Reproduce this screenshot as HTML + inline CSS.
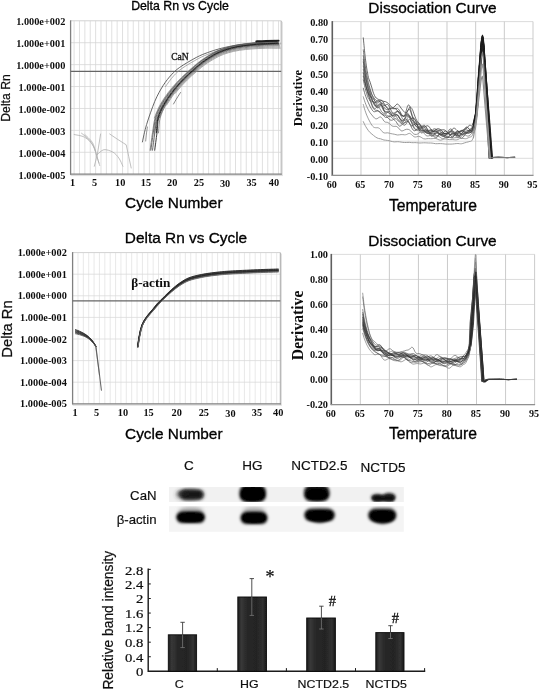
<!DOCTYPE html>
<html lang="en"><head><meta charset="utf-8"><title>Figure</title>
<style>
html,body{margin:0;padding:0;background:#fff;}
body{width:544px;height:689px;overflow:hidden;}
svg{display:block;}
.sa{font-family:"Liberation Sans", Arial, sans-serif;}
.se{font-family:"Liberation Serif", "Times New Roman", serif;}
</style></head><body>
<svg width="544" height="689" viewBox="0 0 544 689">
<defs>
<filter id="b1" x="-30%" y="-50%" width="160%" height="200%"><feGaussianBlur stdDeviation="1.2"/></filter>
<filter id="b2" x="-30%" y="-50%" width="160%" height="200%"><feGaussianBlur stdDeviation="1.6"/></filter>
<filter id="b3" x="-30%" y="-50%" width="160%" height="200%"><feGaussianBlur stdDeviation="2.2"/></filter>
<filter id="soft" x="0" y="0" width="100%" height="100%"><feGaussianBlur stdDeviation="0.35"/></filter>
</defs>
<rect width="544" height="689" fill="#fff"/>
<g filter="url(#soft)">
<line x1="74.10" y1="20.80" x2="74.10" y2="174.20" stroke="#d2d2d2" stroke-width="0.7"/>
<line x1="79.48" y1="20.80" x2="79.48" y2="174.20" stroke="#d2d2d2" stroke-width="0.7"/>
<line x1="84.86" y1="20.80" x2="84.86" y2="174.20" stroke="#d2d2d2" stroke-width="0.7"/>
<line x1="90.24" y1="20.80" x2="90.24" y2="174.20" stroke="#d2d2d2" stroke-width="0.7"/>
<line x1="95.62" y1="20.80" x2="95.62" y2="174.20" stroke="#d2d2d2" stroke-width="0.7"/>
<line x1="101.00" y1="20.80" x2="101.00" y2="174.20" stroke="#d2d2d2" stroke-width="0.7"/>
<line x1="106.38" y1="20.80" x2="106.38" y2="174.20" stroke="#d2d2d2" stroke-width="0.7"/>
<line x1="111.76" y1="20.80" x2="111.76" y2="174.20" stroke="#d2d2d2" stroke-width="0.7"/>
<line x1="117.14" y1="20.80" x2="117.14" y2="174.20" stroke="#d2d2d2" stroke-width="0.7"/>
<line x1="122.52" y1="20.80" x2="122.52" y2="174.20" stroke="#d2d2d2" stroke-width="0.7"/>
<line x1="127.90" y1="20.80" x2="127.90" y2="174.20" stroke="#d2d2d2" stroke-width="0.7"/>
<line x1="133.28" y1="20.80" x2="133.28" y2="174.20" stroke="#d2d2d2" stroke-width="0.7"/>
<line x1="138.66" y1="20.80" x2="138.66" y2="174.20" stroke="#d2d2d2" stroke-width="0.7"/>
<line x1="144.04" y1="20.80" x2="144.04" y2="174.20" stroke="#d2d2d2" stroke-width="0.7"/>
<line x1="149.42" y1="20.80" x2="149.42" y2="174.20" stroke="#d2d2d2" stroke-width="0.7"/>
<line x1="154.80" y1="20.80" x2="154.80" y2="174.20" stroke="#d2d2d2" stroke-width="0.7"/>
<line x1="160.18" y1="20.80" x2="160.18" y2="174.20" stroke="#d2d2d2" stroke-width="0.7"/>
<line x1="165.56" y1="20.80" x2="165.56" y2="174.20" stroke="#d2d2d2" stroke-width="0.7"/>
<line x1="170.94" y1="20.80" x2="170.94" y2="174.20" stroke="#d2d2d2" stroke-width="0.7"/>
<line x1="176.32" y1="20.80" x2="176.32" y2="174.20" stroke="#d2d2d2" stroke-width="0.7"/>
<line x1="181.70" y1="20.80" x2="181.70" y2="174.20" stroke="#d2d2d2" stroke-width="0.7"/>
<line x1="187.08" y1="20.80" x2="187.08" y2="174.20" stroke="#d2d2d2" stroke-width="0.7"/>
<line x1="192.46" y1="20.80" x2="192.46" y2="174.20" stroke="#d2d2d2" stroke-width="0.7"/>
<line x1="197.84" y1="20.80" x2="197.84" y2="174.20" stroke="#d2d2d2" stroke-width="0.7"/>
<line x1="203.22" y1="20.80" x2="203.22" y2="174.20" stroke="#d2d2d2" stroke-width="0.7"/>
<line x1="208.60" y1="20.80" x2="208.60" y2="174.20" stroke="#d2d2d2" stroke-width="0.7"/>
<line x1="213.98" y1="20.80" x2="213.98" y2="174.20" stroke="#d2d2d2" stroke-width="0.7"/>
<line x1="219.36" y1="20.80" x2="219.36" y2="174.20" stroke="#d2d2d2" stroke-width="0.7"/>
<line x1="224.74" y1="20.80" x2="224.74" y2="174.20" stroke="#d2d2d2" stroke-width="0.7"/>
<line x1="230.12" y1="20.80" x2="230.12" y2="174.20" stroke="#d2d2d2" stroke-width="0.7"/>
<line x1="235.50" y1="20.80" x2="235.50" y2="174.20" stroke="#d2d2d2" stroke-width="0.7"/>
<line x1="240.88" y1="20.80" x2="240.88" y2="174.20" stroke="#d2d2d2" stroke-width="0.7"/>
<line x1="246.26" y1="20.80" x2="246.26" y2="174.20" stroke="#d2d2d2" stroke-width="0.7"/>
<line x1="251.64" y1="20.80" x2="251.64" y2="174.20" stroke="#d2d2d2" stroke-width="0.7"/>
<line x1="257.02" y1="20.80" x2="257.02" y2="174.20" stroke="#d2d2d2" stroke-width="0.7"/>
<line x1="262.40" y1="20.80" x2="262.40" y2="174.20" stroke="#d2d2d2" stroke-width="0.7"/>
<line x1="267.78" y1="20.80" x2="267.78" y2="174.20" stroke="#d2d2d2" stroke-width="0.7"/>
<line x1="273.16" y1="20.80" x2="273.16" y2="174.20" stroke="#d2d2d2" stroke-width="0.7"/>
<line x1="278.54" y1="20.80" x2="278.54" y2="174.20" stroke="#d2d2d2" stroke-width="0.7"/>
<line x1="70.60" y1="42.71" x2="281.20" y2="42.71" stroke="#d4d4d4" stroke-width="0.75"/>
<line x1="70.60" y1="64.63" x2="281.20" y2="64.63" stroke="#d4d4d4" stroke-width="0.75"/>
<line x1="70.60" y1="86.54" x2="281.20" y2="86.54" stroke="#d4d4d4" stroke-width="0.75"/>
<line x1="70.60" y1="108.46" x2="281.20" y2="108.46" stroke="#d4d4d4" stroke-width="0.75"/>
<line x1="70.60" y1="130.37" x2="281.20" y2="130.37" stroke="#d4d4d4" stroke-width="0.75"/>
<line x1="70.60" y1="152.29" x2="281.20" y2="152.29" stroke="#d4d4d4" stroke-width="0.75"/>
<line x1="70.60" y1="20.80" x2="281.20" y2="20.80" stroke="#d2d2d2" stroke-width="1"/>
<line x1="281.20" y1="20.80" x2="281.20" y2="175.20" stroke="#a8a8a8" stroke-width="1"/>
<line x1="282.40" y1="21.80" x2="282.40" y2="175.70" stroke="#e2e2e2" stroke-width="1"/>
<line x1="70.60" y1="175.60" x2="282.70" y2="175.60" stroke="#dcdcdc" stroke-width="1"/>
<line x1="70.60" y1="20.30" x2="70.60" y2="174.70" stroke="#808080" stroke-width="1.3"/>
<line x1="70.10" y1="174.20" x2="281.70" y2="174.20" stroke="#808080" stroke-width="1.3"/>
<line x1="70.60" y1="71.30" x2="281.20" y2="71.30" stroke="#666" stroke-width="1.2"/>
<text class="se" x="0" y="0" font-size="10.6" font-weight="bold" text-anchor="end" fill="#111" transform="translate(65.30 25.20) scale(0.975 1)">1.000e+002</text>
<text class="se" x="0" y="0" font-size="10.6" font-weight="bold" text-anchor="end" fill="#111" transform="translate(65.30 47.11) scale(0.975 1)">1.000e+001</text>
<text class="se" x="0" y="0" font-size="10.6" font-weight="bold" text-anchor="end" fill="#111" transform="translate(65.30 69.03) scale(0.975 1)">1.000e+000</text>
<text class="se" x="0" y="0" font-size="10.6" font-weight="bold" text-anchor="end" fill="#111" transform="translate(65.30 90.94) scale(0.975 1)">1.000e-001</text>
<text class="se" x="0" y="0" font-size="10.6" font-weight="bold" text-anchor="end" fill="#111" transform="translate(65.30 112.86) scale(0.975 1)">1.000e-002</text>
<text class="se" x="0" y="0" font-size="10.6" font-weight="bold" text-anchor="end" fill="#111" transform="translate(65.30 134.77) scale(0.975 1)">1.000e-003</text>
<text class="se" x="0" y="0" font-size="10.6" font-weight="bold" text-anchor="end" fill="#111" transform="translate(65.30 156.69) scale(0.975 1)">1.000e-004</text>
<text class="se" x="0" y="0" font-size="10.6" font-weight="bold" text-anchor="end" fill="#111" transform="translate(65.30 178.60) scale(0.975 1)">1.000e-005</text>
<text class="se" x="72.70" y="186.20" font-size="10.3" font-weight="bold" text-anchor="middle" fill="#111">1</text>
<text class="se" x="94.70" y="186.20" font-size="10.3" font-weight="bold" text-anchor="middle" fill="#111">5</text>
<text class="se" x="120.20" y="186.20" font-size="10.3" font-weight="bold" text-anchor="middle" fill="#111">10</text>
<text class="se" x="146.00" y="186.20" font-size="10.3" font-weight="bold" text-anchor="middle" fill="#111">15</text>
<text class="se" x="172.20" y="186.20" font-size="10.3" font-weight="bold" text-anchor="middle" fill="#111">20</text>
<text class="se" x="198.90" y="186.20" font-size="10.3" font-weight="bold" text-anchor="middle" fill="#111">25</text>
<text class="se" x="225.10" y="187.10" font-size="10.3" font-weight="bold" text-anchor="middle" fill="#111">30</text>
<text class="se" x="251.60" y="186.20" font-size="10.3" font-weight="bold" text-anchor="middle" fill="#111">35</text>
<text class="se" x="274.00" y="186.20" font-size="10.3" font-weight="bold" text-anchor="middle" fill="#111">40</text>
<text class="sa" x="180.00" y="9.70" font-size="12.3" text-anchor="middle" fill="#000" stroke="#000" stroke-width="0.32">Delta Rn vs Cycle</text>
<text class="sa" x="173.80" y="208.20" font-size="15.4" text-anchor="middle" fill="#000" stroke="#000" stroke-width="0.32">Cycle Number</text>
<text class="sa" x="0" y="0" font-size="12.2" text-anchor="middle" fill="#111" stroke="#111" stroke-width="0.25" transform="translate(10.40 98.00) rotate(-90)">Delta Rn</text>
<path d="M142.4,141.9 C143.1,139.0 144.5,131.3 146.6,124.5 C148.7,117.7 152.1,107.8 154.8,101.3 C157.6,94.8 160.3,90.0 163.1,85.6 C165.9,81.2 168.6,77.8 171.4,74.8 C174.2,71.8 175.6,70.3 179.7,67.4 C183.8,64.5 191.5,60.0 196.2,57.5 C200.9,55.0 203.8,54.0 207.8,52.5 C211.8,51.0 215.6,49.8 220.0,48.6 C224.4,47.5 229.0,46.4 234.0,45.6 C239.0,44.8 242.6,44.3 250.0,43.8 C257.4,43.3 273.8,43.0 278.5,42.8" fill="none" stroke="#555" stroke-width="0.9" stroke-linejoin="round" stroke-linecap="round"/>
<path d="M145.7,141.0 C145.8,139.8 146.1,136.3 146.4,134.0 C146.7,131.7 147.2,128.2 147.4,127.0" fill="none" stroke="#777" stroke-width="0.8" stroke-linejoin="round" stroke-linecap="round"/>
<path d="M165.4,86.6 C166.8,84.8 170.9,78.8 173.7,75.8 C176.5,72.8 177.9,71.3 182.0,68.4 C186.1,65.5 193.8,61.0 198.5,58.5 C203.2,56.0 206.1,55.0 210.1,53.5 C214.1,52.0 217.9,50.8 222.3,49.6 C226.7,48.5 231.3,47.4 236.3,46.6 C241.3,45.8 244.9,45.3 252.3,44.8 C259.7,44.3 276.1,44.0 280.8,43.8" fill="none" stroke="#8a8a8a" stroke-width="0.7" stroke-linejoin="round" stroke-linecap="round"/>
<path d="M154.3,117.9 C155.3,115.7 157.8,108.9 160.2,104.6 C162.5,100.3 165.7,95.9 168.5,92.1 C171.3,88.4 174.1,85.3 176.9,82.2 C179.7,79.2 182.5,76.5 185.2,73.9 C188.0,71.3 190.7,68.8 193.5,66.5 C196.3,64.1 198.5,62.1 201.9,59.8 C205.2,57.5 209.8,54.5 213.4,52.6 C217.0,50.7 220.0,49.6 223.5,48.4 C227.0,47.2 230.5,46.2 234.5,45.4 C238.5,44.5 243.1,43.9 247.6,43.4 C252.1,42.8 256.9,42.4 261.6,42.0 C266.4,41.7 273.9,41.4 276.3,41.3" fill="none" stroke="#808080" stroke-width="0.7" stroke-linejoin="round" stroke-linecap="round"/>
<path d="M150.1,150.2 C150.5,147.3 151.7,138.2 152.5,132.8 C153.4,127.4 153.7,122.6 155.1,117.9 C156.5,113.2 158.5,108.9 160.9,104.6 C163.2,100.3 166.4,95.9 169.2,92.2 C172.0,88.5 174.8,85.4 177.5,82.3 C180.3,79.3 183.1,76.7 185.9,74.1 C188.6,71.4 191.3,69.0 194.1,66.7 C196.9,64.3 199.1,62.3 202.4,60.0 C205.7,57.7 210.4,54.8 214.0,52.9 C217.6,51.0 220.5,49.9 224.0,48.7 C227.5,47.5 231.0,46.6 235.0,45.7 C239.0,44.9 243.5,44.3 248.0,43.8 C252.6,43.2 257.3,42.8 262.1,42.5 C266.8,42.2 274.3,41.9 276.7,41.8" fill="none" stroke="#666" stroke-width="0.75" stroke-linejoin="round" stroke-linecap="round"/>
<path d="M150.9,150.2 C151.3,147.3 152.5,138.2 153.3,132.8 C154.1,127.4 154.4,122.6 155.8,117.9 C157.2,113.2 159.2,108.9 161.6,104.6 C163.9,100.3 167.1,95.9 169.9,92.2 C172.7,88.5 175.4,85.3 178.2,82.3 C181.0,79.3 183.8,76.6 186.5,74.0 C189.2,71.4 191.9,68.9 194.7,66.6 C197.4,64.2 199.7,62.2 203.0,59.9 C206.3,57.6 210.9,54.7 214.5,52.8 C218.1,50.9 221.0,49.8 224.5,48.6 C228.0,47.4 231.5,46.4 235.5,45.6 C239.5,44.8 244.0,44.2 248.5,43.6 C253.0,43.0 257.7,42.6 262.5,42.3 C267.3,42.0 274.7,41.7 277.1,41.6" fill="none" stroke="#505050" stroke-width="0.8" stroke-linejoin="round" stroke-linecap="round"/>
<path d="M154.1,132.8 C154.5,130.3 155.2,122.6 156.5,117.9 C157.9,113.3 160.0,109.0 162.3,104.7 C164.7,100.4 167.8,96.0 170.6,92.3 C173.3,88.6 176.1,85.5 178.9,82.5 C181.6,79.4 184.4,76.8 187.1,74.2 C189.9,71.6 192.6,69.2 195.3,66.9 C198.0,64.5 200.3,62.5 203.6,60.2 C206.9,57.9 211.5,55.0 215.0,53.2 C218.6,51.3 221.5,50.2 225.0,49.0 C228.5,47.9 232.0,46.9 236.0,46.1 C240.0,45.3 244.5,44.7 249.0,44.2 C253.4,43.6 258.2,43.2 262.9,42.9 C267.7,42.6 275.1,42.4 277.5,42.3" fill="none" stroke="#707070" stroke-width="0.7" stroke-linejoin="round" stroke-linecap="round"/>
<path d="M152.5,150.2 C152.9,147.3 154.0,138.2 154.8,132.8 C155.6,127.5 155.9,122.7 157.3,118.0 C158.7,113.3 160.7,109.0 163.0,104.7 C165.4,100.5 168.5,96.1 171.3,92.4 C174.0,88.7 176.8,85.6 179.5,82.6 C182.3,79.6 185.0,77.0 187.8,74.4 C190.5,71.8 193.2,69.4 195.9,67.1 C198.6,64.7 200.9,62.7 204.1,60.4 C207.4,58.2 212.0,55.3 215.6,53.4 C219.2,51.6 222.0,50.5 225.5,49.3 C229.0,48.2 232.5,47.3 236.5,46.5 C240.5,45.7 244.9,45.1 249.4,44.6 C253.9,44.1 258.6,43.7 263.4,43.4 C268.1,43.1 275.5,42.9 277.9,42.8" fill="none" stroke="#444" stroke-width="0.8" stroke-linejoin="round" stroke-linecap="round"/>
<path d="M156.4,132.8 C156.7,130.4 156.8,122.7 158.0,118.0 C159.2,113.3 161.4,109.0 163.7,104.8 C166.1,100.5 169.2,96.2 172.0,92.5 C174.7,88.8 177.4,85.7 180.2,82.7 C182.9,79.7 185.7,77.1 188.4,74.5 C191.1,71.9 193.8,69.6 196.5,67.2 C199.2,64.9 201.4,62.9 204.7,60.7 C208.0,58.4 212.6,55.6 216.1,53.7 C219.7,51.9 222.6,50.8 226.0,49.7 C229.5,48.5 233.0,47.6 237.0,46.8 C240.9,46.0 245.4,45.5 249.9,45.0 C254.3,44.5 259.0,44.1 263.8,43.8 C268.5,43.6 275.9,43.4 278.3,43.3" fill="none" stroke="#1c1c1c" stroke-width="1.0" stroke-linejoin="round" stroke-linecap="round"/>
<path d="M154.7,150.2 C155.1,147.3 156.3,138.2 157.0,132.9 C157.6,127.5 157.4,122.7 158.6,118.1 C159.8,113.4 162.0,109.1 164.3,104.9 C166.6,100.6 169.7,96.3 172.5,92.6 C175.2,88.9 177.9,85.8 180.7,82.9 C183.4,79.9 186.1,77.3 188.9,74.7 C191.6,72.2 194.2,69.8 196.9,67.5 C199.7,65.2 201.9,63.2 205.1,61.0 C208.4,58.8 213.0,55.9 216.5,54.1 C220.1,52.3 223.0,51.2 226.4,50.1 C229.9,49.0 233.4,48.1 237.3,47.3 C241.3,46.6 245.8,46.0 250.2,45.5 C254.7,45.1 259.4,44.7 264.1,44.5 C268.8,44.2 276.2,44.1 278.6,44.0" fill="none" stroke="#2a2a2a" stroke-width="0.9" stroke-linejoin="round" stroke-linecap="round"/>
<path d="M159.2,118.1 C160.2,115.9 162.6,109.2 164.9,105.0 C167.2,100.7 170.3,96.4 173.1,92.8 C175.8,89.1 178.5,86.0 181.2,83.1 C184.0,80.1 186.7,77.5 189.4,75.0 C192.1,72.4 194.8,70.1 197.5,67.8 C200.2,65.5 202.4,63.6 205.6,61.4 C208.9,59.1 213.5,56.3 217.0,54.5 C220.6,52.7 223.4,51.7 226.9,50.6 C230.3,49.5 233.8,48.6 237.7,47.9 C241.7,47.1 246.2,46.6 250.6,46.2 C255.1,45.7 259.8,45.4 264.5,45.2 C269.2,45.0 276.5,44.9 279.0,44.8" fill="none" stroke="#555" stroke-width="0.8" stroke-linejoin="round" stroke-linecap="round"/>
<path d="M158.5,132.9 C158.8,130.4 158.9,122.8 160.1,118.2 C161.3,113.5 163.4,109.3 165.7,105.1 C168.0,100.9 171.1,96.6 173.8,92.9 C176.6,89.3 179.3,86.2 182.0,83.3 C184.7,80.4 187.4,77.8 190.1,75.3 C192.8,72.8 195.5,70.4 198.1,68.2 C200.8,65.9 203.0,64.0 206.3,61.8 C209.5,59.6 214.1,56.8 217.6,55.1 C221.2,53.3 224.0,52.3 227.5,51.2 C230.9,50.1 234.3,49.3 238.3,48.6 C242.2,47.9 246.7,47.4 251.1,47.0 C255.6,46.6 260.3,46.3 265.0,46.1 C269.7,45.9 277.0,45.8 279.4,45.8" fill="none" stroke="#6a6a6a" stroke-width="0.75" stroke-linejoin="round" stroke-linecap="round"/>
<path d="M166.5,105.2 C167.9,103.2 171.9,96.7 174.6,93.1 C177.3,89.5 180.0,86.5 182.7,83.6 C185.4,80.7 188.1,78.1 190.8,75.6 C193.5,73.2 196.1,70.9 198.8,68.6 C201.5,66.4 203.7,64.5 206.9,62.4 C210.2,60.2 214.7,57.4 218.2,55.7 C221.8,54.0 224.6,53.0 228.0,52.0 C231.5,50.9 234.9,50.1 238.8,49.5 C242.8,48.8 247.2,48.3 251.6,48.0 C256.1,47.6 260.7,47.3 265.4,47.2 C270.1,47.0 277.4,47.0 279.9,47.0" fill="none" stroke="#808080" stroke-width="0.75" stroke-linejoin="round" stroke-linecap="round"/>
<path d="M175.3,93.3 C176.6,91.8 180.7,86.7 183.4,83.9 C186.1,81.0 188.8,78.5 191.4,76.0 C194.1,73.6 196.7,71.3 199.4,69.1 C202.1,66.9 204.3,65.0 207.5,62.9 C210.7,60.8 215.3,58.1 218.8,56.4 C222.3,54.7 225.1,53.7 228.6,52.7 C232.0,51.7 235.4,50.9 239.3,50.3 C243.2,49.7 247.7,49.3 252.1,48.9 C256.5,48.6 261.2,48.4 265.9,48.2 C270.6,48.1 277.9,48.2 280.2,48.2" fill="none" stroke="#8c8c8c" stroke-width="0.75" stroke-linejoin="round" stroke-linecap="round"/>
<path d="M256.3,41.4 C257.9,41.3 262.3,41.0 266.0,40.9 C269.7,40.8 276.5,40.8 278.6,40.8" fill="none" stroke="#1c1c1c" stroke-width="2.0" stroke-linejoin="round" stroke-linecap="round"/>
<path d="M173.5,104.0 C174.1,103.0 175.8,99.9 177.0,98.0 C178.2,96.1 179.9,93.4 180.5,92.5" fill="none" stroke="#666" stroke-width="0.8" stroke-linejoin="round" stroke-linecap="round"/>
<path d="M74.1,134.5 C75.9,135.0 81.6,135.5 84.8,137.3 C88.0,139.2 91.0,142.2 93.1,145.6 C95.2,149.0 96.2,154.7 97.3,158.0 C98.4,161.3 99.3,164.2 99.7,165.5" fill="none" stroke="#b0b0b0" stroke-width="0.8" stroke-linejoin="round" stroke-linecap="round"/>
<path d="M81.5,133.2 C82.9,134.4 87.6,137.8 89.8,140.6 C92.0,143.3 93.3,146.0 94.8,149.7 C96.3,153.4 98.2,160.8 98.9,163.0" fill="none" stroke="#b0b0b0" stroke-width="0.8" stroke-linejoin="round" stroke-linecap="round"/>
<path d="M84.8,134.5 C86.0,135.8 90.5,139.5 92.3,142.3 C94.1,145.1 95.0,149.9 95.6,151.4" fill="none" stroke="#b0b0b0" stroke-width="0.8" stroke-linejoin="round" stroke-linecap="round"/>
<path d="M94.3,166.3 L97.3,154.7 L100.6,134.0" fill="none" stroke="#b0b0b0" stroke-width="0.8" stroke-linejoin="round" stroke-linecap="round"/>
<path d="M97.3,154.7 C98.4,153.9 101.3,150.1 103.9,149.7 C106.5,149.3 110.5,150.8 113.0,152.2 C115.5,153.6 117.1,155.7 118.8,158.0 C120.5,160.3 122.2,164.9 122.9,166.3" fill="none" stroke="#b0b0b0" stroke-width="0.8" stroke-linejoin="round" stroke-linecap="round"/>
<path d="M109.7,134.0 L117.1,139.0 L126.2,144.8 L128.7,156.4 L131.2,168.0" fill="none" stroke="#b0b0b0" stroke-width="0.8" stroke-linejoin="round" stroke-linecap="round"/>
<text class="se" x="0" y="0" font-size="11" text-anchor="start" fill="#1a1a1a" stroke="#1a1a1a" stroke-width="0.4" transform="translate(171.20 59.80) scale(0.87 1)">CaN</text>
<line x1="77.97" y1="252.60" x2="77.97" y2="403.80" stroke="#e0e0e0" stroke-width="0.7"/>
<line x1="83.34" y1="252.60" x2="83.34" y2="403.80" stroke="#e0e0e0" stroke-width="0.7"/>
<line x1="88.71" y1="252.60" x2="88.71" y2="403.80" stroke="#e0e0e0" stroke-width="0.7"/>
<line x1="94.08" y1="252.60" x2="94.08" y2="403.80" stroke="#e0e0e0" stroke-width="0.7"/>
<line x1="99.45" y1="252.60" x2="99.45" y2="403.80" stroke="#e0e0e0" stroke-width="0.7"/>
<line x1="104.82" y1="252.60" x2="104.82" y2="403.80" stroke="#e0e0e0" stroke-width="0.7"/>
<line x1="110.19" y1="252.60" x2="110.19" y2="403.80" stroke="#e0e0e0" stroke-width="0.7"/>
<line x1="115.56" y1="252.60" x2="115.56" y2="403.80" stroke="#e0e0e0" stroke-width="0.7"/>
<line x1="120.93" y1="252.60" x2="120.93" y2="403.80" stroke="#e0e0e0" stroke-width="0.7"/>
<line x1="126.30" y1="252.60" x2="126.30" y2="403.80" stroke="#e0e0e0" stroke-width="0.7"/>
<line x1="131.67" y1="252.60" x2="131.67" y2="403.80" stroke="#e0e0e0" stroke-width="0.7"/>
<line x1="137.04" y1="252.60" x2="137.04" y2="403.80" stroke="#e0e0e0" stroke-width="0.7"/>
<line x1="142.41" y1="252.60" x2="142.41" y2="403.80" stroke="#e0e0e0" stroke-width="0.7"/>
<line x1="147.78" y1="252.60" x2="147.78" y2="403.80" stroke="#e0e0e0" stroke-width="0.7"/>
<line x1="153.15" y1="252.60" x2="153.15" y2="403.80" stroke="#e0e0e0" stroke-width="0.7"/>
<line x1="158.52" y1="252.60" x2="158.52" y2="403.80" stroke="#e0e0e0" stroke-width="0.7"/>
<line x1="163.89" y1="252.60" x2="163.89" y2="403.80" stroke="#e0e0e0" stroke-width="0.7"/>
<line x1="169.26" y1="252.60" x2="169.26" y2="403.80" stroke="#e0e0e0" stroke-width="0.7"/>
<line x1="174.63" y1="252.60" x2="174.63" y2="403.80" stroke="#e0e0e0" stroke-width="0.7"/>
<line x1="180.00" y1="252.60" x2="180.00" y2="403.80" stroke="#e0e0e0" stroke-width="0.7"/>
<line x1="185.37" y1="252.60" x2="185.37" y2="403.80" stroke="#e0e0e0" stroke-width="0.7"/>
<line x1="190.74" y1="252.60" x2="190.74" y2="403.80" stroke="#e0e0e0" stroke-width="0.7"/>
<line x1="196.11" y1="252.60" x2="196.11" y2="403.80" stroke="#e0e0e0" stroke-width="0.7"/>
<line x1="201.48" y1="252.60" x2="201.48" y2="403.80" stroke="#e0e0e0" stroke-width="0.7"/>
<line x1="206.85" y1="252.60" x2="206.85" y2="403.80" stroke="#e0e0e0" stroke-width="0.7"/>
<line x1="212.22" y1="252.60" x2="212.22" y2="403.80" stroke="#e0e0e0" stroke-width="0.7"/>
<line x1="217.59" y1="252.60" x2="217.59" y2="403.80" stroke="#e0e0e0" stroke-width="0.7"/>
<line x1="222.96" y1="252.60" x2="222.96" y2="403.80" stroke="#e0e0e0" stroke-width="0.7"/>
<line x1="228.33" y1="252.60" x2="228.33" y2="403.80" stroke="#e0e0e0" stroke-width="0.7"/>
<line x1="233.70" y1="252.60" x2="233.70" y2="403.80" stroke="#e0e0e0" stroke-width="0.7"/>
<line x1="239.07" y1="252.60" x2="239.07" y2="403.80" stroke="#e0e0e0" stroke-width="0.7"/>
<line x1="244.44" y1="252.60" x2="244.44" y2="403.80" stroke="#e0e0e0" stroke-width="0.7"/>
<line x1="249.81" y1="252.60" x2="249.81" y2="403.80" stroke="#e0e0e0" stroke-width="0.7"/>
<line x1="255.18" y1="252.60" x2="255.18" y2="403.80" stroke="#e0e0e0" stroke-width="0.7"/>
<line x1="260.55" y1="252.60" x2="260.55" y2="403.80" stroke="#e0e0e0" stroke-width="0.7"/>
<line x1="265.92" y1="252.60" x2="265.92" y2="403.80" stroke="#e0e0e0" stroke-width="0.7"/>
<line x1="271.29" y1="252.60" x2="271.29" y2="403.80" stroke="#e0e0e0" stroke-width="0.7"/>
<line x1="276.66" y1="252.60" x2="276.66" y2="403.80" stroke="#e0e0e0" stroke-width="0.7"/>
<line x1="72.60" y1="274.20" x2="280.30" y2="274.20" stroke="#dadada" stroke-width="0.75"/>
<line x1="72.60" y1="295.80" x2="280.30" y2="295.80" stroke="#dadada" stroke-width="0.75"/>
<line x1="72.60" y1="317.40" x2="280.30" y2="317.40" stroke="#dadada" stroke-width="0.75"/>
<line x1="72.60" y1="339.00" x2="280.30" y2="339.00" stroke="#dadada" stroke-width="0.75"/>
<line x1="72.60" y1="360.60" x2="280.30" y2="360.60" stroke="#dadada" stroke-width="0.75"/>
<line x1="72.60" y1="382.20" x2="280.30" y2="382.20" stroke="#dadada" stroke-width="0.75"/>
<line x1="72.60" y1="252.60" x2="280.30" y2="252.60" stroke="#d2d2d2" stroke-width="1"/>
<line x1="280.30" y1="252.60" x2="280.30" y2="404.80" stroke="#a8a8a8" stroke-width="1"/>
<line x1="281.50" y1="253.60" x2="281.50" y2="405.30" stroke="#e2e2e2" stroke-width="1"/>
<line x1="72.60" y1="405.20" x2="281.80" y2="405.20" stroke="#dcdcdc" stroke-width="1"/>
<line x1="72.60" y1="252.10" x2="72.60" y2="404.30" stroke="#808080" stroke-width="1.3"/>
<line x1="72.10" y1="403.80" x2="280.80" y2="403.80" stroke="#808080" stroke-width="1.3"/>
<line x1="72.60" y1="300.90" x2="280.30" y2="300.90" stroke="#666" stroke-width="1.2"/>
<text class="se" x="0" y="0" font-size="10.6" font-weight="bold" text-anchor="end" fill="#111" transform="translate(66.80 256.10) scale(0.975 1)">1.000e+002</text>
<text class="se" x="0" y="0" font-size="10.6" font-weight="bold" text-anchor="end" fill="#111" transform="translate(66.80 277.70) scale(0.975 1)">1.000e+001</text>
<text class="se" x="0" y="0" font-size="10.6" font-weight="bold" text-anchor="end" fill="#111" transform="translate(66.80 299.30) scale(0.975 1)">1.000e+000</text>
<text class="se" x="0" y="0" font-size="10.6" font-weight="bold" text-anchor="end" fill="#111" transform="translate(66.80 320.90) scale(0.975 1)">1.000e-001</text>
<text class="se" x="0" y="0" font-size="10.6" font-weight="bold" text-anchor="end" fill="#111" transform="translate(66.80 342.50) scale(0.975 1)">1.000e-002</text>
<text class="se" x="0" y="0" font-size="10.6" font-weight="bold" text-anchor="end" fill="#111" transform="translate(66.80 364.10) scale(0.975 1)">1.000e-003</text>
<text class="se" x="0" y="0" font-size="10.6" font-weight="bold" text-anchor="end" fill="#111" transform="translate(66.80 385.70) scale(0.975 1)">1.000e-004</text>
<text class="se" x="0" y="0" font-size="10.6" font-weight="bold" text-anchor="end" fill="#111" transform="translate(66.80 407.30) scale(0.975 1)">1.000e-005</text>
<text class="se" x="75.00" y="416.30" font-size="10.3" font-weight="bold" text-anchor="middle" fill="#111">1</text>
<text class="se" x="96.50" y="416.30" font-size="10.3" font-weight="bold" text-anchor="middle" fill="#111">5</text>
<text class="se" x="123.00" y="416.30" font-size="10.3" font-weight="bold" text-anchor="middle" fill="#111">10</text>
<text class="se" x="148.60" y="416.30" font-size="10.3" font-weight="bold" text-anchor="middle" fill="#111">15</text>
<text class="se" x="176.70" y="416.30" font-size="10.3" font-weight="bold" text-anchor="middle" fill="#111">20</text>
<text class="se" x="203.80" y="416.30" font-size="10.3" font-weight="bold" text-anchor="middle" fill="#111">25</text>
<text class="se" x="230.50" y="417.20" font-size="10.3" font-weight="bold" text-anchor="middle" fill="#111">30</text>
<text class="se" x="257.00" y="416.30" font-size="10.3" font-weight="bold" text-anchor="middle" fill="#111">35</text>
<text class="se" x="278.20" y="416.30" font-size="10.3" font-weight="bold" text-anchor="middle" fill="#111">40</text>
<text class="sa" x="186.00" y="242.90" font-size="15.4" text-anchor="middle" fill="#000" stroke="#000" stroke-width="0.32">Delta Rn vs Cycle</text>
<text class="sa" x="173.80" y="438.60" font-size="15.4" text-anchor="middle" fill="#000" stroke="#000" stroke-width="0.32">Cycle Number</text>
<text class="sa" x="0" y="0" font-size="14.8" text-anchor="middle" fill="#111" stroke="#111" stroke-width="0.25" transform="translate(12.20 329.00) rotate(-90)">Delta Rn</text>
<path d="M137.5,346.6 C137.8,344.8 138.5,339.3 139.2,335.7 C139.9,332.0 140.6,328.0 141.9,324.7 C143.1,321.5 144.9,319.0 146.7,316.4 C148.5,313.8 151.1,311.1 152.9,309.0 C154.6,306.8 155.7,305.3 157.2,303.6 C158.7,301.9 160.3,300.6 162.1,298.8 C163.9,297.0 165.8,294.9 168.0,292.9 C170.2,290.8 172.8,288.3 175.3,286.3 C177.8,284.3 180.3,282.4 183.0,280.8 C185.7,279.2 187.7,278.1 191.4,276.9 C195.1,275.7 200.7,274.6 205.1,273.8 C209.5,273.0 213.4,272.6 218.0,272.1 C222.6,271.6 225.6,271.3 232.7,270.9 C239.8,270.5 252.7,269.9 260.3,269.6 C267.9,269.3 275.2,269.1 278.2,269.0" fill="none" stroke="#1a1a1a" stroke-width="1.0" stroke-opacity="0.85" stroke-linejoin="round" stroke-linecap="round"/>
<path d="M137.6,346.7 C137.9,344.9 138.5,339.4 139.3,335.8 C140.0,332.1 140.7,328.1 142.0,324.9 C143.2,321.7 144.9,319.2 146.8,316.6 C148.6,314.0 151.2,311.3 153.0,309.2 C154.7,307.1 155.8,305.6 157.3,303.9 C158.8,302.2 160.3,300.9 162.1,299.1 C163.9,297.3 165.8,295.2 168.0,293.2 C170.2,291.1 172.8,288.7 175.3,286.7 C177.8,284.7 180.3,282.7 183.0,281.2 C185.7,279.6 187.7,278.5 191.4,277.3 C195.1,276.1 200.7,275.0 205.1,274.2 C209.5,273.4 213.4,273.0 218.0,272.5 C222.6,272.0 225.6,271.7 232.7,271.3 C239.8,270.9 252.7,270.3 260.3,270.0 C267.9,269.7 275.2,269.5 278.2,269.4" fill="none" stroke="#333" stroke-width="1.0" stroke-opacity="0.85" stroke-linejoin="round" stroke-linecap="round"/>
<path d="M137.7,346.7 C137.9,344.9 138.6,339.5 139.4,335.9 C140.1,332.2 140.8,328.2 142.1,325.0 C143.3,321.8 145.0,319.3 146.9,316.7 C148.7,314.1 151.3,311.5 153.1,309.4 C154.8,307.3 155.9,305.8 157.4,304.1 C158.9,302.4 160.3,301.1 162.1,299.3 C163.9,297.6 165.8,295.5 168.0,293.5 C170.2,291.4 172.8,289.0 175.3,287.0 C177.8,285.0 180.3,283.1 183.0,281.5 C185.7,280.0 187.7,278.9 191.4,277.7 C195.1,276.5 200.7,275.4 205.1,274.6 C209.5,273.8 213.4,273.4 218.0,272.9 C222.6,272.4 225.6,272.1 232.7,271.7 C239.8,271.3 252.7,270.7 260.3,270.4 C267.9,270.1 275.2,269.9 278.2,269.8" fill="none" stroke="#222" stroke-width="1.0" stroke-opacity="0.85" stroke-linejoin="round" stroke-linecap="round"/>
<path d="M137.7,346.8 C138.0,345.0 138.7,339.5 139.4,335.9 C140.2,332.3 140.9,328.3 142.1,325.1 C143.4,321.9 145.1,319.5 146.9,316.9 C148.8,314.3 151.4,311.6 153.1,309.6 C154.9,307.5 155.9,306.0 157.4,304.3 C158.9,302.7 160.3,301.4 162.1,299.6 C163.9,297.8 165.8,295.8 168.0,293.8 C170.2,291.7 172.8,289.3 175.3,287.3 C177.8,285.4 180.3,283.5 183.0,281.9 C185.7,280.4 187.7,279.3 191.4,278.1 C195.1,276.9 200.7,275.8 205.1,275.0 C209.5,274.2 213.4,273.8 218.0,273.3 C222.6,272.8 225.6,272.5 232.7,272.1 C239.8,271.7 252.7,271.1 260.3,270.8 C267.9,270.5 275.2,270.3 278.2,270.2" fill="none" stroke="#444" stroke-width="1.0" stroke-opacity="0.85" stroke-linejoin="round" stroke-linecap="round"/>
<path d="M137.8,346.8 C138.1,345.0 138.8,339.6 139.5,336.0 C140.2,332.4 140.9,328.4 142.2,325.2 C143.4,322.0 145.2,319.6 147.0,317.0 C148.8,314.4 151.4,311.8 153.2,309.7 C154.9,307.6 156.0,306.1 157.5,304.5 C159.0,302.9 160.3,301.6 162.1,299.8 C163.8,298.1 165.8,296.0 168.0,294.0 C170.2,292.0 172.8,289.6 175.3,287.6 C177.8,285.6 180.3,283.7 183.0,282.2 C185.7,280.7 187.7,279.5 191.4,278.4 C195.1,277.2 200.7,276.1 205.1,275.3 C209.5,274.5 213.4,274.1 218.0,273.6 C222.6,273.1 225.6,272.8 232.7,272.4 C239.8,272.0 252.7,271.4 260.3,271.1 C267.9,270.8 275.2,270.6 278.2,270.5" fill="none" stroke="#111" stroke-width="1.0" stroke-opacity="0.85" stroke-linejoin="round" stroke-linecap="round"/>
<path d="M137.9,346.8 C138.1,345.0 138.8,339.7 139.6,336.1 C140.3,332.5 141.0,328.4 142.3,325.3 C143.5,322.1 145.2,319.7 147.1,317.1 C148.9,314.5 151.5,311.9 153.3,309.8 C155.0,307.8 156.1,306.3 157.6,304.7 C159.0,303.0 160.4,301.7 162.1,300.0 C163.8,298.3 165.8,296.3 168.0,294.2 C170.2,292.2 172.8,289.8 175.3,287.9 C177.8,285.9 180.3,284.0 183.0,282.5 C185.7,281.0 187.7,279.8 191.4,278.7 C195.1,277.6 200.7,276.4 205.1,275.6 C209.5,274.8 213.4,274.4 218.0,273.9 C222.6,273.4 225.6,273.1 232.7,272.7 C239.8,272.3 252.7,271.7 260.3,271.4 C267.9,271.1 275.2,270.9 278.2,270.8" fill="none" stroke="#333" stroke-width="1.0" stroke-opacity="0.85" stroke-linejoin="round" stroke-linecap="round"/>
<path d="M137.9,346.9 C138.2,345.1 138.9,339.7 139.6,336.1 C140.4,332.6 141.1,328.6 142.3,325.4 C143.6,322.3 145.3,319.8 147.1,317.3 C149.0,314.7 151.6,312.1 153.3,310.0 C155.1,308.0 156.2,306.5 157.6,304.9 C159.1,303.3 160.4,302.0 162.1,300.3 C163.8,298.5 165.8,296.5 168.0,294.5 C170.2,292.5 172.8,290.1 175.3,288.2 C177.8,286.2 180.3,284.4 183.0,282.9 C185.7,281.3 187.7,280.2 191.4,279.1 C195.1,278.0 200.7,276.8 205.1,276.0 C209.5,275.2 213.4,274.8 218.0,274.3 C222.6,273.8 225.6,273.5 232.7,273.1 C239.8,272.7 252.7,272.1 260.3,271.8 C267.9,271.5 275.2,271.3 278.2,271.2" fill="none" stroke="#222" stroke-width="1.0" stroke-opacity="0.85" stroke-linejoin="round" stroke-linecap="round"/>
<path d="M138.0,346.9 C138.3,345.1 139.0,339.8 139.7,336.2 C140.5,332.7 141.2,328.7 142.4,325.5 C143.7,322.4 145.4,320.0 147.2,317.4 C149.1,314.9 151.7,312.3 153.4,310.2 C155.2,308.2 156.3,306.7 157.7,305.1 C159.2,303.5 160.4,302.2 162.1,300.5 C163.8,298.8 165.8,296.8 168.0,294.8 C170.2,292.8 172.8,290.5 175.3,288.5 C177.8,286.6 180.3,284.7 183.0,283.2 C185.7,281.7 187.7,280.6 191.4,279.5 C195.1,278.4 200.7,277.2 205.1,276.4 C209.5,275.6 213.4,275.2 218.0,274.7 C222.6,274.2 225.6,273.9 232.7,273.5 C239.8,273.1 252.7,272.5 260.3,272.2 C267.9,271.9 275.2,271.7 278.2,271.6" fill="none" stroke="#555" stroke-width="1.0" stroke-opacity="0.85" stroke-linejoin="round" stroke-linecap="round"/>
<path d="M138.1,347.0 C138.4,345.2 139.1,339.9 139.8,336.3 C140.5,332.8 141.2,328.8 142.5,325.7 C143.8,322.5 145.5,320.1 147.3,317.6 C149.1,315.1 151.8,312.5 153.5,310.4 C155.2,308.4 156.4,307.0 157.8,305.4 C159.2,303.8 160.4,302.5 162.1,300.8 C163.8,299.1 165.8,297.1 168.0,295.1 C170.2,293.1 172.8,290.8 175.3,288.9 C177.8,286.9 180.3,285.1 183.0,283.6 C185.7,282.1 187.7,281.0 191.4,279.9 C195.1,278.8 200.7,277.6 205.1,276.8 C209.5,276.0 213.4,275.6 218.0,275.1 C222.6,274.6 225.6,274.3 232.7,273.9 C239.8,273.5 252.7,272.9 260.3,272.6 C267.9,272.3 275.2,272.1 278.2,272.0" fill="none" stroke="#666" stroke-width="1.0" stroke-opacity="0.85" stroke-linejoin="round" stroke-linecap="round"/>
<path d="M75.6,329.6 C76.5,330.0 79.1,330.9 81.0,331.9 C82.9,332.8 85.2,334.0 87.0,335.4 C88.8,336.7 90.5,338.5 92.0,340.2 C93.5,342.0 95.2,345.1 95.9,346.0" fill="none" stroke="#222" stroke-width="1.0" stroke-opacity="0.85" stroke-linejoin="round" stroke-linecap="round"/>
<path d="M75.6,330.3 C76.5,330.7 79.1,331.5 81.0,332.4 C82.9,333.3 85.2,334.4 87.0,335.8 C88.8,337.1 90.5,338.8 92.0,340.5 C93.5,342.2 95.2,345.2 95.9,346.1" fill="none" stroke="#333" stroke-width="1.0" stroke-opacity="0.85" stroke-linejoin="round" stroke-linecap="round"/>
<path d="M75.6,331.0 C76.5,331.3 79.1,332.1 81.0,333.0 C82.9,333.8 85.2,334.9 87.0,336.1 C88.8,337.4 90.5,339.0 92.0,340.7 C93.5,342.4 95.2,345.3 95.9,346.2" fill="none" stroke="#1a1a1a" stroke-width="1.0" stroke-opacity="0.85" stroke-linejoin="round" stroke-linecap="round"/>
<path d="M75.6,331.6 C76.5,331.9 79.1,332.6 81.0,333.4 C82.9,334.3 85.2,335.2 87.0,336.5 C88.8,337.7 90.5,339.3 92.0,340.9 C93.5,342.6 95.2,345.4 95.9,346.3" fill="none" stroke="#444" stroke-width="1.0" stroke-opacity="0.85" stroke-linejoin="round" stroke-linecap="round"/>
<path d="M75.6,332.3 C76.5,332.6 79.1,333.2 81.0,334.0 C82.9,334.8 85.2,335.7 87.0,336.9 C88.8,338.1 90.5,339.6 92.0,341.2 C93.5,342.8 95.2,345.5 95.9,346.4" fill="none" stroke="#222" stroke-width="1.0" stroke-opacity="0.85" stroke-linejoin="round" stroke-linecap="round"/>
<path d="M75.6,333.0 C76.5,333.3 79.1,333.8 81.0,334.5 C82.9,335.3 85.2,336.1 87.0,337.3 C88.8,338.4 90.5,339.9 92.0,341.4 C93.5,342.9 95.2,345.6 95.9,346.5" fill="none" stroke="#333" stroke-width="1.0" stroke-opacity="0.85" stroke-linejoin="round" stroke-linecap="round"/>
<path d="M75.6,333.8 C76.5,334.0 79.1,334.5 81.0,335.2 C82.9,335.8 85.2,336.6 87.0,337.7 C88.8,338.8 90.5,340.2 92.0,341.7 C93.5,343.2 95.2,345.8 95.9,346.6" fill="none" stroke="#555" stroke-width="1.0" stroke-opacity="0.85" stroke-linejoin="round" stroke-linecap="round"/>
<path d="M95.9,346.3 L101.4,390.2" fill="none" stroke="#6a6a6a" stroke-width="1.1" stroke-linejoin="round" stroke-linecap="round"/>
<path d="M95.5,345.5 L99.5,375.0" fill="none" stroke="#555" stroke-width="0.8" stroke-opacity="0.7" stroke-linejoin="round" stroke-linecap="round"/>
<text class="se" x="131.20" y="287.40" font-size="13.2" font-weight="bold" text-anchor="start" fill="#111">β-actin</text>
<line x1="332.30" y1="21.60" x2="533.00" y2="21.60" stroke="#d8d8d8" stroke-width="0.9"/>
<line x1="332.30" y1="38.69" x2="533.00" y2="38.69" stroke="#d8d8d8" stroke-width="0.9"/>
<line x1="332.30" y1="55.78" x2="533.00" y2="55.78" stroke="#d8d8d8" stroke-width="0.9"/>
<line x1="332.30" y1="72.87" x2="533.00" y2="72.87" stroke="#d8d8d8" stroke-width="0.9"/>
<line x1="332.30" y1="89.96" x2="533.00" y2="89.96" stroke="#d8d8d8" stroke-width="0.9"/>
<line x1="332.30" y1="107.04" x2="533.00" y2="107.04" stroke="#d8d8d8" stroke-width="0.9"/>
<line x1="332.30" y1="124.13" x2="533.00" y2="124.13" stroke="#d8d8d8" stroke-width="0.9"/>
<line x1="332.30" y1="141.22" x2="533.00" y2="141.22" stroke="#d8d8d8" stroke-width="0.9"/>
<line x1="332.30" y1="158.31" x2="533.00" y2="158.31" stroke="#d8d8d8" stroke-width="0.9"/>
<line x1="332.30" y1="175.40" x2="533.00" y2="175.40" stroke="#d8d8d8" stroke-width="0.9"/>
<line x1="360.97" y1="21.60" x2="360.97" y2="175.40" stroke="#c8c8c8" stroke-width="0.95"/>
<line x1="389.64" y1="21.60" x2="389.64" y2="175.40" stroke="#c8c8c8" stroke-width="0.95"/>
<line x1="418.31" y1="21.60" x2="418.31" y2="175.40" stroke="#c8c8c8" stroke-width="0.95"/>
<line x1="446.99" y1="21.60" x2="446.99" y2="175.40" stroke="#c8c8c8" stroke-width="0.95"/>
<line x1="475.66" y1="21.60" x2="475.66" y2="175.40" stroke="#c8c8c8" stroke-width="0.95"/>
<line x1="504.33" y1="21.60" x2="504.33" y2="175.40" stroke="#c8c8c8" stroke-width="0.95"/>
<line x1="533.00" y1="21.60" x2="533.00" y2="175.40" stroke="#c8c8c8" stroke-width="0.95"/>
<line x1="332.30" y1="21.10" x2="332.30" y2="175.90" stroke="#5e5e5e" stroke-width="1.6"/>
<line x1="331.80" y1="175.40" x2="533.50" y2="175.40" stroke="#909090" stroke-width="1.3"/>
<text class="se" x="328.20" y="26.40" font-size="10.3" font-weight="bold" text-anchor="end" fill="#111">0.80</text>
<text class="se" x="328.20" y="43.49" font-size="10.3" font-weight="bold" text-anchor="end" fill="#111">0.70</text>
<text class="se" x="328.20" y="60.58" font-size="10.3" font-weight="bold" text-anchor="end" fill="#111">0.60</text>
<text class="se" x="328.20" y="77.67" font-size="10.3" font-weight="bold" text-anchor="end" fill="#111">0.50</text>
<text class="se" x="328.20" y="94.76" font-size="10.3" font-weight="bold" text-anchor="end" fill="#111">0.40</text>
<text class="se" x="328.20" y="111.84" font-size="10.3" font-weight="bold" text-anchor="end" fill="#111">0.30</text>
<text class="se" x="328.20" y="128.93" font-size="10.3" font-weight="bold" text-anchor="end" fill="#111">0.20</text>
<text class="se" x="328.20" y="146.02" font-size="10.3" font-weight="bold" text-anchor="end" fill="#111">0.10</text>
<text class="se" x="328.20" y="163.11" font-size="10.3" font-weight="bold" text-anchor="end" fill="#111">0.00</text>
<text class="se" x="328.20" y="180.20" font-size="10.3" font-weight="bold" text-anchor="end" fill="#111">-0.10</text>
<text class="se" x="331.70" y="187.70" font-size="10.1" font-weight="bold" text-anchor="middle" fill="#111">60</text>
<text class="se" x="360.37" y="187.70" font-size="10.1" font-weight="bold" text-anchor="middle" fill="#111">65</text>
<text class="se" x="389.04" y="187.70" font-size="10.1" font-weight="bold" text-anchor="middle" fill="#111">70</text>
<text class="se" x="417.71" y="187.70" font-size="10.1" font-weight="bold" text-anchor="middle" fill="#111">75</text>
<text class="se" x="446.39" y="187.70" font-size="10.1" font-weight="bold" text-anchor="middle" fill="#111">80</text>
<text class="se" x="475.06" y="187.70" font-size="10.1" font-weight="bold" text-anchor="middle" fill="#111">85</text>
<text class="se" x="503.73" y="187.70" font-size="10.1" font-weight="bold" text-anchor="middle" fill="#111">90</text>
<text class="se" x="532.40" y="187.70" font-size="10.1" font-weight="bold" text-anchor="middle" fill="#111">95</text>
<text class="sa" x="432.50" y="13.00" font-size="15.4" text-anchor="middle" fill="#000" stroke="#000" stroke-width="0.32">Dissociation Curve</text>
<text class="sa" x="433.00" y="210.60" font-size="15.7" text-anchor="middle" fill="#000" stroke="#000" stroke-width="0.32">Temperature</text>
<text class="se" x="0" y="0" font-size="12.7" font-weight="bold" text-anchor="middle" fill="#111" transform="translate(302.00 98.00) rotate(-90)">Derivative</text>
<path d="M363.3,37.8 C363.6,40.7 364.4,50.2 365.0,55.3 C365.6,60.3 366.1,64.3 366.7,68.0 C367.3,71.7 367.9,75.1 368.4,77.4 C369.0,79.8 369.6,80.4 370.1,82.1 C370.7,83.9 371.3,86.1 371.9,87.9 C372.4,89.8 373.0,91.9 373.6,93.4 C374.2,94.9 374.7,96.1 375.3,97.0 C375.9,97.9 376.5,98.2 377.0,98.6 C377.6,99.1 378.2,99.2 378.7,99.5 C379.3,99.7 379.9,99.9 380.5,100.2 C381.0,100.4 381.6,100.7 382.2,100.9 C382.8,101.1 383.3,101.2 383.9,101.4 C384.5,101.5 385.1,101.5 385.6,101.7 C386.2,101.9 386.8,102.2 387.3,102.6 C387.9,103.0 388.5,103.5 389.1,104.2 C389.6,104.8 390.2,105.6 390.8,106.2 C391.4,106.8 391.9,107.5 392.5,107.6 C393.1,107.8 393.7,107.4 394.2,106.9 C394.8,106.5 395.4,105.4 396.0,104.9 C396.5,104.4 397.1,103.9 397.7,104.1 C398.2,104.2 398.8,105.0 399.4,105.7 C400.0,106.4 400.5,107.4 401.1,108.2 C401.7,109.0 402.3,109.6 402.8,110.3 C403.4,111.0 404.0,111.8 404.6,112.3 C405.1,112.7 405.7,113.2 406.3,112.9 C406.8,112.5 407.4,111.3 408.0,110.4 C408.6,109.5 409.1,107.8 409.7,107.4 C410.3,106.9 410.9,107.2 411.4,107.9 C412.0,108.6 412.6,110.1 413.2,111.5 C413.7,112.9 414.3,114.9 414.9,116.3 C415.4,117.8 416.0,119.2 416.6,120.2 C417.2,121.2 417.7,121.7 418.3,122.3 C418.9,123.0 419.5,123.5 420.0,124.2 C420.6,124.9 421.2,126.0 421.8,126.6 C422.3,127.1 422.9,127.2 423.5,127.3 C424.0,127.3 424.6,127.0 425.2,126.8 C425.8,126.5 426.3,125.9 426.9,125.8 C427.5,125.7 428.1,125.7 428.6,126.2 C429.2,126.7 429.8,127.8 430.4,128.6 C430.9,129.4 431.5,130.6 432.1,131.0 C432.6,131.5 433.2,131.7 433.8,131.5 C434.4,131.3 434.9,130.5 435.5,130.1 C436.1,129.6 436.7,129.0 437.2,128.8 C437.8,128.6 438.4,128.7 439.0,128.9 C439.5,129.0 440.1,129.4 440.7,129.6 C441.3,129.8 441.8,129.8 442.4,129.8 C443.0,129.8 443.5,129.7 444.1,129.8 C444.7,130.0 445.3,130.5 445.8,130.9 C446.4,131.4 447.0,132.3 447.6,132.6 C448.1,133.0 448.7,133.2 449.3,133.0 C449.9,132.8 450.4,131.9 451.0,131.2 C451.6,130.5 452.1,129.3 452.7,128.8 C453.3,128.3 453.9,128.0 454.4,128.2 C455.0,128.3 455.6,129.1 456.2,129.6 C456.7,130.1 457.3,130.9 457.9,131.2 C458.5,131.5 459.0,131.5 459.6,131.4 C460.2,131.4 460.7,131.0 461.3,130.8 C461.9,130.5 462.5,130.2 463.0,130.0 C463.6,129.8 464.2,129.9 464.8,129.6 C465.3,129.4 465.9,129.0 466.5,128.5 C467.1,127.9 467.6,126.9 468.2,126.4 C468.8,125.8 469.3,125.2 469.9,125.1 C470.5,125.0 471.1,126.2 471.6,125.9 C472.2,125.6 473.1,123.7 473.4,123.3" fill="none" stroke="#333" stroke-width="0.8" stroke-opacity="0.9" stroke-linejoin="round" stroke-linecap="round"/>
<path d="M473.4,123.3 L475.7,113.6 L477.1,98.1 L478.5,77.4 L480.0,58.5 L481.3,42.2 L482.0,37.1 L482.5,35.3 L483.2,40.2 L485.2,79.2 L487.3,118.2 L488.7,144.1 L489.4,158.0" fill="none" stroke="#1c1c1c" stroke-width="1.1" stroke-opacity="0.9" stroke-linejoin="round" stroke-linecap="round"/>
<path d="M489.4,158.0 L491.1,157.5 L498.6,157.3 L507.2,157.6 L514.7,157.3" fill="none" stroke="#333" stroke-width="0.6" stroke-opacity="0.6" stroke-linejoin="round" stroke-linecap="round"/>
<path d="M363.3,49.8 C363.6,52.2 364.4,59.9 365.0,64.0 C365.6,68.2 366.1,71.6 366.7,74.7 C367.3,77.8 367.9,80.3 368.4,82.6 C369.0,85.0 369.6,86.9 370.1,88.8 C370.7,90.8 371.3,92.8 371.9,94.3 C372.4,95.7 373.0,96.4 373.6,97.3 C374.2,98.2 374.7,98.8 375.3,99.4 C375.9,100.0 376.5,100.7 377.0,101.0 C377.6,101.3 378.2,101.2 378.7,101.0 C379.3,100.9 379.9,100.3 380.5,100.2 C381.0,100.2 381.6,100.2 382.2,100.7 C382.8,101.2 383.3,102.3 383.9,103.1 C384.5,104.0 385.1,105.2 385.6,106.0 C386.2,106.9 386.8,107.6 387.3,108.0 C387.9,108.5 388.5,108.8 389.1,108.9 C389.6,109.1 390.2,108.9 390.8,108.8 C391.4,108.8 391.9,108.6 392.5,108.6 C393.1,108.6 393.7,108.8 394.2,108.8 C394.8,108.8 395.4,108.6 396.0,108.5 C396.5,108.5 397.1,108.2 397.7,108.5 C398.2,108.8 398.8,109.5 399.4,110.3 C400.0,111.2 400.5,112.6 401.1,113.5 C401.7,114.5 402.3,115.8 402.8,116.1 C403.4,116.4 404.0,116.4 404.6,115.4 C405.1,114.5 405.7,112.1 406.3,110.4 C406.8,108.7 407.4,105.9 408.0,105.2 C408.6,104.5 409.1,105.0 409.7,106.3 C410.3,107.5 410.9,110.8 411.4,112.7 C412.0,114.7 412.6,116.7 413.2,117.9 C413.7,119.2 414.3,119.7 414.9,120.3 C415.4,121.0 416.0,121.2 416.6,121.7 C417.2,122.3 417.7,123.0 418.3,123.6 C418.9,124.3 419.5,125.1 420.0,125.5 C420.6,126.0 421.2,126.3 421.8,126.3 C422.3,126.3 422.9,125.4 423.5,125.3 C424.0,125.2 424.6,125.2 425.2,125.8 C425.8,126.3 426.3,127.5 426.9,128.5 C427.5,129.4 428.1,130.9 428.6,131.5 C429.2,132.1 429.8,132.3 430.4,132.2 C430.9,132.0 431.5,131.0 432.1,130.5 C432.6,129.9 433.2,129.1 433.8,128.9 C434.4,128.6 434.9,128.8 435.5,129.0 C436.1,129.2 436.7,129.7 437.2,129.9 C437.8,130.2 438.4,130.3 439.0,130.3 C439.5,130.4 440.1,130.2 440.7,130.4 C441.3,130.6 441.8,131.0 442.4,131.4 C443.0,131.9 443.5,132.8 444.1,133.3 C444.7,133.7 445.3,134.1 445.8,133.9 C446.4,133.8 447.0,133.0 447.6,132.2 C448.1,131.5 448.7,130.2 449.3,129.6 C449.9,129.1 450.4,128.8 451.0,128.9 C451.6,129.1 452.1,130.0 452.7,130.6 C453.3,131.2 453.9,132.2 454.4,132.5 C455.0,132.9 455.6,132.9 456.2,132.8 C456.7,132.7 457.3,132.2 457.9,131.9 C458.5,131.7 459.0,131.5 459.6,131.4 C460.2,131.3 460.7,131.6 461.3,131.4 C461.9,131.3 462.5,130.9 463.0,130.3 C463.6,129.8 464.2,128.8 464.8,128.3 C465.3,127.7 465.9,127.1 466.5,127.0 C467.1,126.9 467.6,127.4 468.2,127.9 C468.8,128.4 469.3,129.5 469.9,129.9 C470.5,130.3 471.1,131.3 471.6,130.3 C472.2,129.4 472.8,125.2 473.1,124.1" fill="none" stroke="#444" stroke-width="0.8" stroke-opacity="0.9" stroke-linejoin="round" stroke-linecap="round"/>
<path d="M473.1,124.1 L475.4,113.9 L476.8,98.5 L478.2,78.0 L479.7,59.2 L481.0,43.0 L481.7,38.0 L482.3,36.1 L482.9,41.0 L484.9,79.7 L487.0,118.4 L488.4,144.2 L489.1,158.0" fill="none" stroke="#1c1c1c" stroke-width="1.1" stroke-opacity="0.9" stroke-linejoin="round" stroke-linecap="round"/>
<path d="M489.1,158.0 L490.9,157.5 L498.6,157.3 L507.2,157.6 L514.7,157.3" fill="none" stroke="#444" stroke-width="0.6" stroke-opacity="0.6" stroke-linejoin="round" stroke-linecap="round"/>
<path d="M363.3,55.8 C363.6,57.9 364.4,64.6 365.0,68.3 C365.6,72.0 366.1,75.1 366.7,77.9 C367.3,80.8 367.9,83.2 368.4,85.3 C369.0,87.4 369.6,88.9 370.1,90.5 C370.7,92.2 371.3,93.7 371.9,95.0 C372.4,96.3 373.0,97.3 373.6,98.4 C374.2,99.6 374.7,100.8 375.3,101.9 C375.9,103.1 376.5,104.5 377.0,105.1 C377.6,105.8 378.2,106.2 378.7,106.0 C379.3,105.9 379.9,104.9 380.5,104.4 C381.0,104.0 381.6,103.2 382.2,103.1 C382.8,103.1 383.3,103.7 383.9,104.2 C384.5,104.6 385.1,105.3 385.6,106.0 C386.2,106.6 386.8,107.3 387.3,108.1 C387.9,108.9 388.5,109.9 389.1,110.7 C389.6,111.4 390.2,112.0 390.8,112.5 C391.4,113.0 391.9,113.3 392.5,113.5 C393.1,113.7 393.7,113.9 394.2,113.8 C394.8,113.7 395.4,113.1 396.0,112.7 C396.5,112.3 397.1,111.5 397.7,111.5 C398.2,111.5 398.8,111.8 399.4,112.6 C400.0,113.3 400.5,114.9 401.1,116.0 C401.7,117.1 402.3,118.6 402.8,119.1 C403.4,119.6 404.0,119.6 404.6,119.0 C405.1,118.5 405.7,116.9 406.3,116.0 C406.8,115.2 407.4,114.1 408.0,114.1 C408.6,114.0 409.1,115.0 409.7,115.8 C410.3,116.6 410.9,118.2 411.4,119.1 C412.0,119.9 412.6,120.5 413.2,121.0 C413.7,121.5 414.3,121.6 414.9,122.1 C415.4,122.6 416.0,123.2 416.6,123.9 C417.2,124.6 417.7,125.7 418.3,126.4 C418.9,127.1 419.5,127.9 420.0,128.2 C420.6,128.5 421.2,128.4 421.8,128.1 C422.3,127.8 422.9,126.7 423.5,126.4 C424.0,126.1 424.6,125.9 425.2,126.3 C425.8,126.6 426.3,127.6 426.9,128.5 C427.5,129.3 428.1,130.5 428.6,131.1 C429.2,131.8 429.8,132.1 430.4,132.2 C430.9,132.3 431.5,131.8 432.1,131.6 C432.6,131.4 433.2,131.1 433.8,131.1 C434.4,131.1 434.9,131.3 435.5,131.3 C436.1,131.4 436.7,131.5 437.2,131.3 C437.8,131.2 438.4,130.7 439.0,130.5 C439.5,130.2 440.1,129.8 440.7,130.0 C441.3,130.1 441.8,130.7 442.4,131.3 C443.0,131.9 443.5,133.2 444.1,133.8 C444.7,134.4 445.3,135.1 445.8,135.1 C446.4,135.1 447.0,134.5 447.6,133.9 C448.1,133.3 448.7,132.2 449.3,131.6 C449.9,131.1 450.4,130.7 451.0,130.7 C451.6,130.6 452.1,131.1 452.7,131.3 C453.3,131.6 453.9,132.0 454.4,132.1 C455.0,132.3 455.6,132.1 456.2,132.1 C456.7,132.1 457.3,132.0 457.9,132.1 C458.5,132.2 459.0,132.6 459.6,132.9 C460.2,133.1 460.7,133.7 461.3,133.6 C461.9,133.5 462.5,132.9 463.0,132.2 C463.6,131.6 464.2,130.3 464.8,129.5 C465.3,128.7 465.9,127.8 466.5,127.6 C467.1,127.3 467.6,127.6 468.2,128.0 C468.8,128.3 469.3,129.3 469.9,129.7 C470.5,130.1 471.0,131.1 471.6,130.3 C472.3,129.5 473.3,125.9 473.7,125.0" fill="none" stroke="#555" stroke-width="0.8" stroke-opacity="0.9" stroke-linejoin="round" stroke-linecap="round"/>
<path d="M473.7,125.0 L475.9,114.8 L477.4,99.8 L478.8,79.7 L480.2,61.3 L481.6,45.4 L482.3,40.5 L482.8,38.7 L483.5,43.5 L485.8,81.4 L488.1,119.3 L489.7,144.5 L490.6,158.0" fill="none" stroke="#1c1c1c" stroke-width="1.1" stroke-opacity="0.9" stroke-linejoin="round" stroke-linecap="round"/>
<path d="M490.6,158.0 L492.3,157.5 L498.6,157.3 L507.2,157.6 L514.7,157.3" fill="none" stroke="#555" stroke-width="0.6" stroke-opacity="0.6" stroke-linejoin="round" stroke-linecap="round"/>
<path d="M363.3,61.8 C363.6,63.7 364.4,70.0 365.0,73.3 C365.6,76.7 366.1,79.5 366.7,82.0 C367.3,84.5 367.9,86.7 368.4,88.5 C369.0,90.3 369.6,91.2 370.1,92.9 C370.7,94.6 371.3,97.1 371.9,98.7 C372.4,100.2 373.0,101.4 373.6,102.0 C374.2,102.7 374.7,102.5 375.3,102.4 C375.9,102.3 376.5,101.4 377.0,101.2 C377.6,100.9 378.2,100.5 378.7,100.7 C379.3,101.0 379.9,101.8 380.5,102.6 C381.0,103.4 381.6,104.7 382.2,105.5 C382.8,106.3 383.3,106.9 383.9,107.5 C384.5,108.0 385.1,108.5 385.6,108.9 C386.2,109.2 386.8,109.7 387.3,109.8 C387.9,109.8 388.5,109.4 389.1,109.1 C389.6,108.8 390.2,108.2 390.8,108.0 C391.4,107.8 391.9,107.9 392.5,108.0 C393.1,108.0 393.7,108.1 394.2,108.3 C394.8,108.5 395.4,108.6 396.0,109.0 C396.5,109.5 397.1,110.3 397.7,111.1 C398.2,111.9 398.8,113.0 399.4,113.7 C400.0,114.4 400.5,114.9 401.1,115.3 C401.7,115.7 402.3,115.8 402.8,115.9 C403.4,116.0 404.0,116.2 404.6,115.8 C405.1,115.5 405.7,114.7 406.3,113.7 C406.8,112.7 407.4,110.7 408.0,110.0 C408.6,109.3 409.1,108.8 409.7,109.4 C410.3,110.1 410.9,112.2 411.4,113.9 C412.0,115.6 412.6,117.9 413.2,119.4 C413.7,120.9 414.3,122.3 414.9,123.1 C415.4,123.9 416.0,124.1 416.6,124.3 C417.2,124.4 417.7,124.1 418.3,124.2 C418.9,124.3 419.5,124.5 420.0,125.1 C420.6,125.6 421.2,126.8 421.8,127.4 C422.3,128.1 422.9,128.5 423.5,128.8 C424.0,129.1 424.6,129.3 425.2,129.5 C425.8,129.7 426.3,129.8 426.9,130.2 C427.5,130.6 428.1,131.2 428.6,131.7 C429.2,132.2 429.8,132.9 430.4,133.1 C430.9,133.3 431.5,133.1 432.1,132.8 C432.6,132.4 433.2,131.5 433.8,131.0 C434.4,130.5 434.9,129.9 435.5,129.8 C436.1,129.7 436.7,130.1 437.2,130.6 C437.8,131.2 438.4,132.2 439.0,132.8 C439.5,133.4 440.1,134.0 440.7,134.2 C441.3,134.5 441.8,134.2 442.4,134.1 C443.0,133.9 443.5,133.5 444.1,133.4 C444.7,133.3 445.3,133.4 445.8,133.4 C446.4,133.4 447.0,133.7 447.6,133.6 C448.1,133.4 448.7,133.1 449.3,132.8 C449.9,132.5 450.4,131.9 451.0,131.7 C451.6,131.6 452.1,131.6 452.7,131.9 C453.3,132.2 453.9,133.1 454.4,133.6 C455.0,134.1 455.6,135.0 456.2,135.1 C456.7,135.3 457.3,135.1 457.9,134.7 C458.5,134.3 459.0,133.3 459.6,132.7 C460.2,132.1 460.7,131.5 461.3,131.1 C461.9,130.8 462.5,130.8 463.0,130.8 C463.6,130.8 464.2,131.1 464.8,131.2 C465.3,131.2 465.9,131.2 466.5,131.0 C467.1,130.9 467.6,130.5 468.2,130.4 C468.8,130.3 469.3,130.3 469.9,130.3 C470.5,130.3 471.1,131.4 471.6,130.7 C472.2,129.9 473.1,126.6 473.4,125.8" fill="none" stroke="#3a3a3a" stroke-width="0.8" stroke-opacity="0.9" stroke-linejoin="round" stroke-linecap="round"/>
<path d="M473.4,125.8 L475.7,113.6 L477.1,98.1 L478.5,77.4 L480.0,58.5 L481.3,42.2 L482.0,37.1 L482.5,35.3 L483.2,40.2 L485.4,79.2 L487.7,118.2 L489.2,144.1 L490.0,158.0" fill="none" stroke="#1c1c1c" stroke-width="1.1" stroke-opacity="0.9" stroke-linejoin="round" stroke-linecap="round"/>
<path d="M490.0,158.0 L491.7,157.5 L498.6,157.3 L507.2,157.6 L514.7,157.3" fill="none" stroke="#3a3a3a" stroke-width="0.6" stroke-opacity="0.6" stroke-linejoin="round" stroke-linecap="round"/>
<path d="M363.3,66.0 C363.6,67.8 364.4,73.6 365.0,76.7 C365.6,79.9 366.1,82.5 366.7,84.9 C367.3,87.4 367.9,89.4 368.4,91.3 C369.0,93.1 369.6,94.7 370.1,96.1 C370.7,97.6 371.3,98.7 371.9,99.9 C372.4,101.0 373.0,102.1 373.6,103.1 C374.2,104.2 374.7,105.4 375.3,106.1 C375.9,106.7 376.5,107.1 377.0,107.0 C377.6,106.9 378.2,105.7 378.7,105.2 C379.3,104.8 379.9,103.9 380.5,104.0 C381.0,104.2 381.6,105.1 382.2,106.0 C382.8,107.0 383.3,108.7 383.9,109.6 C384.5,110.5 385.1,111.1 385.6,111.6 C386.2,112.0 386.8,111.9 387.3,112.2 C387.9,112.4 388.5,112.8 389.1,113.2 C389.6,113.6 390.2,114.2 390.8,114.5 C391.4,114.9 391.9,115.2 392.5,115.3 C393.1,115.4 393.7,115.3 394.2,115.1 C394.8,115.0 395.4,114.5 396.0,114.6 C396.5,114.6 397.1,114.7 397.7,115.3 C398.2,115.8 398.8,116.9 399.4,117.9 C400.0,118.8 400.5,120.3 401.1,121.0 C401.7,121.7 402.3,122.3 402.8,122.0 C403.4,121.7 404.0,120.4 404.6,119.2 C405.1,117.9 405.7,115.5 406.3,114.5 C406.8,113.6 407.4,113.0 408.0,113.5 C408.6,114.0 409.1,116.1 409.7,117.5 C410.3,118.9 410.9,120.8 411.4,121.9 C412.0,122.9 412.6,123.3 413.2,123.8 C413.7,124.3 414.3,124.4 414.9,124.9 C415.4,125.4 416.0,126.1 416.6,126.6 C417.2,127.2 417.7,127.9 418.3,128.2 C418.9,128.5 419.5,128.5 420.0,128.3 C420.6,128.1 421.2,127.4 421.8,127.1 C422.3,126.8 422.9,126.3 423.5,126.5 C424.0,126.7 424.6,127.4 425.2,128.2 C425.8,129.0 426.3,130.4 426.9,131.1 C427.5,131.9 428.1,132.6 428.6,132.9 C429.2,133.1 429.8,132.8 430.4,132.6 C430.9,132.4 431.5,131.8 432.1,131.6 C432.6,131.4 433.2,131.5 433.8,131.5 C434.4,131.6 434.9,131.8 435.5,131.8 C436.1,131.8 436.7,131.6 437.2,131.5 C437.8,131.3 438.4,130.9 439.0,131.0 C439.5,131.0 440.1,131.2 440.7,131.7 C441.3,132.2 441.8,133.3 442.4,134.0 C443.0,134.6 443.5,135.5 444.1,135.7 C444.7,135.8 445.3,135.5 445.8,135.1 C446.4,134.6 447.0,133.5 447.6,132.9 C448.1,132.3 448.7,131.5 449.3,131.4 C449.9,131.2 450.4,131.6 451.0,131.8 C451.6,132.1 452.1,132.8 452.7,133.1 C453.3,133.4 453.9,133.5 454.4,133.5 C455.0,133.5 455.6,133.3 456.2,133.3 C456.7,133.3 457.3,133.4 457.9,133.5 C458.5,133.7 459.0,134.1 459.6,134.2 C460.2,134.2 460.7,134.2 461.3,133.8 C461.9,133.3 462.5,132.2 463.0,131.4 C463.6,130.6 464.2,129.5 464.8,129.2 C465.3,128.8 465.9,128.8 466.5,129.0 C467.1,129.3 467.6,130.2 468.2,130.7 C468.8,131.2 469.3,131.8 469.9,131.8 C470.5,131.9 471.0,131.9 471.6,130.9 C472.3,129.9 473.6,126.7 473.9,125.8" fill="none" stroke="#5a5a5a" stroke-width="0.8" stroke-opacity="0.9" stroke-linejoin="round" stroke-linecap="round"/>
<path d="M473.9,125.8 L476.2,115.4 L477.7,100.6 L479.1,80.8 L480.5,62.7 L481.9,47.0 L482.5,42.2 L483.1,40.4 L483.7,45.1 L486.2,82.5 L488.6,119.8 L490.3,144.7 L491.1,158.0" fill="none" stroke="#1c1c1c" stroke-width="1.1" stroke-opacity="0.9" stroke-linejoin="round" stroke-linecap="round"/>
<path d="M491.1,158.0 L492.9,157.5 L498.6,157.3 L507.2,157.6 L514.7,157.3" fill="none" stroke="#5a5a5a" stroke-width="0.6" stroke-opacity="0.6" stroke-linejoin="round" stroke-linecap="round"/>
<path d="M363.3,72.9 C363.6,74.3 364.4,79.0 365.0,81.7 C365.6,84.3 366.1,86.5 366.7,88.6 C367.3,90.6 367.9,92.1 368.4,94.0 C369.0,96.0 369.6,99.3 370.1,100.5 C370.7,101.7 371.3,100.9 371.9,101.1 C372.4,101.4 373.0,101.4 373.6,102.0 C374.2,102.5 374.7,103.7 375.3,104.7 C375.9,105.6 376.5,107.1 377.0,107.6 C377.6,108.1 378.2,108.1 378.7,107.7 C379.3,107.4 379.9,105.9 380.5,105.6 C381.0,105.4 381.6,105.2 382.2,106.0 C382.8,106.8 383.3,109.1 383.9,110.3 C384.5,111.5 385.1,113.0 385.6,113.3 C386.2,113.7 386.8,112.8 387.3,112.4 C387.9,112.1 388.5,111.1 389.1,111.3 C389.6,111.4 390.2,112.4 390.8,113.2 C391.4,114.1 391.9,115.7 392.5,116.4 C393.1,117.0 393.7,117.2 394.2,117.0 C394.8,116.8 395.4,115.6 396.0,115.3 C396.5,115.0 397.1,114.7 397.7,115.0 C398.2,115.3 398.8,116.5 399.4,117.3 C400.0,118.1 400.5,119.3 401.1,119.9 C401.7,120.5 402.3,120.9 402.8,121.0 C403.4,121.1 404.0,120.7 404.6,120.5 C405.1,120.3 405.7,119.6 406.3,119.6 C406.8,119.6 407.4,119.8 408.0,120.5 C408.6,121.1 409.1,122.7 409.7,123.6 C410.3,124.5 410.9,125.7 411.4,125.9 C412.0,126.2 412.6,125.6 413.2,125.3 C413.7,124.9 414.3,124.0 414.9,123.9 C415.4,123.8 416.0,124.0 416.6,124.6 C417.2,125.2 417.7,126.4 418.3,127.2 C418.9,128.0 419.5,128.9 420.0,129.4 C420.6,129.9 421.2,130.0 421.8,130.1 C422.3,130.3 422.9,130.2 423.5,130.5 C424.0,130.7 424.6,131.2 425.2,131.5 C425.8,131.9 426.3,132.4 426.9,132.4 C427.5,132.4 428.1,132.0 428.6,131.6 C429.2,131.2 429.8,130.3 430.4,130.0 C430.9,129.6 431.5,129.4 432.1,129.7 C432.6,130.1 433.2,131.3 433.8,132.2 C434.4,133.1 434.9,134.5 435.5,135.1 C436.1,135.7 436.7,135.9 437.2,135.8 C437.8,135.6 438.4,134.7 439.0,134.2 C439.5,133.7 440.1,133.0 440.7,132.7 C441.3,132.5 441.8,132.6 442.4,132.7 C443.0,132.8 443.5,133.3 444.1,133.4 C444.7,133.5 445.3,133.4 445.8,133.4 C446.4,133.3 447.0,133.1 447.6,133.2 C448.1,133.3 448.7,133.7 449.3,134.1 C449.9,134.6 450.4,135.7 451.0,136.1 C451.6,136.6 452.1,137.0 452.7,136.8 C453.3,136.6 453.9,135.7 454.4,134.8 C455.0,134.0 455.6,132.6 456.2,131.9 C456.7,131.3 457.3,130.8 457.9,130.9 C458.5,131.0 459.0,131.9 459.6,132.4 C460.2,133.0 460.7,134.0 461.3,134.3 C461.9,134.6 462.5,134.4 463.0,134.2 C463.6,134.0 464.2,133.4 464.8,133.1 C465.3,132.8 465.9,132.7 466.5,132.5 C467.1,132.4 467.6,132.6 468.2,132.3 C468.8,132.1 469.3,131.6 469.9,131.0 C470.5,130.3 471.0,129.1 471.6,128.4 C472.3,127.7 473.3,127.0 473.7,126.7" fill="none" stroke="#333" stroke-width="0.8" stroke-opacity="0.9" stroke-linejoin="round" stroke-linecap="round"/>
<path d="M473.7,126.7 L475.9,114.8 L477.4,99.8 L478.8,79.7 L480.2,61.3 L481.6,45.4 L482.3,40.5 L482.8,38.7 L483.5,43.5 L485.9,81.4 L488.3,119.3 L490.0,144.5 L490.9,158.0" fill="none" stroke="#1c1c1c" stroke-width="1.1" stroke-opacity="0.9" stroke-linejoin="round" stroke-linecap="round"/>
<path d="M490.9,158.0 L492.6,157.5 L498.6,157.3 L507.2,157.6 L514.7,157.3" fill="none" stroke="#333" stroke-width="0.6" stroke-opacity="0.6" stroke-linejoin="round" stroke-linecap="round"/>
<path d="M363.3,79.7 C363.6,81.0 364.4,85.2 365.0,87.6 C365.6,89.9 366.1,91.9 366.7,93.7 C367.3,95.6 367.9,97.5 368.4,98.6 C369.0,99.8 369.6,99.6 370.1,100.7 C370.7,101.8 371.3,103.9 371.9,105.3 C372.4,106.6 373.0,108.0 373.6,108.8 C374.2,109.6 374.7,110.0 375.3,110.2 C375.9,110.5 376.5,110.1 377.0,110.3 C377.6,110.4 378.2,110.6 378.7,111.1 C379.3,111.6 379.9,112.6 380.5,113.2 C381.0,113.8 381.6,114.3 382.2,114.6 C382.8,114.9 383.3,114.8 383.9,114.9 C384.5,115.1 385.1,115.2 385.6,115.5 C386.2,115.9 386.8,116.6 387.3,117.2 C387.9,117.8 388.5,118.6 389.1,119.1 C389.6,119.6 390.2,120.0 390.8,120.2 C391.4,120.4 391.9,120.2 392.5,120.0 C393.1,119.8 393.7,119.1 394.2,118.9 C394.8,118.7 395.4,118.6 396.0,118.8 C396.5,119.0 397.1,119.7 397.7,120.2 C398.2,120.8 398.8,121.5 399.4,122.0 C400.0,122.5 400.5,122.8 401.1,123.2 C401.7,123.6 402.3,124.0 402.8,124.4 C403.4,124.7 404.0,125.3 404.6,125.2 C405.1,125.1 405.7,124.5 406.3,123.7 C406.8,122.9 407.4,121.2 408.0,120.5 C408.6,119.7 409.1,119.1 409.7,119.4 C410.3,119.8 410.9,121.2 411.4,122.3 C412.0,123.5 412.6,125.3 413.2,126.5 C413.7,127.6 414.3,128.7 414.9,129.3 C415.4,129.9 416.0,130.1 416.6,130.2 C417.2,130.3 417.7,130.0 418.3,130.0 C418.9,129.9 419.5,129.9 420.0,129.9 C420.6,130.0 421.2,130.2 421.8,130.3 C422.3,130.5 422.9,130.7 423.5,130.7 C424.0,130.7 424.6,130.4 425.2,130.4 C425.8,130.3 426.3,130.1 426.9,130.4 C427.5,130.7 428.1,131.3 428.6,132.0 C429.2,132.6 429.8,133.7 430.4,134.3 C430.9,134.9 431.5,135.3 432.1,135.4 C432.6,135.4 433.2,134.9 433.8,134.5 C434.4,134.2 434.9,133.4 435.5,133.1 C436.1,132.7 436.7,132.6 437.2,132.6 C437.8,132.7 438.4,133.2 439.0,133.4 C439.5,133.7 440.1,134.1 440.7,134.3 C441.3,134.5 441.8,134.4 442.4,134.5 C443.0,134.6 443.5,134.6 444.1,134.9 C444.7,135.1 445.3,135.6 445.8,135.9 C446.4,136.2 447.0,136.7 447.6,136.7 C448.1,136.7 448.7,136.4 449.3,135.9 C449.9,135.5 450.4,134.6 451.0,134.0 C451.6,133.5 452.1,132.9 452.7,132.9 C453.3,132.8 453.9,133.2 454.4,133.6 C455.0,134.0 455.6,134.8 456.2,135.2 C456.7,135.6 457.3,136.0 457.9,136.0 C458.5,136.0 459.0,135.6 459.6,135.4 C460.2,135.2 460.7,134.8 461.3,134.5 C461.9,134.3 462.5,134.1 463.0,133.8 C463.6,133.6 464.2,133.5 464.8,133.2 C465.3,132.9 465.9,132.4 466.5,132.0 C467.1,131.6 467.6,130.9 468.2,130.7 C468.8,130.4 469.3,130.4 469.9,130.6 C470.5,130.7 470.9,132.2 471.6,131.7 C472.4,131.2 473.8,128.2 474.2,127.6" fill="none" stroke="#4a4a4a" stroke-width="0.8" stroke-opacity="0.9" stroke-linejoin="round" stroke-linecap="round"/>
<path d="M474.2,127.6 L476.5,116.1 L478.0,101.4 L479.4,81.9 L480.8,64.0 L482.1,48.6 L482.8,43.8 L483.4,42.1 L484.0,46.8 L486.7,83.6 L489.3,120.4 L491.0,144.9 L492.0,158.0" fill="none" stroke="#1c1c1c" stroke-width="1.1" stroke-opacity="0.9" stroke-linejoin="round" stroke-linecap="round"/>
<path d="M492.0,158.0 L493.7,157.5 L498.6,157.3 L507.2,157.6 L514.7,157.3" fill="none" stroke="#4a4a4a" stroke-width="0.6" stroke-opacity="0.6" stroke-linejoin="round" stroke-linecap="round"/>
<path d="M363.3,88.2 C363.6,89.2 364.4,92.4 365.0,94.2 C365.6,96.0 366.1,97.5 366.7,98.9 C367.3,100.4 367.9,101.5 368.4,102.8 C369.0,104.0 369.6,105.3 370.1,106.5 C370.7,107.6 371.3,108.7 371.9,109.6 C372.4,110.4 373.0,111.2 373.6,111.6 C374.2,111.9 374.7,111.7 375.3,111.6 C375.9,111.6 376.5,111.1 377.0,111.0 C377.6,111.0 378.2,111.0 378.7,111.2 C379.3,111.5 379.9,111.9 380.5,112.3 C381.0,112.7 381.6,113.3 382.2,113.9 C382.8,114.5 383.3,115.5 383.9,116.1 C384.5,116.6 385.1,117.2 385.6,117.4 C386.2,117.6 386.8,117.5 387.3,117.3 C387.9,117.1 388.5,116.5 389.1,116.4 C389.6,116.3 390.2,116.4 390.8,116.7 C391.4,117.1 391.9,117.9 392.5,118.4 C393.1,118.9 393.7,119.2 394.2,119.8 C394.8,120.3 395.4,120.7 396.0,121.5 C396.5,122.2 397.1,123.5 397.7,124.3 C398.2,125.0 398.8,125.9 399.4,126.1 C400.0,126.3 400.5,125.8 401.1,125.4 C401.7,125.0 402.3,124.2 402.8,123.8 C403.4,123.4 404.0,123.1 404.6,122.8 C405.1,122.5 405.7,122.1 406.3,121.9 C406.8,121.7 407.4,121.3 408.0,121.6 C408.6,121.9 409.1,122.7 409.7,123.7 C410.3,124.6 410.9,126.2 411.4,127.2 C412.0,128.3 412.6,129.5 413.2,130.1 C413.7,130.7 414.3,130.9 414.9,130.8 C415.4,130.7 416.0,130.0 416.6,129.4 C417.2,128.9 417.7,127.8 418.3,127.3 C418.9,126.8 419.5,126.4 420.0,126.5 C420.6,126.6 421.2,127.1 421.8,127.9 C422.3,128.6 422.9,130.1 423.5,130.8 C424.0,131.4 424.6,131.8 425.2,131.9 C425.8,132.0 426.3,131.4 426.9,131.1 C427.5,130.8 428.1,130.3 428.6,130.2 C429.2,130.1 429.8,130.3 430.4,130.5 C430.9,130.6 431.5,130.9 432.1,131.1 C432.6,131.2 433.2,131.1 433.8,131.1 C434.4,131.2 434.9,130.9 435.5,131.1 C436.1,131.3 436.7,131.6 437.2,132.1 C437.8,132.6 438.4,133.6 439.0,134.1 C439.5,134.6 440.1,135.1 440.7,135.0 C441.3,135.0 441.8,134.4 442.4,133.8 C443.0,133.2 443.5,132.1 444.1,131.6 C444.7,131.2 445.3,130.9 445.8,131.0 C446.4,131.1 447.0,131.9 447.6,132.4 C448.1,132.9 448.7,133.7 449.3,134.0 C449.9,134.3 450.4,134.4 451.0,134.4 C451.6,134.3 452.1,133.9 452.7,133.8 C453.3,133.7 453.9,133.6 454.4,133.6 C455.0,133.7 455.6,133.9 456.2,133.8 C456.7,133.8 457.3,133.6 457.9,133.2 C458.5,132.8 459.0,131.9 459.6,131.5 C460.2,131.0 460.7,130.5 461.3,130.4 C461.9,130.3 462.5,130.6 463.0,131.0 C463.6,131.4 464.2,132.4 464.8,132.8 C465.3,133.2 465.9,133.6 466.5,133.4 C467.1,133.2 467.6,132.4 468.2,131.8 C468.8,131.1 469.3,130.0 469.9,129.3 C470.5,128.7 471.0,128.6 471.6,128.1 C472.3,127.5 473.3,126.2 473.7,125.8" fill="none" stroke="#444" stroke-width="0.8" stroke-opacity="0.9" stroke-linejoin="round" stroke-linecap="round"/>
<path d="M473.7,125.8 L475.9,114.2 L477.4,98.9 L478.8,78.6 L480.2,59.9 L481.6,43.8 L482.3,38.8 L482.8,37.0 L483.5,41.8 L485.7,80.3 L488.0,118.7 L489.5,144.3 L490.3,158.0" fill="none" stroke="#1c1c1c" stroke-width="1.1" stroke-opacity="0.9" stroke-linejoin="round" stroke-linecap="round"/>
<path d="M490.3,158.0 L492.0,157.5 L498.6,157.3 L507.2,157.6 L514.7,157.3" fill="none" stroke="#444" stroke-width="0.6" stroke-opacity="0.6" stroke-linejoin="round" stroke-linecap="round"/>
<path d="M363.3,69.4 C363.6,71.3 364.4,77.5 365.0,80.8 C365.6,84.1 366.1,86.8 366.7,89.3 C367.3,91.8 367.9,94.1 368.4,95.7 C369.0,97.3 369.6,97.3 370.1,98.7 C370.7,100.1 371.3,102.6 371.9,104.2 C372.4,105.7 373.0,107.2 373.6,107.9 C374.2,108.6 374.7,108.6 375.3,108.5 C375.9,108.3 376.5,107.3 377.0,107.0 C377.6,106.7 378.2,106.5 378.7,107.0 C379.3,107.4 379.9,108.9 380.5,109.8 C381.0,110.7 381.6,111.8 382.2,112.4 C382.8,113.0 383.3,113.1 383.9,113.4 C384.5,113.7 385.1,113.9 385.6,114.3 C386.2,114.7 386.8,115.4 387.3,115.6 C387.9,115.9 388.5,116.1 389.1,116.1 C389.6,116.1 390.2,116.0 390.8,115.9 C391.4,115.9 391.9,115.8 392.5,115.7 C393.1,115.6 393.7,115.2 394.2,115.2 C394.8,115.3 395.4,115.5 396.0,116.1 C396.5,116.7 397.1,118.0 397.7,118.8 C398.2,119.6 398.8,120.5 399.4,121.0 C400.0,121.5 400.5,121.7 401.1,122.0 C401.7,122.3 402.3,122.6 402.8,122.8 C403.4,122.9 404.0,123.2 404.6,122.8 C405.1,122.4 405.7,121.4 406.3,120.5 C406.8,119.5 407.4,117.8 408.0,117.3 C408.6,116.9 409.1,116.9 409.7,117.6 C410.3,118.2 410.9,119.9 411.4,121.2 C412.0,122.5 412.6,124.2 413.2,125.4 C413.7,126.7 414.3,127.8 414.9,128.6 C415.4,129.3 416.0,129.6 416.6,129.8 C417.2,130.0 417.7,129.7 418.3,129.7 C418.9,129.8 419.5,129.8 420.0,130.0 C420.6,130.2 421.2,130.7 421.8,130.9 C422.3,131.1 422.9,131.3 423.5,131.3 C424.0,131.3 424.6,131.0 425.2,131.1 C425.8,131.1 426.3,131.0 426.9,131.3 C427.5,131.7 428.1,132.5 428.6,133.2 C429.2,133.9 429.8,135.1 430.4,135.6 C430.9,136.2 431.5,136.5 432.1,136.4 C432.6,136.3 433.2,135.6 433.8,135.1 C434.4,134.6 434.9,133.7 435.5,133.4 C436.1,133.1 436.7,133.0 437.2,133.1 C437.8,133.3 438.4,133.9 439.0,134.3 C439.5,134.7 440.1,135.2 440.7,135.4 C441.3,135.6 441.8,135.6 442.4,135.7 C443.0,135.8 443.5,135.8 444.1,136.0 C444.7,136.2 445.3,136.7 445.8,136.9 C446.4,137.2 447.0,137.6 447.6,137.5 C448.1,137.5 448.7,137.0 449.3,136.5 C449.9,135.9 450.4,134.9 451.0,134.4 C451.6,133.9 452.1,133.4 452.7,133.5 C453.3,133.5 453.9,134.1 454.4,134.6 C455.0,135.2 455.6,136.1 456.2,136.6 C456.7,137.0 457.3,137.3 457.9,137.2 C458.5,137.2 459.0,136.6 459.6,136.3 C460.2,135.9 460.7,135.5 461.3,135.1 C461.9,134.8 462.5,134.6 463.0,134.4 C463.6,134.2 464.2,134.1 464.8,133.9 C465.3,133.6 465.9,133.1 466.5,132.7 C467.1,132.3 467.6,131.7 468.2,131.6 C468.8,131.4 469.3,131.5 469.9,131.7 C470.5,131.9 470.9,133.5 471.6,133.0 C472.4,132.4 473.8,129.2 474.2,128.4" fill="none" stroke="#5a5a5a" stroke-width="0.8" stroke-opacity="0.9" stroke-linejoin="round" stroke-linecap="round"/>
<path d="M474.2,128.4 L476.5,117.3 L478.0,103.1 L479.4,84.2 L480.8,66.8 L482.1,51.8 L482.8,47.2 L483.4,45.5 L484.0,50.0 L486.8,85.8 L489.7,121.5 L491.5,145.3 L492.6,158.0" fill="none" stroke="#1c1c1c" stroke-width="1.1" stroke-opacity="0.9" stroke-linejoin="round" stroke-linecap="round"/>
<path d="M492.6,158.0 L494.3,157.5 L498.6,157.3 L507.2,157.6 L514.7,157.3" fill="none" stroke="#5a5a5a" stroke-width="0.6" stroke-opacity="0.6" stroke-linejoin="round" stroke-linecap="round"/>
<path d="M363.3,76.3 C363.6,77.5 364.4,81.4 365.0,83.5 C365.6,85.6 366.1,87.4 366.7,89.1 C367.3,90.7 367.9,92.1 368.4,93.4 C369.0,94.7 369.6,96.1 370.1,96.7 C370.7,97.4 371.3,97.0 371.9,97.4 C372.4,97.8 373.0,98.2 373.6,99.0 C374.2,99.7 374.7,101.0 375.3,101.7 C375.9,102.4 376.5,103.1 377.0,103.2 C377.6,103.2 378.2,102.3 378.7,102.1 C379.3,101.8 379.9,101.3 380.5,101.6 C381.0,101.8 381.6,103.0 382.2,103.6 C382.8,104.3 383.3,105.4 383.9,105.6 C384.5,105.9 385.1,105.3 385.6,105.1 C386.2,104.9 386.8,104.1 387.3,104.3 C387.9,104.4 388.5,105.3 389.1,106.2 C389.6,107.1 390.2,108.8 390.8,109.9 C391.4,110.9 391.9,112.1 392.5,112.6 C393.1,113.1 393.7,113.2 394.2,113.0 C394.8,112.9 395.4,112.2 396.0,111.9 C396.5,111.6 397.1,111.1 397.7,111.1 C398.2,111.1 398.8,111.5 399.4,112.0 C400.0,112.5 400.5,113.6 401.1,114.3 C401.7,114.9 402.3,115.8 402.8,116.1 C403.4,116.4 404.0,116.3 404.6,116.1 C405.1,115.9 405.7,115.1 406.3,115.0 C406.8,114.8 407.4,114.9 408.0,115.3 C408.6,115.7 409.1,116.8 409.7,117.4 C410.3,118.0 410.9,118.5 411.4,118.6 C412.0,118.7 412.6,117.9 413.2,118.0 C413.7,118.1 414.3,118.3 414.9,119.1 C415.4,119.9 416.0,121.5 416.6,123.0 C417.2,124.5 417.7,126.5 418.3,127.9 C418.9,129.4 419.5,130.7 420.0,131.5 C420.6,132.4 421.2,132.9 421.8,133.0 C422.3,133.1 422.9,132.2 423.5,132.1 C424.0,132.0 424.6,132.1 425.2,132.2 C425.8,132.4 426.3,132.9 426.9,133.2 C427.5,133.4 428.1,133.6 428.6,133.7 C429.2,133.7 429.8,133.6 430.4,133.7 C430.9,133.8 431.5,134.0 432.1,134.5 C432.6,134.9 433.2,135.9 433.8,136.4 C434.4,137.0 434.9,137.8 435.5,137.9 C436.1,138.0 436.7,137.6 437.2,137.1 C437.8,136.6 438.4,135.5 439.0,134.9 C439.5,134.4 440.1,133.8 440.7,133.8 C441.3,133.8 441.8,134.4 442.4,134.9 C443.0,135.4 443.5,136.3 444.1,136.8 C444.7,137.3 445.3,137.6 445.8,137.7 C446.4,137.9 447.0,137.6 447.6,137.6 C448.1,137.5 448.7,137.4 449.3,137.4 C449.9,137.4 450.4,137.7 451.0,137.7 C451.6,137.6 452.1,137.6 452.7,137.3 C453.3,136.9 453.9,136.1 454.4,135.6 C455.0,135.1 455.6,134.3 456.2,134.1 C456.7,133.9 457.3,134.2 457.9,134.6 C458.5,135.1 459.0,136.2 459.6,136.9 C460.2,137.5 460.7,138.3 461.3,138.4 C461.9,138.5 462.5,137.8 463.0,137.3 C463.6,136.7 464.2,135.6 464.8,134.9 C465.3,134.3 465.9,133.7 466.5,133.4 C467.1,133.0 467.6,133.1 468.2,133.0 C468.8,132.9 469.3,132.9 469.9,132.7 C470.5,132.5 471.1,132.4 471.6,131.9 C472.2,131.3 472.8,129.7 473.1,129.3" fill="none" stroke="#3a3a3a" stroke-width="0.8" stroke-opacity="0.9" stroke-linejoin="round" stroke-linecap="round"/>
<path d="M473.1,129.3 L475.4,114.8 L476.8,99.8 L478.2,79.7 L479.7,61.3 L481.0,45.4 L481.7,40.5 L482.3,38.7 L482.9,43.5 L485.1,81.4 L487.4,119.3 L488.9,144.5 L489.7,158.0" fill="none" stroke="#1c1c1c" stroke-width="1.1" stroke-opacity="0.9" stroke-linejoin="round" stroke-linecap="round"/>
<path d="M489.7,158.0 L491.4,157.5 L498.6,157.3 L507.2,157.6 L514.7,157.3" fill="none" stroke="#3a3a3a" stroke-width="0.6" stroke-opacity="0.6" stroke-linejoin="round" stroke-linecap="round"/>
<path d="M363.3,59.2 C363.6,61.4 364.4,68.5 365.0,72.3 C365.6,76.2 366.1,79.3 366.7,82.1 C367.3,85.0 367.9,87.4 368.4,89.5 C369.0,91.6 369.6,93.0 370.1,94.6 C370.7,96.3 371.3,97.8 371.9,99.2 C372.4,100.7 373.0,102.3 373.6,103.4 C374.2,104.5 374.7,105.5 375.3,105.9 C375.9,106.2 376.5,106.0 377.0,105.7 C377.6,105.4 378.2,104.2 378.7,104.0 C379.3,103.8 379.9,103.8 380.5,104.4 C381.0,105.0 381.6,106.6 382.2,107.7 C382.8,108.8 383.3,110.4 383.9,111.1 C384.5,111.8 385.1,111.9 385.6,112.0 C386.2,112.1 386.8,111.6 387.3,111.7 C387.9,111.8 388.5,112.2 389.1,112.7 C389.6,113.2 390.2,114.0 390.8,114.5 C391.4,114.9 391.9,115.2 392.5,115.2 C393.1,115.3 393.7,114.9 394.2,114.7 C394.8,114.6 395.4,114.1 396.0,114.2 C396.5,114.4 397.1,114.8 397.7,115.4 C398.2,116.1 398.8,117.4 399.4,118.2 C400.0,118.9 400.5,119.8 401.1,120.2 C401.7,120.5 402.3,120.3 402.8,120.1 C403.4,119.9 404.0,119.3 404.6,118.9 C405.1,118.4 405.7,117.8 406.3,117.3 C406.8,116.8 407.4,116.1 408.0,115.9 C408.6,115.7 409.1,115.6 409.7,116.1 C410.3,116.5 410.9,117.6 411.4,118.6 C412.0,119.5 412.6,120.7 413.2,121.7 C413.7,122.7 414.3,123.8 414.9,124.7 C415.4,125.6 416.0,126.5 416.6,127.1 C417.2,127.6 417.7,127.8 418.3,127.9 C418.9,128.1 419.5,127.8 420.0,127.8 C420.6,127.9 421.2,128.0 421.8,128.3 C422.3,128.6 422.9,129.1 423.5,129.7 C424.0,130.2 424.6,131.2 425.2,131.8 C425.8,132.4 426.3,132.9 426.9,133.1 C427.5,133.4 428.1,133.3 428.6,133.4 C429.2,133.4 429.8,133.3 430.4,133.3 C430.9,133.3 431.5,133.4 432.1,133.4 C432.6,133.5 433.2,133.6 433.8,133.6 C434.4,133.5 434.9,133.3 435.5,133.2 C436.1,133.0 436.7,132.7 437.2,132.7 C437.8,132.7 438.4,132.9 439.0,133.3 C439.5,133.7 440.1,134.5 440.7,135.0 C441.3,135.6 441.8,136.2 442.4,136.4 C443.0,136.6 443.5,136.4 444.1,136.1 C444.7,135.9 445.3,135.2 445.8,134.8 C446.4,134.5 447.0,134.1 447.6,134.0 C448.1,133.9 448.7,134.1 449.3,134.2 C449.9,134.3 450.4,134.7 451.0,134.8 C451.6,134.9 452.1,134.9 452.7,134.9 C453.3,134.9 453.9,134.7 454.4,134.8 C455.0,134.8 455.6,135.0 456.2,135.2 C456.7,135.3 457.3,135.7 457.9,135.8 C458.5,135.8 459.0,135.8 459.6,135.5 C460.2,135.2 460.7,134.6 461.3,134.0 C461.9,133.4 462.5,132.5 463.0,132.1 C463.6,131.8 464.2,131.7 464.8,131.8 C465.3,131.9 465.9,132.5 466.5,132.7 C467.1,133.0 467.6,133.3 468.2,133.3 C468.8,133.3 469.3,132.9 469.9,132.6 C470.5,132.2 471.0,132.1 471.6,131.2 C472.3,130.4 473.6,128.2 473.9,127.6" fill="none" stroke="#4a4a4a" stroke-width="0.8" stroke-opacity="0.9" stroke-linejoin="round" stroke-linecap="round"/>
<path d="M473.9,127.6 L476.2,114.2 L477.7,98.9 L479.1,78.6 L480.5,59.9 L481.9,43.8 L482.5,38.8 L483.1,37.0 L483.7,41.8 L486.4,80.3 L489.0,118.7 L490.8,144.3 L491.7,158.0" fill="none" stroke="#1c1c1c" stroke-width="1.1" stroke-opacity="0.9" stroke-linejoin="round" stroke-linecap="round"/>
<path d="M491.7,158.0 L493.4,157.5 L498.6,157.3 L507.2,157.6 L514.7,157.3" fill="none" stroke="#4a4a4a" stroke-width="0.6" stroke-opacity="0.6" stroke-linejoin="round" stroke-linecap="round"/>
<path d="M363.3,96.8 C363.6,97.7 364.4,100.6 365.0,102.2 C365.6,103.8 366.1,105.2 366.7,106.5 C367.3,107.7 367.9,108.8 368.4,109.9 C369.0,110.9 369.6,112.0 370.1,112.9 C370.7,113.7 371.3,114.3 371.9,115.0 C372.4,115.7 373.0,116.5 373.6,117.1 C374.2,117.7 374.7,118.4 375.3,118.6 C375.9,118.9 376.5,118.9 377.0,118.7 C377.6,118.6 378.2,117.9 378.7,117.6 C379.3,117.3 379.9,116.8 380.5,116.9 C381.0,117.0 381.6,117.6 382.2,118.3 C382.8,118.9 383.3,120.3 383.9,121.0 C384.5,121.7 385.1,122.0 385.6,122.2 C386.2,122.4 386.8,122.1 387.3,122.3 C387.9,122.5 388.5,122.9 389.1,123.3 C389.6,123.8 390.2,124.5 390.8,125.0 C391.4,125.5 391.9,125.9 392.5,126.1 C393.1,126.4 393.7,126.3 394.2,126.4 C394.8,126.4 395.4,126.2 396.0,126.3 C396.5,126.4 397.1,126.7 397.7,127.1 C398.2,127.6 398.8,128.5 399.4,129.1 C400.0,129.7 400.5,130.5 401.1,130.8 C401.7,131.0 402.3,130.9 402.8,130.8 C403.4,130.7 404.0,130.2 404.6,129.9 C405.1,129.7 405.7,129.4 406.3,129.3 C406.8,129.2 407.4,129.2 408.0,129.3 C408.6,129.4 409.1,129.6 409.7,130.0 C410.3,130.4 410.9,131.1 411.4,131.7 C412.0,132.2 412.6,133.1 413.2,133.5 C413.7,134.0 414.3,134.2 414.9,134.4 C415.4,134.5 416.0,134.5 416.6,134.4 C417.2,134.3 417.7,134.0 418.3,133.6 C418.9,133.2 419.5,132.6 420.0,132.2 C420.6,131.8 421.2,131.2 421.8,131.2 C422.3,131.3 422.9,132.1 423.5,132.6 C424.0,133.2 424.6,134.1 425.2,134.7 C425.8,135.2 426.3,135.7 426.9,135.9 C427.5,136.1 428.1,136.0 428.6,135.9 C429.2,135.8 429.8,135.5 430.4,135.4 C430.9,135.3 431.5,135.3 432.1,135.3 C432.6,135.4 433.2,135.6 433.8,135.7 C434.4,135.9 434.9,135.9 435.5,136.0 C436.1,136.0 436.7,135.9 437.2,135.9 C437.8,136.0 438.4,136.2 439.0,136.5 C439.5,136.8 440.1,137.3 440.7,137.7 C441.3,138.1 441.8,138.5 442.4,138.6 C443.0,138.7 443.5,138.5 444.1,138.3 C444.7,138.0 445.3,137.4 445.8,137.0 C446.4,136.7 447.0,136.4 447.6,136.3 C448.1,136.3 448.7,136.5 449.3,136.8 C449.9,137.0 450.4,137.5 451.0,137.7 C451.6,138.0 452.1,138.1 452.7,138.1 C453.3,138.1 453.9,137.9 454.4,137.8 C455.0,137.7 455.6,137.6 456.2,137.6 C456.7,137.6 457.3,137.7 457.9,137.7 C458.5,137.6 459.0,137.6 459.6,137.4 C460.2,137.2 460.7,136.8 461.3,136.4 C461.9,136.0 462.5,135.3 463.0,135.0 C463.6,134.8 464.2,134.7 464.8,134.8 C465.3,134.9 465.9,135.5 466.5,135.7 C467.1,135.9 467.6,136.2 468.2,136.1 C468.8,136.0 469.3,135.6 469.9,135.2 C470.5,134.7 471.1,134.3 471.6,133.5 C472.2,132.6 473.1,130.7 473.4,130.1" fill="none" stroke="#7a7a7a" stroke-width="0.8" stroke-linejoin="round" stroke-linecap="round"/>
<path d="M473.4,130.1 L475.7,119.8 L477.1,106.4 L478.5,88.7 L480.0,72.4 L481.3,58.3 L482.0,53.9 L482.5,52.4 L483.2,56.6 L485.4,90.2 L487.7,123.7 L489.2,146.1 L490.0,158.0" fill="none" stroke="#7a7a7a" stroke-width="1.1" stroke-linejoin="round" stroke-linecap="round"/>
<path d="M490.0,158.0 L491.7,157.5 L498.6,157.3 L507.2,157.6 L514.7,157.3" fill="none" stroke="#7a7a7a" stroke-width="0.6" stroke-opacity="0.6" stroke-linejoin="round" stroke-linecap="round"/>
<path d="M363.3,104.5 C363.6,105.5 364.4,108.6 365.0,110.4 C365.6,112.1 366.1,113.7 366.7,115.1 C367.3,116.5 367.9,117.7 368.4,118.9 C369.0,120.1 369.6,121.2 370.1,122.2 C370.7,123.3 371.3,124.4 371.9,125.2 C372.4,126.0 373.0,126.6 373.6,127.1 C374.2,127.5 374.7,127.6 375.3,127.7 C375.9,127.9 376.5,127.7 377.0,127.7 C377.6,127.8 378.2,127.7 378.7,128.0 C379.3,128.2 379.9,128.8 380.5,129.4 C381.0,130.0 381.6,131.0 382.2,131.6 C382.8,132.1 383.3,132.6 383.9,132.8 C384.5,133.1 385.1,133.0 385.6,133.0 C386.2,132.9 386.8,132.8 387.3,132.8 C387.9,132.8 388.5,133.0 389.1,133.1 C389.6,133.2 390.2,133.5 390.8,133.6 C391.4,133.7 391.9,133.8 392.5,133.9 C393.1,134.0 393.7,134.0 394.2,134.2 C394.8,134.3 395.4,134.6 396.0,134.7 C396.5,134.9 397.1,135.0 397.7,135.0 C398.2,135.0 398.8,134.9 399.4,134.8 C400.0,134.8 400.5,134.7 401.1,134.6 C401.7,134.6 402.3,134.6 402.8,134.6 C403.4,134.7 404.0,134.8 404.6,134.8 C405.1,134.8 405.7,134.8 406.3,134.6 C406.8,134.5 407.4,134.0 408.0,133.8 C408.6,133.6 409.1,133.3 409.7,133.4 C410.3,133.5 410.9,134.1 411.4,134.5 C412.0,135.0 412.6,135.7 413.2,136.1 C413.7,136.5 414.3,136.9 414.9,137.0 C415.4,137.1 416.0,136.9 416.6,136.8 C417.2,136.7 417.7,136.5 418.3,136.4 C418.9,136.4 419.5,136.5 420.0,136.7 C420.6,136.9 421.2,137.4 421.8,137.7 C422.3,138.1 422.9,138.5 423.5,138.7 C424.0,138.9 424.6,139.0 425.2,139.0 C425.8,139.0 426.3,138.8 426.9,138.7 C427.5,138.6 428.1,138.6 428.6,138.6 C429.2,138.6 429.8,138.7 430.4,138.7 C430.9,138.7 431.5,138.7 432.1,138.7 C432.6,138.6 433.2,138.5 433.8,138.4 C434.4,138.4 434.9,138.3 435.5,138.4 C436.1,138.5 436.7,138.8 437.2,139.0 C437.8,139.3 438.4,139.7 439.0,139.9 C439.5,140.1 440.1,140.2 440.7,140.2 C441.3,140.1 441.8,139.9 442.4,139.7 C443.0,139.5 443.5,139.1 444.1,139.0 C444.7,138.9 445.3,138.9 445.8,139.0 C446.4,139.0 447.0,139.3 447.6,139.4 C448.1,139.5 448.7,139.6 449.3,139.6 C449.9,139.7 450.4,139.6 451.0,139.6 C451.6,139.6 452.1,139.5 452.7,139.6 C453.3,139.6 453.9,139.8 454.4,139.8 C455.0,139.9 455.6,140.0 456.2,139.9 C456.7,139.9 457.3,139.7 457.9,139.5 C458.5,139.3 459.0,138.8 459.6,138.6 C460.2,138.5 460.7,138.3 461.3,138.3 C461.9,138.2 462.5,138.3 463.0,138.4 C463.6,138.5 464.2,138.7 464.8,138.7 C465.3,138.8 465.9,138.7 466.5,138.6 C467.1,138.4 467.6,138.1 468.2,137.8 C468.8,137.5 469.3,137.2 469.9,137.0 C470.5,136.8 471.1,137.2 471.6,136.5 C472.2,135.9 472.8,133.7 473.1,133.2" fill="none" stroke="#8c8c8c" stroke-width="0.85" stroke-linejoin="round" stroke-linecap="round"/>
<path d="M473.1,133.2 L475.4,128.5 L476.8,118.2 L478.2,104.4 L479.7,91.8 L481.0,80.9 L481.7,77.5 L482.3,76.3 L482.9,79.6 L485.0,105.6 L487.2,131.5 L488.6,148.9 L489.4,158.0" fill="none" stroke="#8c8c8c" stroke-width="1.15" stroke-linejoin="round" stroke-linecap="round"/>
<path d="M489.4,158.0 L491.1,157.5 L498.6,157.3 L507.2,157.6 L514.7,157.3" fill="none" stroke="#8c8c8c" stroke-width="0.6" stroke-opacity="0.6" stroke-linejoin="round" stroke-linecap="round"/>
<path d="M363.3,121.6 C363.6,122.2 364.4,124.1 365.0,125.2 C365.6,126.3 366.1,127.2 366.7,128.1 C367.3,129.0 367.9,129.8 368.4,130.6 C369.0,131.3 369.6,132.0 370.1,132.6 C370.7,133.2 371.3,133.7 371.9,134.1 C372.4,134.6 373.0,135.0 373.6,135.5 C374.2,135.9 374.7,136.4 375.3,136.8 C375.9,137.2 376.5,137.6 377.0,137.9 C377.6,138.2 378.2,138.4 378.7,138.5 C379.3,138.7 379.9,138.7 380.5,138.8 C381.0,139.0 381.6,139.2 382.2,139.4 C382.8,139.6 383.3,139.8 383.9,140.0 C384.5,140.1 385.1,140.2 385.6,140.2 C386.2,140.3 386.8,140.3 387.3,140.4 C387.9,140.5 388.5,140.6 389.1,140.7 C389.6,140.9 390.2,141.1 390.8,141.2 C391.4,141.4 391.9,141.5 392.5,141.6 C393.1,141.8 393.7,141.8 394.2,141.9 C394.8,141.9 395.4,141.8 396.0,141.8 C396.5,141.8 397.1,141.7 397.7,141.7 C398.2,141.7 398.8,141.8 399.4,141.8 C400.0,141.9 400.5,142.0 401.1,142.1 C401.7,142.2 402.3,142.3 402.8,142.4 C403.4,142.4 404.0,142.5 404.6,142.5 C405.1,142.5 405.7,142.5 406.3,142.5 C406.8,142.4 407.4,142.4 408.0,142.4 C408.6,142.4 409.1,142.4 409.7,142.4 C410.3,142.5 410.9,142.6 411.4,142.6 C412.0,142.6 412.6,142.7 413.2,142.7 C413.7,142.7 414.3,142.6 414.9,142.6 C415.4,142.6 416.0,142.6 416.6,142.7 C417.2,142.7 417.7,142.8 418.3,142.9 C418.9,143.0 419.5,143.0 420.0,143.0 C420.6,143.0 421.2,143.0 421.8,142.9 C422.3,142.9 422.9,142.8 423.5,142.8 C424.0,142.8 424.6,142.8 425.2,142.8 C425.8,142.8 426.3,142.9 426.9,142.9 C427.5,142.9 428.1,143.0 428.6,143.0 C429.2,143.0 429.8,143.0 430.4,143.0 C430.9,143.0 431.5,143.1 432.1,143.1 C432.6,143.2 433.2,143.3 433.8,143.4 C434.4,143.5 434.9,143.6 435.5,143.7 C436.1,143.7 436.7,143.8 437.2,143.7 C437.8,143.7 438.4,143.7 439.0,143.6 C439.5,143.6 440.1,143.5 440.7,143.6 C441.3,143.6 441.8,143.6 442.4,143.7 C443.0,143.8 443.5,143.9 444.1,143.9 C444.7,144.0 445.3,144.1 445.8,144.1 C446.4,144.1 447.0,144.1 447.6,144.1 C448.1,144.1 448.7,144.1 449.3,144.1 C449.9,144.1 450.4,144.1 451.0,144.1 C451.6,144.1 452.1,144.1 452.7,144.0 C453.3,144.0 453.9,143.9 454.4,143.8 C455.0,143.7 455.6,143.6 456.2,143.6 C456.7,143.5 457.3,143.5 457.9,143.5 C458.5,143.5 459.0,143.6 459.6,143.7 C460.2,143.7 460.7,143.9 461.3,143.8 C461.9,143.8 462.5,143.5 463.0,143.4 C463.6,143.2 464.2,143.0 464.8,142.8 C465.3,142.6 465.9,142.4 466.5,142.3 C467.1,142.1 467.6,142.0 468.2,141.9 C468.8,141.7 469.3,141.6 469.9,141.4 C470.5,141.3 471.1,141.6 471.6,140.9 C472.2,140.3 473.1,138.2 473.4,137.6" fill="none" stroke="#989898" stroke-width="0.95" stroke-linejoin="round" stroke-linecap="round"/>
<path d="M473.4,137.6 L475.7,124.1 L477.1,112.3 L478.5,96.5 L480.0,82.1 L481.3,69.6 L482.0,65.7 L482.5,64.3 L483.2,68.1 L485.5,97.9 L487.9,127.6 L489.4,147.5 L490.3,158.0" fill="none" stroke="#989898" stroke-width="1.25" stroke-linejoin="round" stroke-linecap="round"/>
<path d="M490.3,158.0 L492.0,157.5 L498.6,157.3 L507.2,157.6 L514.7,157.3" fill="none" stroke="#989898" stroke-width="0.6" stroke-opacity="0.6" stroke-linejoin="round" stroke-linecap="round"/>
<line x1="331.30" y1="254.40" x2="534.60" y2="254.40" stroke="#d8d8d8" stroke-width="0.9"/>
<line x1="331.30" y1="279.43" x2="534.60" y2="279.43" stroke="#d8d8d8" stroke-width="0.9"/>
<line x1="331.30" y1="304.47" x2="534.60" y2="304.47" stroke="#d8d8d8" stroke-width="0.9"/>
<line x1="331.30" y1="329.50" x2="534.60" y2="329.50" stroke="#d8d8d8" stroke-width="0.9"/>
<line x1="331.30" y1="354.53" x2="534.60" y2="354.53" stroke="#d8d8d8" stroke-width="0.9"/>
<line x1="331.30" y1="379.57" x2="534.60" y2="379.57" stroke="#d8d8d8" stroke-width="0.9"/>
<line x1="331.30" y1="404.60" x2="534.60" y2="404.60" stroke="#d8d8d8" stroke-width="0.9"/>
<line x1="360.34" y1="254.40" x2="360.34" y2="404.60" stroke="#c8c8c8" stroke-width="0.95"/>
<line x1="389.39" y1="254.40" x2="389.39" y2="404.60" stroke="#c8c8c8" stroke-width="0.95"/>
<line x1="418.43" y1="254.40" x2="418.43" y2="404.60" stroke="#c8c8c8" stroke-width="0.95"/>
<line x1="447.47" y1="254.40" x2="447.47" y2="404.60" stroke="#c8c8c8" stroke-width="0.95"/>
<line x1="476.51" y1="254.40" x2="476.51" y2="404.60" stroke="#c8c8c8" stroke-width="0.95"/>
<line x1="505.56" y1="254.40" x2="505.56" y2="404.60" stroke="#c8c8c8" stroke-width="0.95"/>
<line x1="534.60" y1="254.40" x2="534.60" y2="404.60" stroke="#c8c8c8" stroke-width="0.95"/>
<line x1="331.30" y1="253.90" x2="331.30" y2="405.10" stroke="#5e5e5e" stroke-width="1.6"/>
<line x1="330.80" y1="404.60" x2="535.10" y2="404.60" stroke="#909090" stroke-width="1.3"/>
<text class="se" x="328.00" y="258.00" font-size="10.3" font-weight="bold" text-anchor="end" fill="#111">1.00</text>
<text class="se" x="328.00" y="283.03" font-size="10.3" font-weight="bold" text-anchor="end" fill="#111">0.80</text>
<text class="se" x="328.00" y="308.07" font-size="10.3" font-weight="bold" text-anchor="end" fill="#111">0.60</text>
<text class="se" x="328.00" y="333.10" font-size="10.3" font-weight="bold" text-anchor="end" fill="#111">0.40</text>
<text class="se" x="328.00" y="358.13" font-size="10.3" font-weight="bold" text-anchor="end" fill="#111">0.20</text>
<text class="se" x="328.00" y="383.17" font-size="10.3" font-weight="bold" text-anchor="end" fill="#111">0.00</text>
<text class="se" x="328.00" y="408.20" font-size="10.3" font-weight="bold" text-anchor="end" fill="#111">-0.20</text>
<text class="se" x="330.70" y="416.50" font-size="10.1" font-weight="bold" text-anchor="middle" fill="#111">60</text>
<text class="se" x="359.74" y="416.50" font-size="10.1" font-weight="bold" text-anchor="middle" fill="#111">65</text>
<text class="se" x="388.79" y="416.50" font-size="10.1" font-weight="bold" text-anchor="middle" fill="#111">70</text>
<text class="se" x="417.83" y="416.50" font-size="10.1" font-weight="bold" text-anchor="middle" fill="#111">75</text>
<text class="se" x="446.87" y="416.50" font-size="10.1" font-weight="bold" text-anchor="middle" fill="#111">80</text>
<text class="se" x="475.91" y="416.50" font-size="10.1" font-weight="bold" text-anchor="middle" fill="#111">85</text>
<text class="se" x="504.96" y="416.50" font-size="10.1" font-weight="bold" text-anchor="middle" fill="#111">90</text>
<text class="se" x="534.00" y="416.50" font-size="10.1" font-weight="bold" text-anchor="middle" fill="#111">95</text>
<text class="sa" x="432.50" y="245.80" font-size="15.4" text-anchor="middle" fill="#000" stroke="#000" stroke-width="0.32">Dissociation Curve</text>
<text class="sa" x="433.00" y="438.80" font-size="15.7" text-anchor="middle" fill="#000" stroke="#000" stroke-width="0.32">Temperature</text>
<text class="se" x="0" y="0" font-size="17.3" font-weight="bold" text-anchor="middle" fill="#111" transform="translate(303.30 325.40) rotate(-90) scale(0.905 1)">Derivative</text>
<path d="M362.7,293.2 C363.0,295.6 363.8,303.2 364.4,307.3 C365.0,311.4 365.6,314.8 366.2,318.0 C366.7,321.1 367.3,323.4 367.9,326.1 C368.5,328.7 369.1,332.0 369.6,334.0 C370.2,336.0 370.8,337.0 371.4,338.1 C372.0,339.1 372.5,339.6 373.1,340.2 C373.7,340.9 374.3,341.4 374.9,341.9 C375.4,342.5 376.0,343.0 376.6,343.5 C377.2,344.0 377.8,344.6 378.3,345.1 C378.9,345.6 379.5,346.0 380.1,346.6 C380.7,347.1 381.3,347.6 381.8,348.1 C382.4,348.6 383.0,349.2 383.6,349.7 C384.2,350.2 384.7,350.7 385.3,351.2 C385.9,351.6 386.5,352.0 387.1,352.3 C387.6,352.5 388.2,352.6 388.8,352.5 C389.4,352.5 390.0,352.1 390.5,351.8 C391.1,351.6 391.7,351.1 392.3,351.0 C392.9,350.9 393.5,351.0 394.0,351.3 C394.6,351.6 395.2,352.3 395.8,352.9 C396.4,353.4 396.9,354.2 397.5,354.5 C398.1,354.8 398.7,355.0 399.3,354.8 C399.8,354.7 400.4,354.2 401.0,353.8 C401.6,353.4 402.2,352.8 402.7,352.5 C403.3,352.3 403.9,352.2 404.5,352.3 C405.1,352.4 405.6,352.8 406.2,353.0 C406.8,353.3 407.4,353.6 408.0,353.7 C408.6,353.9 409.1,353.8 409.7,353.9 C410.3,353.9 410.9,353.9 411.5,354.1 C412.0,354.3 412.6,354.8 413.2,355.2 C413.8,355.6 414.4,356.4 414.9,356.8 C415.5,357.2 416.1,357.6 416.7,357.6 C417.3,357.7 417.8,357.4 418.4,357.1 C419.0,356.8 419.6,356.1 420.2,355.8 C420.8,355.4 421.3,355.1 421.9,355.0 C422.5,354.9 423.1,355.2 423.7,355.4 C424.2,355.7 424.8,356.2 425.4,356.5 C426.0,356.8 426.6,357.1 427.1,357.3 C427.7,357.5 428.3,357.5 428.9,357.5 C429.5,357.6 430.0,357.6 430.6,357.7 C431.2,357.8 431.8,358.1 432.4,358.3 C432.9,358.5 433.5,358.9 434.1,359.0 C434.7,359.1 435.3,359.0 435.9,358.8 C436.4,358.6 437.0,358.1 437.6,357.7 C438.2,357.3 438.8,356.8 439.3,356.7 C439.9,356.5 440.5,356.6 441.1,356.8 C441.7,357.1 442.2,357.8 442.8,358.3 C443.4,358.8 444.0,359.5 444.6,359.8 C445.1,360.2 445.7,360.3 446.3,360.3 C446.9,360.4 447.5,360.0 448.1,359.9 C448.6,359.7 449.2,359.4 449.8,359.3 C450.4,359.2 451.0,359.1 451.5,359.1 C452.1,359.0 452.7,359.1 453.3,359.0 C453.9,358.8 454.4,358.7 455.0,358.4 C455.6,358.2 456.2,357.8 456.8,357.6 C457.3,357.4 457.9,357.2 458.5,357.3 C459.1,357.4 459.7,357.8 460.3,358.0 C460.8,358.3 461.4,358.7 462.0,358.7 C462.6,358.7 463.2,358.7 463.7,358.3 C464.3,357.9 464.7,357.9 465.5,356.4 C466.3,355.0 468.1,350.7 468.7,349.5" fill="none" stroke="#555" stroke-width="0.75" stroke-opacity="0.748" stroke-linejoin="round" stroke-linecap="round"/>
<path d="M468.7,349.5 L470.4,342.0 L472.0,312.5 L473.8,279.4 L474.9,258.2 L475.4,254.4 L475.9,261.9 L478.1,300.7 L480.3,339.6 L481.9,367.8 L482.6,381.4 L484.1,381.7 L485.8,380.3" fill="none" stroke="#777" stroke-width="0.65" stroke-opacity="0.88" stroke-linejoin="round" stroke-linecap="round"/>
<path d="M485.8,380.3 L487.8,379.4 L499.7,379.3 L508.5,379.6 L516.6,379.3" fill="none" stroke="#777" stroke-width="0.6" stroke-opacity="0.6" stroke-linejoin="round" stroke-linecap="round"/>
<path d="M362.7,297.0 C363.0,299.2 363.8,306.4 364.4,310.3 C365.0,314.1 365.6,317.4 366.2,320.3 C366.7,323.3 367.3,325.8 367.9,328.0 C368.5,330.1 369.1,331.5 369.6,333.3 C370.2,335.1 370.8,336.9 371.4,338.6 C372.0,340.3 372.5,342.0 373.1,343.3 C373.7,344.5 374.3,345.8 374.9,346.3 C375.4,346.8 376.0,346.7 376.6,346.5 C377.2,346.4 377.8,345.6 378.3,345.3 C378.9,345.1 379.5,344.8 380.1,345.1 C380.7,345.3 381.3,346.2 381.8,347.0 C382.4,347.8 383.0,349.1 383.6,349.9 C384.2,350.8 384.7,351.5 385.3,352.0 C385.9,352.4 386.5,352.5 387.1,352.7 C387.6,352.9 388.2,352.9 388.8,353.0 C389.4,353.2 390.0,353.4 390.5,353.6 C391.1,353.7 391.7,354.0 392.3,354.1 C392.9,354.2 393.5,354.1 394.0,354.0 C394.6,353.8 395.2,353.3 395.8,353.0 C396.4,352.7 396.9,352.3 397.5,352.2 C398.1,352.1 398.7,352.2 399.3,352.4 C399.8,352.6 400.4,353.2 401.0,353.6 C401.6,353.9 402.2,354.4 402.7,354.7 C403.3,354.9 403.9,355.0 404.5,355.0 C405.1,355.0 405.6,354.7 406.2,354.7 C406.8,354.6 407.4,354.5 408.0,354.5 C408.6,354.5 409.1,354.7 409.7,354.8 C410.3,355.0 410.9,355.3 411.5,355.4 C412.0,355.5 412.6,355.5 413.2,355.5 C413.8,355.5 414.4,355.3 414.9,355.3 C415.5,355.3 416.1,355.3 416.7,355.6 C417.3,355.8 417.8,356.3 418.4,356.7 C419.0,357.2 419.6,357.9 420.2,358.3 C420.8,358.6 421.3,358.9 421.9,358.9 C422.5,358.9 423.1,358.5 423.7,358.1 C424.2,357.8 424.8,357.1 425.4,356.8 C426.0,356.4 426.6,356.1 427.1,356.1 C427.7,356.1 428.3,356.5 428.9,356.7 C429.5,357.0 430.0,357.6 430.6,357.9 C431.2,358.2 431.8,358.4 432.4,358.6 C432.9,358.7 433.5,358.7 434.1,358.7 C434.7,358.8 435.3,358.8 435.9,358.9 C436.4,359.1 437.0,359.4 437.6,359.6 C438.2,359.8 438.8,360.1 439.3,360.1 C439.9,360.1 440.5,360.0 441.1,359.7 C441.7,359.5 442.2,358.9 442.8,358.5 C443.4,358.2 444.0,357.7 444.6,357.6 C445.1,357.5 445.7,357.7 446.3,358.0 C446.9,358.4 447.5,359.1 448.1,359.6 C448.6,360.1 449.2,360.8 449.8,361.0 C450.4,361.3 451.0,361.3 451.5,361.2 C452.1,361.0 452.7,360.6 453.3,360.3 C453.9,360.0 454.4,359.6 455.0,359.4 C455.6,359.3 456.2,359.2 456.8,359.2 C457.3,359.1 457.9,359.2 458.5,359.0 C459.1,358.9 459.7,358.8 460.3,358.5 C460.8,358.1 461.4,357.4 462.0,357.0 C462.6,356.6 463.2,356.1 463.7,355.9 C464.3,355.7 464.6,356.8 465.5,355.9 C466.3,354.9 468.3,351.1 468.8,350.2" fill="none" stroke="#555" stroke-width="0.75" stroke-opacity="0.748" stroke-linejoin="round" stroke-linecap="round"/>
<path d="M468.8,350.2 L470.7,342.6 L472.4,316.0 L474.1,285.4 L475.2,265.4 L475.6,261.9 L476.2,269.0 L478.5,305.5 L480.8,342.0 L482.5,368.5 L483.2,381.4 L484.6,381.7 L486.4,380.3" fill="none" stroke="#666" stroke-width="0.65" stroke-opacity="0.88" stroke-linejoin="round" stroke-linecap="round"/>
<path d="M486.4,380.3 L488.4,379.4 L499.7,379.3 L508.5,379.6 L516.6,379.3" fill="none" stroke="#666" stroke-width="0.6" stroke-opacity="0.6" stroke-linejoin="round" stroke-linecap="round"/>
<path d="M362.7,309.5 C363.0,311.1 363.8,316.3 364.4,319.2 C365.0,322.1 365.6,324.6 366.2,326.9 C366.7,329.1 367.3,331.1 367.9,332.9 C368.5,334.7 369.1,336.1 369.6,337.6 C370.2,339.0 370.8,340.2 371.4,341.4 C372.0,342.5 372.5,343.5 373.1,344.5 C373.7,345.5 374.3,346.7 374.9,347.4 C375.4,348.2 376.0,348.8 376.6,349.1 C377.2,349.4 377.8,349.3 378.3,349.2 C378.9,349.1 379.5,348.5 380.1,348.3 C380.7,348.2 381.3,348.0 381.8,348.2 C382.4,348.5 383.0,349.1 383.6,349.7 C384.2,350.4 384.7,351.4 385.3,352.2 C385.9,353.0 386.5,353.9 387.1,354.5 C387.6,355.1 388.2,355.5 388.8,355.7 C389.4,355.9 390.0,355.8 390.5,355.7 C391.1,355.7 391.7,355.4 392.3,355.4 C392.9,355.4 393.5,355.5 394.0,355.6 C394.6,355.7 395.2,355.9 395.8,355.9 C396.4,355.9 396.9,355.8 397.5,355.6 C398.1,355.3 398.7,354.8 399.3,354.5 C399.8,354.2 400.4,353.7 401.0,353.7 C401.6,353.6 402.2,353.8 402.7,354.1 C403.3,354.5 403.9,355.3 404.5,355.9 C405.1,356.5 405.6,357.4 406.2,357.7 C406.8,358.1 407.4,358.2 408.0,358.1 C408.6,358.1 409.1,357.6 409.7,357.3 C410.3,357.1 410.9,356.7 411.5,356.6 C412.0,356.5 412.6,356.6 413.2,356.8 C413.8,357.0 414.4,357.3 414.9,357.5 C415.5,357.7 416.1,357.9 416.7,358.0 C417.3,358.1 417.8,358.0 418.4,358.1 C419.0,358.1 419.6,358.2 420.2,358.5 C420.8,358.7 421.3,359.2 421.9,359.6 C422.5,360.0 423.1,360.6 423.7,360.8 C424.2,361.0 424.8,361.1 425.4,360.9 C426.0,360.7 426.6,360.1 427.1,359.7 C427.7,359.2 428.3,358.5 428.9,358.2 C429.5,358.0 430.0,357.9 430.6,358.0 C431.2,358.2 431.8,358.8 432.4,359.2 C432.9,359.7 433.5,360.4 434.1,360.8 C434.7,361.1 435.3,361.4 435.9,361.5 C436.4,361.6 437.0,361.4 437.6,361.4 C438.2,361.3 438.8,361.2 439.3,361.2 C439.9,361.3 440.5,361.5 441.1,361.6 C441.7,361.6 442.2,361.8 442.8,361.8 C443.4,361.7 444.0,361.5 444.6,361.3 C445.1,361.0 445.7,360.4 446.3,360.2 C446.9,359.9 447.5,359.6 448.1,359.7 C448.6,359.8 449.2,360.3 449.8,360.7 C450.4,361.2 451.0,362.0 451.5,362.4 C452.1,362.8 452.7,363.3 453.3,363.4 C453.9,363.5 454.4,363.2 455.0,362.9 C455.6,362.5 456.2,361.9 456.8,361.4 C457.3,361.0 457.9,360.6 458.5,360.4 C459.1,360.1 459.7,360.3 460.3,360.2 C460.8,360.0 461.4,359.9 462.0,359.6 C462.6,359.3 463.2,358.8 463.7,358.4 C464.3,357.9 464.7,358.0 465.5,356.9 C466.3,355.9 467.9,352.8 468.4,352.0" fill="none" stroke="#444" stroke-width="0.75" stroke-opacity="0.748" stroke-linejoin="round" stroke-linecap="round"/>
<path d="M468.4,352.0 L469.9,344.5 L471.1,320.8 L473.2,292.5 L474.3,273.9 L474.8,270.7 L475.4,277.2 L477.6,311.0 L479.8,344.8 L481.4,369.3 L482.0,381.4 L483.5,381.7 L485.2,380.3" fill="none" stroke="#444" stroke-width="1.0" stroke-opacity="0.88" stroke-linejoin="round" stroke-linecap="round"/>
<path d="M485.2,380.3 L487.3,379.4 L499.7,379.3 L508.5,379.6 L516.6,379.3" fill="none" stroke="#444" stroke-width="0.6" stroke-opacity="0.6" stroke-linejoin="round" stroke-linecap="round"/>
<path d="M362.7,312.6 C363.0,314.2 363.8,319.2 364.4,322.0 C365.0,324.8 365.6,327.1 366.2,329.2 C366.7,331.3 367.3,333.3 367.9,334.7 C368.5,336.1 369.1,336.4 369.6,337.6 C370.2,338.9 370.8,340.7 371.4,342.0 C372.0,343.3 372.5,344.5 373.1,345.5 C373.7,346.4 374.3,347.2 374.9,347.6 C375.4,348.1 376.0,348.1 376.6,348.2 C377.2,348.3 377.8,348.3 378.3,348.5 C378.9,348.6 379.5,348.9 380.1,349.2 C380.7,349.5 381.3,350.0 381.8,350.3 C382.4,350.5 383.0,350.8 383.6,350.9 C384.2,351.0 384.7,350.8 385.3,350.9 C385.9,351.0 386.5,351.1 387.1,351.4 C387.6,351.8 388.2,352.4 388.8,352.9 C389.4,353.5 390.0,354.2 390.5,354.7 C391.1,355.1 391.7,355.4 392.3,355.5 C392.9,355.6 393.5,355.3 394.0,355.2 C394.6,355.0 395.2,354.6 395.8,354.5 C396.4,354.3 396.9,354.2 397.5,354.2 C398.1,354.2 398.7,354.3 399.3,354.3 C399.8,354.2 400.4,354.1 401.0,354.0 C401.6,353.8 402.2,353.5 402.7,353.4 C403.3,353.2 403.9,353.1 404.5,353.3 C405.1,353.4 405.6,353.9 406.2,354.4 C406.8,354.9 407.4,355.8 408.0,356.3 C408.6,356.8 409.1,357.4 409.7,357.6 C410.3,357.8 410.9,357.7 411.5,357.5 C412.0,357.3 412.6,356.7 413.2,356.4 C413.8,356.1 414.4,355.7 414.9,355.6 C415.5,355.5 416.1,355.6 416.7,355.9 C417.3,356.1 417.8,356.5 418.4,356.8 C419.0,357.1 419.6,357.5 420.2,357.7 C420.8,357.8 421.3,357.8 421.9,357.9 C422.5,358.0 423.1,358.0 423.7,358.1 C424.2,358.2 424.8,358.4 425.4,358.7 C426.0,358.9 426.6,359.2 427.1,359.3 C427.7,359.5 428.3,359.5 428.9,359.4 C429.5,359.2 430.0,358.8 430.6,358.5 C431.2,358.2 431.8,357.7 432.4,357.5 C432.9,357.3 433.5,357.3 434.1,357.5 C434.7,357.7 435.3,358.3 435.9,358.7 C436.4,359.2 437.0,359.8 437.6,360.2 C438.2,360.5 438.8,360.8 439.3,360.8 C439.9,360.9 440.5,360.7 441.1,360.5 C441.7,360.4 442.2,360.1 442.8,360.0 C443.4,359.9 444.0,360.0 444.6,360.0 C445.1,360.0 445.7,360.2 446.3,360.2 C446.9,360.2 447.5,360.2 448.1,360.1 C448.6,360.0 449.2,359.7 449.8,359.6 C450.4,359.4 451.0,359.2 451.5,359.2 C452.1,359.3 452.7,359.5 453.3,359.8 C453.9,360.1 454.4,360.6 455.0,361.0 C455.6,361.3 456.2,361.6 456.8,361.6 C457.3,361.6 457.9,361.3 458.5,361.0 C459.1,360.6 459.7,360.1 460.3,359.5 C460.8,359.0 461.4,358.2 462.0,357.8 C462.6,357.3 463.2,356.9 463.7,356.7 C464.3,356.4 464.7,357.1 465.5,356.1 C466.3,355.1 468.1,351.7 468.7,350.8" fill="none" stroke="#222" stroke-width="0.75" stroke-opacity="0.748" stroke-linejoin="round" stroke-linecap="round"/>
<path d="M468.7,350.8 L470.4,343.3 L472.0,321.6 L473.8,295.5 L474.9,277.6 L475.4,274.4 L475.9,280.7 L478.3,313.3 L480.7,346.0 L482.5,369.7 L483.2,381.4 L484.6,381.7 L486.4,380.3" fill="none" stroke="#222" stroke-width="1.0" stroke-opacity="0.88" stroke-linejoin="round" stroke-linecap="round"/>
<path d="M486.4,380.3 L488.4,379.4 L499.7,379.3 L508.5,379.6 L516.6,379.3" fill="none" stroke="#222" stroke-width="0.6" stroke-opacity="0.6" stroke-linejoin="round" stroke-linecap="round"/>
<path d="M362.7,317.6 C363.0,319.0 363.8,323.3 364.4,325.7 C365.0,328.2 365.6,330.2 366.2,332.1 C366.7,334.0 367.3,335.5 367.9,337.2 C368.5,338.8 369.1,341.0 369.6,342.1 C370.2,343.2 370.8,343.3 371.4,343.8 C372.0,344.4 372.5,344.9 373.1,345.6 C373.7,346.2 374.3,347.2 374.9,347.9 C375.4,348.6 376.0,349.2 376.6,349.6 C377.2,350.0 377.8,350.0 378.3,350.2 C378.9,350.4 379.5,350.3 380.1,350.6 C380.7,350.8 381.3,351.3 381.8,351.9 C382.4,352.5 383.0,353.4 383.6,354.0 C384.2,354.7 384.7,355.4 385.3,355.7 C385.9,356.0 386.5,356.1 387.1,356.0 C387.6,355.9 388.2,355.4 388.8,355.2 C389.4,354.9 390.0,354.4 390.5,354.4 C391.1,354.3 391.7,354.5 392.3,354.8 C392.9,355.2 393.5,355.9 394.0,356.5 C394.6,357.0 395.2,357.7 395.8,358.0 C396.4,358.3 396.9,358.5 397.5,358.4 C398.1,358.4 398.7,358.0 399.3,357.7 C399.8,357.4 400.4,356.9 401.0,356.7 C401.6,356.5 402.2,356.3 402.7,356.3 C403.3,356.2 403.9,356.4 404.5,356.4 C405.1,356.5 405.6,356.6 406.2,356.6 C406.8,356.7 407.4,356.6 408.0,356.7 C408.6,356.8 409.1,356.9 409.7,357.3 C410.3,357.6 410.9,358.2 411.5,358.7 C412.0,359.2 412.6,360.0 413.2,360.4 C413.8,360.8 414.4,361.2 414.9,361.2 C415.5,361.2 416.1,360.9 416.7,360.6 C417.3,360.3 417.8,359.6 418.4,359.3 C419.0,359.0 419.6,358.7 420.2,358.7 C420.8,358.7 421.3,359.0 421.9,359.2 C422.5,359.4 423.1,359.9 423.7,360.1 C424.2,360.3 424.8,360.5 425.4,360.6 C426.0,360.7 426.6,360.6 427.1,360.7 C427.7,360.8 428.3,360.9 428.9,361.1 C429.5,361.4 430.0,361.8 430.6,362.1 C431.2,362.4 431.8,362.7 432.4,362.8 C432.9,362.9 433.5,362.7 434.1,362.5 C434.7,362.2 435.3,361.6 435.9,361.2 C436.4,360.8 437.0,360.3 437.6,360.2 C438.2,360.1 438.8,360.2 439.3,360.5 C439.9,360.8 440.5,361.5 441.1,361.9 C441.7,362.4 442.2,363.0 442.8,363.3 C443.4,363.6 444.0,363.7 444.6,363.7 C445.1,363.7 445.7,363.4 446.3,363.3 C446.9,363.2 447.5,363.1 448.1,363.1 C448.6,363.0 449.2,363.2 449.8,363.2 C450.4,363.3 451.0,363.3 451.5,363.1 C452.1,363.0 452.7,362.6 453.3,362.3 C453.9,362.0 454.4,361.5 455.0,361.3 C455.6,361.1 456.2,360.9 456.8,361.0 C457.3,361.1 457.9,361.6 458.5,362.0 C459.1,362.4 459.7,363.2 460.3,363.3 C460.8,363.5 461.4,363.5 462.0,363.1 C462.6,362.8 463.2,361.9 463.7,361.2 C464.3,360.5 464.6,360.1 465.5,358.7 C466.3,357.4 468.4,354.2 469.0,353.3" fill="none" stroke="#2a2a2a" stroke-width="0.75" stroke-opacity="0.748" stroke-linejoin="round" stroke-linecap="round"/>
<path d="M469.0,353.3 L471.0,345.8 L472.9,324.1 L474.4,297.5 L475.5,280.0 L475.9,276.9 L476.5,283.1 L478.9,314.9 L481.3,346.8 L483.0,369.9 L483.8,381.4 L485.2,381.7 L487.0,380.3" fill="none" stroke="#2a2a2a" stroke-width="1.0" stroke-opacity="0.88" stroke-linejoin="round" stroke-linecap="round"/>
<path d="M487.0,380.3 L489.0,379.4 L499.7,379.3 L508.5,379.6 L516.6,379.3" fill="none" stroke="#2a2a2a" stroke-width="0.6" stroke-opacity="0.6" stroke-linejoin="round" stroke-linecap="round"/>
<path d="M362.7,320.7 C363.0,321.9 363.8,325.7 364.4,327.8 C365.0,329.9 365.6,331.7 366.2,333.4 C366.7,335.1 367.3,336.6 367.9,338.0 C368.5,339.4 369.1,340.7 369.6,342.0 C370.2,343.2 370.8,344.7 371.4,345.7 C372.0,346.7 372.5,347.3 373.1,348.0 C373.7,348.7 374.3,349.3 374.9,349.8 C375.4,350.2 376.0,350.5 376.6,350.7 C377.2,350.8 377.8,350.8 378.3,350.8 C378.9,350.7 379.5,350.4 380.1,350.3 C380.7,350.2 381.3,350.1 381.8,350.3 C382.4,350.5 383.0,350.9 383.6,351.4 C384.2,351.9 384.7,352.7 385.3,353.5 C385.9,354.4 386.5,355.5 387.1,356.2 C387.6,357.0 388.2,357.8 388.8,358.1 C389.4,358.5 390.0,358.5 390.5,358.3 C391.1,358.2 391.7,357.7 392.3,357.4 C392.9,357.2 393.5,356.8 394.0,356.7 C394.6,356.7 395.2,356.8 395.8,356.9 C396.4,356.9 396.9,357.2 397.5,357.2 C398.1,357.2 398.7,357.0 399.3,356.8 C399.8,356.6 400.4,356.1 401.0,356.0 C401.6,355.8 402.2,355.6 402.7,355.9 C403.3,356.1 403.9,356.7 404.5,357.3 C405.1,357.9 405.6,358.9 406.2,359.4 C406.8,359.9 407.4,360.4 408.0,360.4 C408.6,360.4 409.1,359.9 409.7,359.6 C410.3,359.2 410.9,358.5 411.5,358.2 C412.0,357.9 412.6,357.7 413.2,357.8 C413.8,358.0 414.4,358.5 414.9,358.8 C415.5,359.2 416.1,359.8 416.7,360.2 C417.3,360.5 417.8,360.7 418.4,360.8 C419.0,360.9 419.6,360.8 420.2,360.9 C420.8,361.0 421.3,361.1 421.9,361.3 C422.5,361.5 423.1,361.9 423.7,362.1 C424.2,362.3 424.8,362.6 425.4,362.6 C426.0,362.5 426.6,362.2 427.1,361.8 C427.7,361.5 428.3,360.7 428.9,360.4 C429.5,360.0 430.0,359.6 430.6,359.6 C431.2,359.6 431.8,360.1 432.4,360.5 C432.9,361.0 433.5,362.0 434.1,362.6 C434.7,363.1 435.3,363.8 435.9,364.0 C436.4,364.3 437.0,364.2 437.6,364.1 C438.2,363.9 438.8,363.5 439.3,363.2 C439.9,363.0 440.5,362.8 441.1,362.7 C441.7,362.7 442.2,362.8 442.8,362.9 C443.4,362.9 444.0,363.1 444.6,363.0 C445.1,362.9 445.7,362.7 446.3,362.5 C446.9,362.4 447.5,362.0 448.1,362.0 C448.6,362.0 449.2,362.1 449.8,362.5 C450.4,362.8 451.0,363.5 451.5,363.9 C452.1,364.4 452.7,365.1 453.3,365.3 C453.9,365.6 454.4,365.6 455.0,365.3 C455.6,365.0 456.2,364.3 456.8,363.7 C457.3,363.2 457.9,362.3 458.5,361.9 C459.1,361.4 459.7,361.3 460.3,361.1 C460.8,361.0 461.4,361.0 462.0,361.0 C462.6,360.9 463.2,360.8 463.7,360.6 C464.3,360.4 464.7,360.7 465.5,359.6 C466.2,358.5 467.8,354.9 468.3,353.9" fill="none" stroke="#3a3a3a" stroke-width="0.75" stroke-opacity="0.748" stroke-linejoin="round" stroke-linecap="round"/>
<path d="M468.3,353.9 L469.6,346.4 L470.6,322.9 L472.9,294.5 L474.0,276.4 L474.5,273.2 L475.1,279.6 L477.4,312.6 L479.7,345.6 L481.3,369.6 L482.0,381.4 L483.5,381.7 L485.2,380.3" fill="none" stroke="#3a3a3a" stroke-width="1.0" stroke-opacity="0.88" stroke-linejoin="round" stroke-linecap="round"/>
<path d="M485.2,380.3 L487.3,379.4 L499.7,379.3 L508.5,379.6 L516.6,379.3" fill="none" stroke="#3a3a3a" stroke-width="0.6" stroke-opacity="0.6" stroke-linejoin="round" stroke-linecap="round"/>
<path d="M362.7,324.5 C363.0,325.7 363.8,329.8 364.4,331.9 C365.0,334.1 365.6,336.0 366.2,337.7 C366.7,339.4 367.3,340.8 367.9,342.1 C368.5,343.5 369.1,345.0 369.6,346.0 C370.2,346.9 370.8,347.3 371.4,347.8 C372.0,348.4 372.5,348.8 373.1,349.3 C373.7,349.9 374.3,350.7 374.9,351.3 C375.4,351.9 376.0,352.5 376.6,353.0 C377.2,353.5 377.8,353.9 378.3,354.2 C378.9,354.5 379.5,354.5 380.1,354.7 C380.7,354.8 381.3,354.9 381.8,355.0 C382.4,355.2 383.0,355.4 383.6,355.6 C384.2,355.9 384.7,356.2 385.3,356.4 C385.9,356.7 386.5,357.0 387.1,357.2 C387.6,357.4 388.2,357.5 388.8,357.5 C389.4,357.6 390.0,357.5 390.5,357.5 C391.1,357.6 391.7,357.6 392.3,357.8 C392.9,358.0 393.5,358.4 394.0,358.7 C394.6,359.1 395.2,359.7 395.8,360.0 C396.4,360.2 396.9,360.5 397.5,360.4 C398.1,360.4 398.7,360.0 399.3,359.7 C399.8,359.3 400.4,358.6 401.0,358.2 C401.6,357.8 402.2,357.4 402.7,357.3 C403.3,357.3 403.9,357.5 404.5,357.8 C405.1,358.1 405.6,358.7 406.2,359.1 C406.8,359.5 407.4,359.9 408.0,360.1 C408.6,360.4 409.1,360.5 409.7,360.6 C410.3,360.7 410.9,360.8 411.5,361.0 C412.0,361.1 412.6,361.4 413.2,361.6 C413.8,361.8 414.4,362.0 414.9,362.1 C415.5,362.2 416.1,362.1 416.7,361.9 C417.3,361.8 417.8,361.3 418.4,361.1 C419.0,360.8 419.6,360.5 420.2,360.5 C420.8,360.4 421.3,360.6 421.9,360.9 C422.5,361.2 423.1,361.8 423.7,362.2 C424.2,362.6 424.8,363.2 425.4,363.5 C426.0,363.7 426.6,363.8 427.1,363.8 C427.7,363.8 428.3,363.5 428.9,363.4 C429.5,363.3 430.0,363.1 430.6,363.1 C431.2,363.0 431.8,363.1 432.4,363.2 C432.9,363.2 433.5,363.4 434.1,363.4 C434.7,363.4 435.3,363.4 435.9,363.3 C436.4,363.2 437.0,363.0 437.6,362.9 C438.2,362.9 438.8,362.9 439.3,363.1 C439.9,363.3 440.5,363.7 441.1,364.1 C441.7,364.5 442.2,365.1 442.8,365.4 C443.4,365.7 444.0,365.9 444.6,365.9 C445.1,365.9 445.7,365.6 446.3,365.3 C446.9,365.0 447.5,364.5 448.1,364.3 C448.6,364.0 449.2,363.9 449.8,363.8 C450.4,363.8 451.0,363.9 451.5,364.0 C452.1,364.1 452.7,364.3 453.3,364.4 C453.9,364.5 454.4,364.5 455.0,364.5 C455.6,364.4 456.2,364.3 456.8,364.3 C457.3,364.2 457.9,364.2 458.5,364.3 C459.1,364.4 459.7,364.7 460.3,364.7 C460.8,364.7 461.4,364.6 462.0,364.3 C462.6,363.9 463.2,363.3 463.7,362.7 C464.3,362.0 464.7,361.6 465.5,360.4 C466.3,359.1 468.1,356.0 468.7,355.2" fill="none" stroke="#333" stroke-width="0.75" stroke-opacity="0.748" stroke-linejoin="round" stroke-linecap="round"/>
<path d="M468.7,355.2 L470.4,347.6 L472.0,326.3 L473.8,299.5 L474.9,282.4 L475.4,279.4 L475.9,285.4 L478.2,316.5 L480.5,347.6 L482.2,370.2 L482.9,381.4 L484.4,381.7 L486.1,380.3" fill="none" stroke="#333" stroke-width="1.0" stroke-opacity="0.88" stroke-linejoin="round" stroke-linecap="round"/>
<path d="M486.1,380.3 L488.1,379.4 L499.7,379.3 L508.5,379.6 L516.6,379.3" fill="none" stroke="#333" stroke-width="0.6" stroke-opacity="0.6" stroke-linejoin="round" stroke-linecap="round"/>
<path d="M362.7,328.2 C363.0,329.3 363.8,332.6 364.4,334.4 C365.0,336.3 365.6,337.9 366.2,339.3 C366.7,340.8 367.3,342.2 367.9,343.3 C368.5,344.3 369.1,345.0 369.6,345.9 C370.2,346.8 370.8,347.9 371.4,348.7 C372.0,349.5 372.5,350.1 373.1,350.7 C373.7,351.2 374.3,351.6 374.9,351.9 C375.4,352.3 376.0,352.3 376.6,352.6 C377.2,352.8 377.8,353.2 378.3,353.5 C378.9,353.9 379.5,354.5 380.1,354.9 C380.7,355.4 381.3,355.9 381.8,356.2 C382.4,356.5 383.0,356.6 383.6,356.6 C384.2,356.6 384.7,356.3 385.3,356.2 C385.9,356.2 386.5,356.2 387.1,356.4 C387.6,356.6 388.2,357.1 388.8,357.5 C389.4,357.9 390.0,358.5 390.5,358.8 C391.1,359.1 391.7,359.3 392.3,359.4 C392.9,359.5 393.5,359.5 394.0,359.5 C394.6,359.6 395.2,359.7 395.8,359.8 C396.4,360.0 396.9,360.3 397.5,360.4 C398.1,360.5 398.7,360.7 399.3,360.5 C399.8,360.4 400.4,360.0 401.0,359.5 C401.6,359.1 402.2,358.2 402.7,357.9 C403.3,357.5 403.9,357.1 404.5,357.2 C405.1,357.3 405.6,357.8 406.2,358.4 C406.8,359.0 407.4,360.0 408.0,360.7 C408.6,361.3 409.1,362.0 409.7,362.3 C410.3,362.7 410.9,362.7 411.5,362.6 C412.0,362.6 412.6,362.2 413.2,362.0 C413.8,361.9 414.4,361.7 414.9,361.7 C415.5,361.7 416.1,361.8 416.7,361.9 C417.3,362.0 417.8,362.1 418.4,362.1 C419.0,362.1 419.6,362.0 420.2,361.9 C420.8,361.8 421.3,361.5 421.9,361.6 C422.5,361.6 423.1,361.7 423.7,362.0 C424.2,362.3 424.8,363.0 425.4,363.5 C426.0,363.9 426.6,364.6 427.1,364.9 C427.7,365.2 428.3,365.4 428.9,365.3 C429.5,365.1 430.0,364.6 430.6,364.3 C431.2,363.9 431.8,363.3 432.4,363.0 C432.9,362.8 433.5,362.7 434.1,362.7 C434.7,362.8 435.3,363.2 435.9,363.5 C436.4,363.7 437.0,364.1 437.6,364.3 C438.2,364.5 438.8,364.6 439.3,364.6 C439.9,364.7 440.5,364.6 441.1,364.7 C441.7,364.8 442.2,365.0 442.8,365.2 C443.4,365.5 444.0,365.9 444.6,366.1 C445.1,366.3 445.7,366.6 446.3,366.5 C446.9,366.5 447.5,366.1 448.1,365.8 C448.6,365.5 449.2,364.8 449.8,364.5 C450.4,364.1 451.0,363.6 451.5,363.6 C452.1,363.5 452.7,363.7 453.3,364.0 C453.9,364.3 454.4,364.9 455.0,365.3 C455.6,365.6 456.2,366.0 456.8,366.1 C457.3,366.2 457.9,366.0 458.5,365.8 C459.1,365.7 459.7,365.4 460.3,365.0 C460.8,364.7 461.4,364.3 462.0,363.9 C462.6,363.6 463.2,363.3 463.7,362.9 C464.3,362.5 464.7,362.7 465.5,361.6 C466.3,360.4 468.0,356.7 468.5,355.8" fill="none" stroke="#555" stroke-width="0.75" stroke-opacity="0.748" stroke-linejoin="round" stroke-linecap="round"/>
<path d="M468.5,355.8 L470.1,348.3 L471.5,321.9 L473.5,290.4 L474.6,271.5 L475.1,268.2 L475.6,274.9 L477.9,309.4 L480.2,344.0 L481.9,369.1 L482.6,381.4 L484.1,381.7 L485.8,380.3" fill="none" stroke="#555" stroke-width="1.0" stroke-opacity="0.88" stroke-linejoin="round" stroke-linecap="round"/>
<path d="M485.8,380.3 L487.8,379.4 L499.7,379.3 L508.5,379.6 L516.6,379.3" fill="none" stroke="#555" stroke-width="0.6" stroke-opacity="0.6" stroke-linejoin="round" stroke-linecap="round"/>
<path d="M362.7,325.7 C363.0,326.9 363.8,330.5 364.4,332.4 C365.0,334.3 365.6,335.9 366.2,337.4 C366.7,338.9 367.3,340.0 367.9,341.2 C368.5,342.4 369.1,343.4 369.6,344.6 C370.2,345.7 370.8,347.1 371.4,348.0 C372.0,348.9 372.5,349.5 373.1,349.9 C373.7,350.3 374.3,350.3 374.9,350.2 C375.4,350.0 376.0,349.4 376.6,349.2 C377.2,348.9 377.8,348.5 378.3,348.5 C378.9,348.5 379.5,348.8 380.1,349.2 C380.7,349.6 381.3,350.4 381.8,350.9 C382.4,351.5 383.0,352.1 383.6,352.5 C384.2,352.9 384.7,353.1 385.3,353.4 C385.9,353.7 386.5,353.9 387.1,354.2 C387.6,354.5 388.2,355.0 388.8,355.2 C389.4,355.4 390.0,355.7 390.5,355.6 C391.1,355.6 391.7,355.3 392.3,355.1 C392.9,354.8 393.5,354.2 394.0,354.0 C394.6,353.7 395.2,353.4 395.8,353.5 C396.4,353.5 396.9,353.9 397.5,354.2 C398.1,354.5 398.7,355.2 399.3,355.5 C399.8,355.8 400.4,356.1 401.0,356.1 C401.6,356.2 402.2,355.9 402.7,355.7 C403.3,355.6 403.9,355.3 404.5,355.2 C405.1,355.1 405.6,355.2 406.2,355.4 C406.8,355.5 407.4,355.9 408.0,356.1 C408.6,356.3 409.1,356.5 409.7,356.5 C410.3,356.6 410.9,356.4 411.5,356.3 C412.0,356.2 412.6,356.0 413.2,356.0 C413.8,356.1 414.4,356.2 414.9,356.6 C415.5,356.9 416.1,357.5 416.7,358.0 C417.3,358.5 417.8,359.1 418.4,359.4 C419.0,359.7 419.6,359.8 420.2,359.7 C420.8,359.6 421.3,359.1 421.9,358.8 C422.5,358.5 423.1,358.0 423.7,357.8 C424.2,357.6 424.8,357.6 425.4,357.7 C426.0,357.7 426.6,358.1 427.1,358.3 C427.7,358.5 428.3,358.8 428.9,358.9 C429.5,359.1 430.0,359.1 430.6,359.2 C431.2,359.2 431.8,359.2 432.4,359.4 C432.9,359.5 433.5,359.8 434.1,360.0 C434.7,360.3 435.3,360.8 435.9,361.0 C436.4,361.2 437.0,361.4 437.6,361.4 C438.2,361.3 438.8,361.0 439.3,360.6 C439.9,360.3 440.5,359.7 441.1,359.4 C441.7,359.1 442.2,358.8 442.8,358.8 C443.4,358.9 444.0,359.2 444.6,359.6 C445.1,359.9 445.7,360.6 446.3,361.0 C446.9,361.3 447.5,361.7 448.1,361.9 C448.6,362.0 449.2,362.0 449.8,361.9 C450.4,361.8 451.0,361.6 451.5,361.4 C452.1,361.3 452.7,361.2 453.3,361.1 C453.9,361.1 454.4,361.2 455.0,361.1 C455.6,361.0 456.2,360.9 456.8,360.6 C457.3,360.4 457.9,360.0 458.5,359.7 C459.1,359.3 459.7,359.0 460.3,358.8 C460.8,358.6 461.4,358.4 462.0,358.3 C462.6,358.3 463.2,358.5 463.7,358.5 C464.3,358.6 464.6,359.8 465.5,358.6 C466.4,357.4 468.5,352.6 469.1,351.4" fill="none" stroke="#333" stroke-width="0.75" stroke-opacity="0.748" stroke-linejoin="round" stroke-linecap="round"/>
<path d="M469.1,351.4 L471.3,343.9 L473.4,325.1 L474.7,301.5 L475.8,284.9 L476.2,281.9 L476.8,287.8 L479.2,318.1 L481.6,348.4 L483.3,370.4 L484.1,381.4 L485.5,381.7 L487.3,380.3" fill="none" stroke="#333" stroke-width="1.0" stroke-opacity="0.88" stroke-linejoin="round" stroke-linecap="round"/>
<path d="M487.3,380.3 L489.3,379.4 L499.7,379.3 L508.5,379.6 L516.6,379.3" fill="none" stroke="#333" stroke-width="0.6" stroke-opacity="0.6" stroke-linejoin="round" stroke-linecap="round"/>
<path d="M362.7,333.3 C363.0,334.2 363.8,337.2 364.4,338.9 C365.0,340.6 365.6,342.0 366.2,343.3 C366.7,344.6 367.3,345.7 367.9,346.8 C368.5,347.9 369.1,348.9 369.6,349.7 C370.2,350.5 370.8,351.0 371.4,351.6 C372.0,352.3 372.5,353.0 373.1,353.6 C373.7,354.1 374.3,354.6 374.9,354.8 C375.4,354.9 376.0,354.6 376.6,354.4 C377.2,354.3 377.8,353.8 378.3,353.8 C378.9,353.9 379.5,354.1 380.1,354.6 C380.7,355.2 381.3,356.3 381.8,357.2 C382.4,358.0 383.0,359.1 383.6,359.6 C384.2,360.1 384.7,360.2 385.3,360.2 C385.9,360.1 386.5,359.6 387.1,359.3 C387.6,359.1 388.2,358.7 388.8,358.6 C389.4,358.6 390.0,358.7 390.5,358.9 C391.1,359.1 391.7,359.6 392.3,359.9 C392.9,360.1 393.5,360.4 394.0,360.6 C394.6,360.7 395.2,360.7 395.8,360.8 C396.4,360.8 396.9,360.8 397.5,360.9 C398.1,361.0 398.7,361.3 399.3,361.4 C399.8,361.6 400.4,361.8 401.0,361.8 C401.6,361.8 402.2,361.6 402.7,361.3 C403.3,361.0 403.9,360.5 404.5,360.2 C405.1,359.8 405.6,359.4 406.2,359.4 C406.8,359.3 407.4,359.5 408.0,359.8 C408.6,360.2 409.1,360.9 409.7,361.5 C410.3,362.1 410.9,362.8 411.5,363.3 C412.0,363.7 412.6,364.0 413.2,364.1 C413.8,364.2 414.4,364.0 414.9,363.9 C415.5,363.8 416.1,363.6 416.7,363.6 C417.3,363.5 417.8,363.6 418.4,363.7 C419.0,363.7 419.6,363.9 420.2,364.0 C420.8,364.0 421.3,363.9 421.9,363.7 C422.5,363.6 423.1,363.2 423.7,363.1 C424.2,363.0 424.8,362.8 425.4,362.9 C426.0,363.0 426.6,363.5 427.1,363.9 C427.7,364.4 428.3,365.2 428.9,365.7 C429.5,366.1 430.0,366.6 430.6,366.8 C431.2,366.9 431.8,366.8 432.4,366.5 C432.9,366.3 433.5,365.7 434.1,365.4 C434.7,365.1 435.3,364.7 435.9,364.6 C436.4,364.5 437.0,364.6 437.6,364.7 C438.2,364.9 438.8,365.2 439.3,365.4 C439.9,365.5 440.5,365.7 441.1,365.7 C441.7,365.8 442.2,365.7 442.8,365.8 C443.4,365.8 444.0,365.9 444.6,366.1 C445.1,366.4 445.7,366.8 446.3,367.1 C446.9,367.5 447.5,367.9 448.1,368.1 C448.6,368.3 449.2,368.3 449.8,368.1 C450.4,367.8 451.0,367.1 451.5,366.6 C452.1,366.1 452.7,365.4 453.3,365.0 C453.9,364.7 454.4,364.5 455.0,364.6 C455.6,364.7 456.2,365.1 456.8,365.4 C457.3,365.8 457.9,366.3 458.5,366.5 C459.1,366.7 459.7,366.9 460.3,366.8 C460.8,366.6 461.4,366.1 462.0,365.7 C462.6,365.3 463.2,364.7 463.7,364.3 C464.3,363.9 464.7,364.5 465.5,363.3 C466.3,362.1 468.1,358.1 468.7,357.0" fill="none" stroke="#555" stroke-width="0.75" stroke-opacity="0.748" stroke-linejoin="round" stroke-linecap="round"/>
<path d="M468.7,357.0 L470.4,349.5 L472.0,318.4 L473.8,282.4 L474.9,261.8 L475.4,258.2 L475.9,265.4 L478.1,303.1 L480.3,340.8 L481.9,368.2 L482.6,381.4 L484.1,381.7 L485.8,380.3" fill="none" stroke="#888" stroke-width="0.65" stroke-opacity="0.88" stroke-linejoin="round" stroke-linecap="round"/>
<path d="M485.8,380.3 L487.8,379.4 L499.7,379.3 L508.5,379.6 L516.6,379.3" fill="none" stroke="#888" stroke-width="0.6" stroke-opacity="0.6" stroke-linejoin="round" stroke-linecap="round"/>
<path d="M362.7,319.5 C363.0,320.6 363.8,324.0 364.4,326.0 C365.0,327.9 365.6,329.6 366.2,331.1 C366.7,332.6 367.3,333.9 367.9,335.2 C368.5,336.4 369.1,337.8 369.6,338.5 C370.2,339.3 370.8,339.2 371.4,339.8 C372.0,340.3 372.5,341.1 373.1,341.9 C373.7,342.6 374.3,343.8 374.9,344.3 C375.4,344.9 376.0,345.1 376.6,345.2 C377.2,345.3 377.8,344.8 378.3,344.8 C378.9,344.8 379.5,344.6 380.1,344.9 C380.7,345.3 381.3,346.3 381.8,347.1 C382.4,348.0 383.0,349.3 383.6,350.0 C384.2,350.7 384.7,351.2 385.3,351.3 C385.9,351.3 386.5,350.8 387.1,350.4 C387.6,350.0 388.2,349.3 388.8,349.0 C389.4,348.8 390.0,348.6 390.5,348.9 C391.1,349.1 391.7,349.8 392.3,350.4 C392.9,351.0 393.5,351.9 394.0,352.4 C394.6,352.9 395.2,353.3 395.8,353.4 C396.4,353.5 396.9,353.3 397.5,353.1 C398.1,352.9 398.7,352.5 399.3,352.2 C399.8,352.0 400.4,351.9 401.0,351.7 C401.6,351.6 402.2,351.5 402.7,351.4 C403.3,351.2 403.9,351.1 404.5,350.9 C405.1,350.7 405.6,350.5 406.2,350.3 C406.8,350.2 407.4,350.2 408.0,350.0 C408.6,349.8 409.1,349.6 409.7,349.1 C410.3,348.7 410.9,347.5 411.5,347.3 C412.0,347.1 412.6,347.3 413.2,348.0 C413.8,348.7 414.4,350.7 414.9,351.6 C415.5,352.5 416.1,353.2 416.7,353.5 C417.3,353.8 417.8,353.5 418.4,353.5 C419.0,353.6 419.6,353.6 420.2,353.8 C420.8,354.0 421.3,354.4 421.9,354.6 C422.5,354.8 423.1,354.9 423.7,355.0 C424.2,355.1 424.8,354.9 425.4,355.0 C426.0,355.1 426.6,355.1 427.1,355.4 C427.7,355.7 428.3,356.3 428.9,356.8 C429.5,357.2 430.0,357.9 430.6,358.2 C431.2,358.4 431.8,358.5 432.4,358.2 C432.9,358.0 433.5,357.3 434.1,356.7 C434.7,356.2 435.3,355.3 435.9,355.0 C436.4,354.7 437.0,354.5 437.6,354.7 C438.2,354.8 438.8,355.5 439.3,356.0 C439.9,356.5 440.5,357.3 441.1,357.7 C441.7,358.1 442.2,358.4 442.8,358.5 C443.4,358.6 444.0,358.4 444.6,358.3 C445.1,358.3 445.7,358.1 446.3,358.2 C446.9,358.2 447.5,358.4 448.1,358.6 C448.6,358.7 449.2,358.9 449.8,358.8 C450.4,358.7 451.0,358.3 451.5,357.9 C452.1,357.5 452.7,356.7 453.3,356.2 C453.9,355.8 454.4,355.4 455.0,355.4 C455.6,355.3 456.2,355.7 456.8,356.2 C457.3,356.7 457.9,357.6 458.5,358.1 C459.1,358.6 459.7,359.3 460.3,359.3 C460.8,359.3 461.4,358.7 462.0,358.1 C462.6,357.4 463.2,356.3 463.7,355.5 C464.3,354.7 464.6,354.5 465.5,353.3 C466.3,352.1 468.3,349.1 468.8,348.3" fill="none" stroke="#444" stroke-width="0.75" stroke-opacity="0.748" stroke-linejoin="round" stroke-linecap="round"/>
<path d="M468.8,348.3 L470.7,340.8 L472.4,320.7 L474.1,296.5 L475.2,278.8 L475.6,275.7 L476.2,281.9 L478.6,314.1 L481.0,346.4 L482.8,369.8 L483.5,381.4 L484.9,381.7 L486.7,380.3" fill="none" stroke="#444" stroke-width="1.0" stroke-opacity="0.88" stroke-linejoin="round" stroke-linecap="round"/>
<path d="M486.7,380.3 L488.7,379.4 L499.7,379.3 L508.5,379.6 L516.6,379.3" fill="none" stroke="#444" stroke-width="0.6" stroke-opacity="0.6" stroke-linejoin="round" stroke-linecap="round"/>
<path d="M362.7,323.2 C363.0,324.3 363.8,327.6 364.4,329.4 C365.0,331.3 365.6,332.9 366.2,334.5 C366.7,336.0 367.3,337.2 367.9,338.5 C368.5,339.9 369.1,341.5 369.6,342.5 C370.2,343.5 370.8,344.0 371.4,344.8 C372.0,345.5 372.5,346.3 373.1,346.9 C373.7,347.6 374.3,348.4 374.9,348.8 C375.4,349.2 376.0,349.3 376.6,349.4 C377.2,349.5 377.8,349.2 378.3,349.2 C378.9,349.3 379.5,349.2 380.1,349.5 C380.7,349.9 381.3,350.5 381.8,351.2 C382.4,351.9 383.0,352.9 383.6,353.6 C384.2,354.3 384.7,354.9 385.3,355.3 C385.9,355.6 386.5,355.6 387.1,355.5 C387.6,355.5 388.2,355.2 388.8,355.0 C389.4,354.9 390.0,354.7 390.5,354.6 C391.1,354.6 391.7,354.8 392.3,355.0 C392.9,355.1 393.5,355.5 394.0,355.7 C394.6,355.9 395.2,356.1 395.8,356.2 C396.4,356.3 396.9,356.3 397.5,356.3 C398.1,356.4 398.7,356.4 399.3,356.4 C399.8,356.5 400.4,356.7 401.0,356.8 C401.6,356.9 402.2,357.1 402.7,357.1 C403.3,357.2 403.9,357.2 404.5,357.1 C405.1,357.0 405.6,356.8 406.2,356.7 C406.8,356.5 407.4,356.3 408.0,356.3 C408.6,356.3 409.1,356.4 409.7,356.6 C410.3,356.9 410.9,357.4 411.5,357.7 C412.0,358.1 412.6,358.6 413.2,358.9 C413.8,359.2 414.4,359.4 414.9,359.5 C415.5,359.6 416.1,359.5 416.7,359.4 C417.3,359.4 417.8,359.3 418.4,359.3 C419.0,359.4 419.6,359.5 420.2,359.6 C420.8,359.6 421.3,359.8 421.9,359.8 C422.5,359.8 423.1,359.7 423.7,359.6 C424.2,359.5 424.8,359.3 425.4,359.2 C426.0,359.1 426.6,359.0 427.1,359.1 C427.7,359.2 428.3,359.6 428.9,359.9 C429.5,360.3 430.0,360.9 430.6,361.2 C431.2,361.6 431.8,361.9 432.4,362.0 C432.9,362.2 433.5,362.0 434.1,361.9 C434.7,361.8 435.3,361.4 435.9,361.2 C436.4,361.0 437.0,360.7 437.6,360.7 C438.2,360.6 438.8,360.8 439.3,360.9 C439.9,361.0 440.5,361.2 441.1,361.3 C441.7,361.4 442.2,361.5 442.8,361.5 C443.4,361.6 444.0,361.5 444.6,361.6 C445.1,361.6 445.7,361.7 446.3,361.9 C446.9,362.1 447.5,362.5 448.1,362.7 C448.6,363.0 449.2,363.4 449.8,363.5 C450.4,363.6 451.0,363.5 451.5,363.2 C452.1,363.0 452.7,362.5 453.3,362.1 C453.9,361.7 454.4,361.2 455.0,360.9 C455.6,360.7 456.2,360.6 456.8,360.6 C457.3,360.7 457.9,361.0 458.5,361.1 C459.1,361.3 459.7,361.8 460.3,361.8 C460.8,361.8 461.4,361.5 462.0,361.2 C462.6,360.9 463.2,360.3 463.7,359.9 C464.3,359.5 464.7,359.9 465.5,358.7 C466.3,357.5 467.9,353.7 468.4,352.7" fill="none" stroke="#3a3a3a" stroke-width="0.75" stroke-opacity="0.748" stroke-linejoin="round" stroke-linecap="round"/>
<path d="M468.4,352.7 L469.9,345.1 L471.1,324.3 L473.2,298.5 L474.3,281.2 L474.8,278.2 L475.4,284.3 L477.7,315.7 L480.0,347.2 L481.6,370.0 L482.3,381.4 L483.8,381.7 L485.5,380.3" fill="none" stroke="#3a3a3a" stroke-width="1.0" stroke-opacity="0.88" stroke-linejoin="round" stroke-linecap="round"/>
<path d="M485.5,380.3 L487.6,379.4 L499.7,379.3 L508.5,379.6 L516.6,379.3" fill="none" stroke="#3a3a3a" stroke-width="0.6" stroke-opacity="0.6" stroke-linejoin="round" stroke-linecap="round"/>
<path d="M362.7,314.5 C363.0,315.9 363.8,320.5 364.4,323.1 C365.0,325.6 365.6,327.7 366.2,329.6 C366.7,331.6 367.3,333.2 367.9,334.7 C368.5,336.3 369.1,337.6 369.6,339.0 C370.2,340.4 370.8,342.1 371.4,343.1 C372.0,344.2 372.5,344.9 373.1,345.4 C373.7,346.0 374.3,346.4 374.9,346.6 C375.4,346.8 376.0,346.8 376.6,346.8 C377.2,346.8 377.8,346.8 378.3,346.8 C378.9,346.9 379.5,346.8 380.1,347.0 C380.7,347.1 381.3,347.3 381.8,347.5 C382.4,347.8 383.0,348.1 383.6,348.6 C384.2,349.0 384.7,349.5 385.3,350.1 C385.9,350.7 386.5,351.5 387.1,352.2 C387.6,352.8 388.2,353.6 388.8,353.9 C389.4,354.2 390.0,354.3 390.5,354.2 C391.1,354.1 391.7,353.6 392.3,353.2 C392.9,352.9 393.5,352.4 394.0,352.2 C394.6,352.0 395.2,351.9 395.8,352.0 C396.4,352.1 396.9,352.5 397.5,352.6 C398.1,352.8 398.7,353.0 399.3,353.1 C399.8,353.1 400.4,352.9 401.0,352.8 C401.6,352.7 402.2,352.4 402.7,352.5 C403.3,352.6 403.9,352.8 404.5,353.2 C405.1,353.5 405.6,354.2 406.2,354.6 C406.8,355.0 407.4,355.5 408.0,355.6 C408.6,355.6 409.1,355.4 409.7,355.1 C410.3,354.9 410.9,354.2 411.5,354.0 C412.0,353.7 412.6,353.4 413.2,353.5 C413.8,353.6 414.4,354.0 414.9,354.4 C415.5,354.8 416.1,355.6 416.7,356.0 C417.3,356.4 417.8,356.9 418.4,357.0 C419.0,357.2 419.6,357.2 420.2,357.1 C420.8,357.1 421.3,356.9 421.9,356.9 C422.5,356.8 423.1,356.9 423.7,357.0 C424.2,357.0 424.8,357.2 425.4,357.3 C426.0,357.3 426.6,357.3 427.1,357.1 C427.7,357.0 428.3,356.6 428.9,356.4 C429.5,356.2 430.0,355.9 430.6,355.9 C431.2,355.9 431.8,356.1 432.4,356.5 C432.9,356.9 433.5,357.6 434.1,358.2 C434.7,358.7 435.3,359.4 435.9,359.7 C436.4,359.9 437.0,360.0 437.6,359.8 C438.2,359.7 438.8,359.2 439.3,358.9 C439.9,358.5 440.5,358.1 441.1,357.9 C441.7,357.7 442.2,357.7 442.8,357.8 C443.4,357.8 444.0,358.1 444.6,358.2 C445.1,358.4 445.7,358.5 446.3,358.6 C446.9,358.6 447.5,358.5 448.1,358.6 C448.6,358.6 449.2,358.6 449.8,358.8 C450.4,358.9 451.0,359.2 451.5,359.5 C452.1,359.8 452.7,360.2 453.3,360.4 C453.9,360.6 454.4,360.7 455.0,360.5 C455.6,360.3 456.2,359.7 456.8,359.2 C457.3,358.7 457.9,357.9 458.5,357.5 C459.1,357.1 459.7,356.8 460.3,356.6 C460.8,356.4 461.4,356.4 462.0,356.4 C462.6,356.4 463.2,356.5 463.7,356.5 C464.3,356.4 464.6,357.1 465.5,356.0 C466.3,354.8 468.4,350.6 469.0,349.5" fill="none" stroke="#2a2a2a" stroke-width="0.75" stroke-opacity="0.748" stroke-linejoin="round" stroke-linecap="round"/>
<path d="M469.0,349.5 L471.0,342.0 L472.9,319.8 L474.4,293.5 L475.5,275.2 L475.9,271.9 L476.5,278.4 L479.0,311.8 L481.4,345.2 L483.2,369.4 L483.9,381.4 L485.4,381.7 L487.1,380.3" fill="none" stroke="#2a2a2a" stroke-width="1.0" stroke-opacity="0.88" stroke-linejoin="round" stroke-linecap="round"/>
<path d="M487.1,380.3 L489.2,379.4 L499.7,379.3 L508.5,379.6 L516.6,379.3" fill="none" stroke="#2a2a2a" stroke-width="0.6" stroke-opacity="0.6" stroke-linejoin="round" stroke-linecap="round"/>
<path d="M362.7,322.0 C363.0,323.2 363.8,327.1 364.4,329.3 C365.0,331.4 365.6,333.2 366.2,334.9 C366.7,336.6 367.3,338.0 367.9,339.3 C368.5,340.5 369.1,341.6 369.6,342.4 C370.2,343.2 370.8,343.4 371.4,344.0 C372.0,344.7 372.5,345.5 373.1,346.3 C373.7,347.1 374.3,348.2 374.9,348.9 C375.4,349.6 376.0,350.0 376.6,350.3 C377.2,350.5 377.8,350.4 378.3,350.4 C378.9,350.4 379.5,350.2 380.1,350.4 C380.7,350.6 381.3,351.1 381.8,351.6 C382.4,352.1 383.0,352.9 383.6,353.3 C384.2,353.8 384.7,354.2 385.3,354.3 C385.9,354.4 386.5,354.2 387.1,354.1 C387.6,353.9 388.2,353.5 388.8,353.4 C389.4,353.4 390.0,353.3 390.5,353.6 C391.1,353.8 391.7,354.3 392.3,354.8 C392.9,355.3 393.5,356.0 394.0,356.4 C394.6,356.8 395.2,357.2 395.8,357.2 C396.4,357.3 396.9,357.0 397.5,356.8 C398.1,356.6 398.7,356.1 399.3,355.8 C399.8,355.5 400.4,355.3 401.0,355.1 C401.6,355.0 402.2,355.0 402.7,355.0 C403.3,355.0 403.9,355.1 404.5,355.1 C405.1,355.2 405.6,355.2 406.2,355.3 C406.8,355.4 407.4,355.5 408.0,355.8 C408.6,356.1 409.1,356.5 409.7,356.9 C410.3,357.4 410.9,358.0 411.5,358.4 C412.0,358.9 412.6,359.3 413.2,359.5 C413.8,359.6 414.4,359.5 414.9,359.3 C415.5,359.0 416.1,358.5 416.7,358.1 C417.3,357.8 417.8,357.4 418.4,357.3 C419.0,357.2 419.6,357.3 420.2,357.5 C420.8,357.7 421.3,358.2 421.9,358.5 C422.5,358.8 423.1,359.2 423.7,359.4 C424.2,359.6 424.8,359.6 425.4,359.6 C426.0,359.7 426.6,359.7 427.1,359.8 C427.7,359.9 428.3,360.1 428.9,360.3 C429.5,360.5 430.0,360.8 430.6,360.9 C431.2,361.0 431.8,361.1 432.4,361.0 C432.9,360.8 433.5,360.4 434.1,360.1 C434.7,359.8 435.3,359.3 435.9,359.2 C436.4,359.0 437.0,358.9 437.6,359.1 C438.2,359.3 438.8,359.8 439.3,360.2 C439.9,360.7 440.5,361.4 441.1,361.7 C441.7,362.1 442.2,362.4 442.8,362.4 C443.4,362.5 444.0,362.3 444.6,362.1 C445.1,362.0 445.7,361.7 446.3,361.6 C446.9,361.5 447.5,361.4 448.1,361.5 C448.6,361.5 449.2,361.7 449.8,361.7 C450.4,361.7 451.0,361.6 451.5,361.4 C452.1,361.2 452.7,360.9 453.3,360.7 C453.9,360.5 454.4,360.2 455.0,360.2 C455.6,360.2 456.2,360.4 456.8,360.7 C457.3,361.0 457.9,361.5 458.5,361.8 C459.1,362.1 459.7,362.6 460.3,362.5 C460.8,362.4 461.4,361.9 462.0,361.3 C462.6,360.7 463.2,359.6 463.7,358.9 C464.3,358.1 464.7,357.9 465.5,356.7 C466.3,355.6 468.0,352.8 468.5,352.0" fill="none" stroke="#222" stroke-width="0.75" stroke-opacity="0.748" stroke-linejoin="round" stroke-linecap="round"/>
<path d="M468.5,352.0 L470.1,344.5 L471.5,322.9 L473.5,296.5 L474.6,278.8 L475.1,275.7 L475.6,281.9 L478.0,314.1 L480.4,346.4 L482.2,369.8 L482.9,381.4 L484.4,381.7 L486.1,380.3" fill="none" stroke="#222" stroke-width="1.0" stroke-opacity="0.88" stroke-linejoin="round" stroke-linecap="round"/>
<path d="M486.1,380.3 L488.1,379.4 L499.7,379.3 L508.5,379.6 L516.6,379.3" fill="none" stroke="#222" stroke-width="0.6" stroke-opacity="0.6" stroke-linejoin="round" stroke-linecap="round"/>
<path d="M362.7,317.0 C363.0,318.4 363.8,322.8 364.4,325.2 C365.0,327.7 365.6,329.7 366.2,331.6 C366.7,333.5 367.3,334.9 367.9,336.5 C368.5,338.1 369.1,339.7 369.6,341.1 C370.2,342.4 370.8,343.6 371.4,344.5 C372.0,345.5 372.5,346.1 373.1,346.5 C373.7,346.9 374.3,347.0 374.9,347.0 C375.4,347.0 376.0,346.5 376.6,346.4 C377.2,346.3 377.8,346.3 378.3,346.5 C378.9,346.8 379.5,347.5 380.1,348.1 C380.7,348.8 381.3,350.0 381.8,350.7 C382.4,351.4 383.0,352.2 383.6,352.5 C384.2,352.9 384.7,353.0 385.3,353.0 C385.9,353.1 386.5,353.0 387.1,353.1 C387.6,353.1 388.2,353.3 388.8,353.4 C389.4,353.5 390.0,353.7 390.5,353.8 C391.1,353.8 391.7,353.7 392.3,353.6 C392.9,353.5 393.5,353.2 394.0,353.1 C394.6,353.1 395.2,353.0 395.8,353.3 C396.4,353.5 396.9,354.0 397.5,354.4 C398.1,354.9 398.7,355.5 399.3,355.8 C399.8,356.1 400.4,356.2 401.0,356.1 C401.6,355.9 402.2,355.4 402.7,354.9 C403.3,354.5 403.9,353.9 404.5,353.6 C405.1,353.3 405.6,353.2 406.2,353.4 C406.8,353.5 407.4,354.0 408.0,354.4 C408.6,354.8 409.1,355.3 409.7,355.6 C410.3,355.9 410.9,356.1 411.5,356.2 C412.0,356.4 412.6,356.3 413.2,356.4 C413.8,356.6 414.4,356.7 414.9,356.9 C415.5,357.2 416.1,357.7 416.7,358.0 C417.3,358.3 417.8,358.7 418.4,358.7 C419.0,358.8 419.6,358.7 420.2,358.4 C420.8,358.2 421.3,357.5 421.9,357.2 C422.5,356.8 423.1,356.3 423.7,356.2 C424.2,356.1 424.8,356.2 425.4,356.5 C426.0,356.8 426.6,357.5 427.1,358.0 C427.7,358.5 428.3,359.1 428.9,359.4 C429.5,359.7 430.0,359.8 430.6,359.8 C431.2,359.8 431.8,359.6 432.4,359.5 C432.9,359.4 433.5,359.3 434.1,359.3 C434.7,359.3 435.3,359.5 435.9,359.6 C436.4,359.7 437.0,359.8 437.6,359.7 C438.2,359.6 438.8,359.3 439.3,359.1 C439.9,358.9 440.5,358.5 441.1,358.4 C441.7,358.3 442.2,358.2 442.8,358.4 C443.4,358.7 444.0,359.3 444.6,359.7 C445.1,360.2 445.7,361.0 446.3,361.4 C446.9,361.8 447.5,362.1 448.1,362.2 C448.6,362.2 449.2,361.9 449.8,361.5 C450.4,361.2 451.0,360.5 451.5,360.2 C452.1,359.8 452.7,359.5 453.3,359.3 C453.9,359.2 454.4,359.3 455.0,359.4 C455.6,359.4 456.2,359.6 456.8,359.6 C457.3,359.6 457.9,359.5 458.5,359.4 C459.1,359.3 459.7,359.2 460.3,359.1 C460.8,359.0 461.4,358.8 462.0,358.7 C462.6,358.7 463.2,358.7 463.7,358.7 C464.3,358.6 464.7,359.5 465.5,358.2 C466.2,356.9 467.7,352.0 468.1,350.8" fill="none" stroke="#444" stroke-width="0.75" stroke-opacity="0.748" stroke-linejoin="round" stroke-linecap="round"/>
<path d="M468.1,350.8 L469.3,343.3 L470.1,322.7 L472.6,297.5 L473.7,280.0 L474.2,276.9 L474.8,283.1 L477.1,314.9 L479.4,346.8 L481.0,369.9 L481.7,381.4 L483.2,381.7 L484.9,380.3" fill="none" stroke="#444" stroke-width="1.0" stroke-opacity="0.88" stroke-linejoin="round" stroke-linecap="round"/>
<path d="M484.9,380.3 L487.0,379.4 L499.7,379.3 L508.5,379.6 L516.6,379.3" fill="none" stroke="#444" stroke-width="0.6" stroke-opacity="0.6" stroke-linejoin="round" stroke-linecap="round"/>
<clipPath id="r1"><rect x="169" y="487" width="234.8" height="15"/></clipPath>
<clipPath id="r2"><rect x="169" y="506.2" width="234.8" height="25.6"/></clipPath>
<rect x="169" y="487" width="234.8" height="15" fill="#f1f1f1"/>
<rect x="169" y="506.2" width="234.8" height="25.6" fill="#f4f4f4"/>
<g clip-path="url(#r1)">
<ellipse cx="190.0" cy="494.6" rx="13.5" ry="5.6" fill="#333" fill-opacity="0.8" filter="url(#b3)"/>
<rect x="180.5" y="489.8" width="23.0" height="9.8" rx="4.9" fill="#0c0c0c" fill-opacity="0.88" filter="url(#b2)"/>
<ellipse cx="183.0" cy="493.0" rx="5.0" ry="2.6" fill="#222" fill-opacity="0.5" filter="url(#b2)"/>
<rect x="239.5" y="485.0" width="26.5" height="17.0" rx="7.0" fill="#030303" fill-opacity="1" filter="url(#b2)"/>
<ellipse cx="252.7" cy="494.5" rx="11.5" ry="6.5" fill="#000" fill-opacity="1" filter="url(#b1)"/>
<rect x="304.0" y="485.0" width="25.5" height="16.2" rx="7.0" fill="#080808" fill-opacity="1" filter="url(#b2)"/>
<ellipse cx="316.8" cy="494.5" rx="11.0" ry="6.0" fill="#030303" fill-opacity="1" filter="url(#b1)"/>
<ellipse cx="377.5" cy="497.6" rx="6.5" ry="3.6" fill="#1a1a1a" fill-opacity="0.95" filter="url(#b2)"/>
<ellipse cx="389.0" cy="497.0" rx="6.5" ry="4.0" fill="#111" fill-opacity="0.95" filter="url(#b2)"/>
<rect x="372.5" y="495.6" width="22.0" height="5.8" rx="2.9" fill="#111" fill-opacity="0.95" filter="url(#b1)"/>
</g>
<g clip-path="url(#r2)">
<ellipse cx="191.0" cy="511.0" rx="12.0" ry="4.5" fill="#888" fill-opacity="0.6" filter="url(#b3)"/>
<ellipse cx="254.0" cy="511.0" rx="11.0" ry="4.5" fill="#888" fill-opacity="0.6" filter="url(#b3)"/>
<ellipse cx="319.5" cy="508.5" rx="11.0" ry="3.5" fill="#888" fill-opacity="0.5" filter="url(#b3)"/>
<ellipse cx="382.5" cy="508.5" rx="11.0" ry="3.5" fill="#888" fill-opacity="0.5" filter="url(#b3)"/>
<rect x="176.3" y="511.6" width="28.7" height="11.4" rx="5.7" fill="#040404" fill-opacity="1" filter="url(#b2)"/>
<ellipse cx="190.7" cy="517.4" rx="12.5" ry="4.6" fill="#000" fill-opacity="1" filter="url(#b1)"/>
<rect x="240.5" y="511.8" width="27.0" height="12.2" rx="6.1" fill="#060606" fill-opacity="1" filter="url(#b2)"/>
<ellipse cx="254.0" cy="518.0" rx="11.5" ry="4.8" fill="#000" fill-opacity="1" filter="url(#b1)"/>
<rect x="304.3" y="509.0" width="30.5" height="12.0" rx="6.0" fill="#040404" fill-opacity="1" filter="url(#b2)"/>
<ellipse cx="319.6" cy="517.0" rx="11.5" ry="5.8" fill="#030303" fill-opacity="1" filter="url(#b2)"/>
<rect x="368.3" y="509.0" width="28.0" height="12.5" rx="6.2" fill="#040404" fill-opacity="1" filter="url(#b2)"/>
<ellipse cx="382.6" cy="517.6" rx="11.0" ry="6.2" fill="#030303" fill-opacity="1" filter="url(#b2)"/>
</g>
<text class="sa" x="188.80" y="470.20" font-size="13.5" text-anchor="middle" fill="#111" stroke="#111" stroke-width="0.2">C</text>
<text class="sa" x="252.40" y="470.20" font-size="13.5" text-anchor="middle" fill="#111" stroke="#111" stroke-width="0.2">HG</text>
<text class="sa" x="319.30" y="470.20" font-size="13.5" text-anchor="middle" fill="#111" stroke="#111" stroke-width="0.2">NCTD2.5</text>
<text class="sa" x="383.00" y="471.90" font-size="13.5" text-anchor="middle" fill="#111" stroke="#111" stroke-width="0.2">NCTD5</text>
<text class="sa" x="156.50" y="499.80" font-size="13.2" text-anchor="end" fill="#111" stroke="#111" stroke-width="0.2">CaN</text>
<text class="sa" x="156.50" y="523.80" font-size="13.2" text-anchor="end" fill="#111" stroke="#111" stroke-width="0.2">β-actin</text>
<line x1="148.20" y1="568.60" x2="148.20" y2="671.90" stroke="#1a1a1a" stroke-width="1.4"/>
<line x1="148.20" y1="671.30" x2="425.20" y2="671.30" stroke="#1a1a1a" stroke-width="1.4"/>
<text class="se" x="0" y="0" font-size="14.7" text-anchor="end" fill="#111" stroke="#111" stroke-width="0.25" transform="translate(143.30 676.10) scale(1 0.86)">0</text>
<line x1="148.20" y1="656.74" x2="150.80" y2="656.74" stroke="#1a1a1a" stroke-width="1"/>
<text class="se" x="0" y="0" font-size="14.7" text-anchor="end" fill="#111" stroke="#111" stroke-width="0.25" transform="translate(143.30 661.54) scale(1 0.86)">0.4</text>
<line x1="148.20" y1="642.18" x2="150.80" y2="642.18" stroke="#1a1a1a" stroke-width="1"/>
<text class="se" x="0" y="0" font-size="14.7" text-anchor="end" fill="#111" stroke="#111" stroke-width="0.25" transform="translate(143.30 646.98) scale(1 0.86)">0.8</text>
<line x1="148.20" y1="627.62" x2="150.80" y2="627.62" stroke="#1a1a1a" stroke-width="1"/>
<text class="se" x="0" y="0" font-size="14.7" text-anchor="end" fill="#111" stroke="#111" stroke-width="0.25" transform="translate(143.30 632.42) scale(1 0.86)">1.2</text>
<line x1="148.20" y1="613.06" x2="150.80" y2="613.06" stroke="#1a1a1a" stroke-width="1"/>
<text class="se" x="0" y="0" font-size="14.7" text-anchor="end" fill="#111" stroke="#111" stroke-width="0.25" transform="translate(143.30 617.86) scale(1 0.86)">1.6</text>
<line x1="148.20" y1="598.50" x2="150.80" y2="598.50" stroke="#1a1a1a" stroke-width="1"/>
<text class="se" x="0" y="0" font-size="14.7" text-anchor="end" fill="#111" stroke="#111" stroke-width="0.25" transform="translate(143.30 603.30) scale(1 0.86)">2</text>
<line x1="148.20" y1="583.94" x2="150.80" y2="583.94" stroke="#1a1a1a" stroke-width="1"/>
<text class="se" x="0" y="0" font-size="14.7" text-anchor="end" fill="#111" stroke="#111" stroke-width="0.25" transform="translate(143.30 588.74) scale(1 0.86)">2.4</text>
<line x1="148.20" y1="569.38" x2="150.80" y2="569.38" stroke="#1a1a1a" stroke-width="1"/>
<text class="se" x="0" y="0" font-size="14.7" text-anchor="end" fill="#111" stroke="#111" stroke-width="0.25" transform="translate(143.30 574.78) scale(1 0.86)">2.8</text>
<line x1="217.30" y1="671.30" x2="217.30" y2="668.10" stroke="#1a1a1a" stroke-width="1"/>
<line x1="286.40" y1="671.30" x2="286.40" y2="668.10" stroke="#1a1a1a" stroke-width="1"/>
<line x1="355.50" y1="671.30" x2="355.50" y2="668.10" stroke="#1a1a1a" stroke-width="1"/>
<line x1="424.60" y1="671.30" x2="424.60" y2="668.10" stroke="#1a1a1a" stroke-width="1"/>
<linearGradient id="bg" x1="0" x2="1" y1="0" y2="0"><stop offset="0" stop-color="#1c1c1c"/><stop offset="0.12" stop-color="#383838"/><stop offset="0.35" stop-color="#262626"/><stop offset="0.65" stop-color="#242424"/><stop offset="0.88" stop-color="#323232"/><stop offset="1" stop-color="#181818"/></linearGradient>
<rect x="168.3" y="634.8" width="28.3" height="36.5" fill="url(#bg)" stroke="#0c0c0c" stroke-width="0.9"/>
<line x1="182.60" y1="622.30" x2="182.60" y2="634.80" stroke="#3a3a3a" stroke-width="0.9"/>
<line x1="182.60" y1="634.80" x2="182.60" y2="647.60" stroke="#787878" stroke-width="0.8"/>
<line x1="180.40" y1="622.30" x2="184.80" y2="622.30" stroke="#3a3a3a" stroke-width="0.9"/>
<line x1="180.40" y1="647.60" x2="184.80" y2="647.60" stroke="#787878" stroke-width="0.8"/>
<rect x="237.8" y="597.0" width="28.7" height="74.3" fill="url(#bg)" stroke="#0c0c0c" stroke-width="0.9"/>
<line x1="251.80" y1="578.60" x2="251.80" y2="597.00" stroke="#3a3a3a" stroke-width="0.9"/>
<line x1="251.80" y1="597.00" x2="251.80" y2="615.40" stroke="#787878" stroke-width="0.8"/>
<line x1="249.60" y1="578.60" x2="254.00" y2="578.60" stroke="#3a3a3a" stroke-width="0.9"/>
<line x1="249.60" y1="615.40" x2="254.00" y2="615.40" stroke="#787878" stroke-width="0.8"/>
<rect x="306.7" y="618.0" width="28.7" height="53.3" fill="url(#bg)" stroke="#0c0c0c" stroke-width="0.9"/>
<line x1="321.40" y1="606.20" x2="321.40" y2="618.00" stroke="#3a3a3a" stroke-width="0.9"/>
<line x1="321.40" y1="618.00" x2="321.40" y2="629.00" stroke="#787878" stroke-width="0.8"/>
<line x1="319.20" y1="606.20" x2="323.60" y2="606.20" stroke="#3a3a3a" stroke-width="0.9"/>
<line x1="319.20" y1="629.00" x2="323.60" y2="629.00" stroke="#787878" stroke-width="0.8"/>
<rect x="375.8" y="632.6" width="28.2" height="38.7" fill="url(#bg)" stroke="#0c0c0c" stroke-width="0.9"/>
<line x1="390.50" y1="625.70" x2="390.50" y2="632.60" stroke="#3a3a3a" stroke-width="0.9"/>
<line x1="390.50" y1="632.60" x2="390.50" y2="638.50" stroke="#787878" stroke-width="0.8"/>
<line x1="388.30" y1="625.70" x2="392.70" y2="625.70" stroke="#3a3a3a" stroke-width="0.9"/>
<line x1="388.30" y1="638.50" x2="392.70" y2="638.50" stroke="#787878" stroke-width="0.8"/>
<text class="se" x="269.90" y="583.40" font-size="18" text-anchor="middle" fill="#111" stroke="#111" stroke-width="0.25">*</text>
<text class="se" x="332.30" y="606.20" font-size="14.5" text-anchor="middle" fill="#111" stroke="#111" stroke-width="0.3">#</text>
<text class="se" x="395.40" y="622.50" font-size="14.5" text-anchor="middle" fill="#111" stroke="#111" stroke-width="0.3">#</text>
<text class="sa" x="0" y="0" font-size="12.4" text-anchor="middle" fill="#111" stroke="#111" stroke-width="0.2" transform="translate(179.30 688.00) scale(1 0.92)">C</text>
<text class="sa" x="0" y="0" font-size="12.4" text-anchor="middle" fill="#111" stroke="#111" stroke-width="0.2" transform="translate(249.30 688.00) scale(1 0.92)">HG</text>
<text class="sa" x="0" y="0" font-size="12.4" text-anchor="middle" fill="#111" stroke="#111" stroke-width="0.2" transform="translate(323.40 688.20) scale(1 0.92)">NCTD2.5</text>
<text class="sa" x="0" y="0" font-size="12.4" text-anchor="middle" fill="#111" stroke="#111" stroke-width="0.2" transform="translate(386.20 688.20) scale(1 0.92)">NCTD5</text>
<text class="sa" x="0" y="0" font-size="13.8" text-anchor="start" fill="#111" stroke="#111" stroke-width="0.2" transform="translate(113.40 689.60) rotate(-90)">Relative band intensity</text>
</g>
</svg>
</body></html>
